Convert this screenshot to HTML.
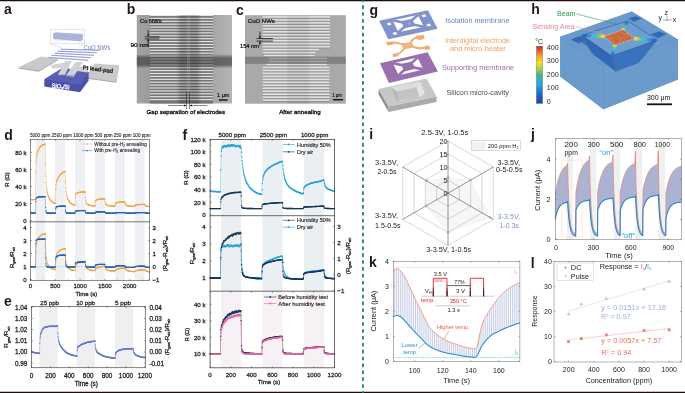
<!DOCTYPE html>
<html><head><meta charset="utf-8"><style>
html,body{margin:0;padding:0;background:#fff;width:685px;height:393px;overflow:hidden}
svg{display:block;will-change:transform;font-family:"Liberation Sans",sans-serif}
</style></head><body>
<svg width="685" height="393" viewBox="0 0 685 393">
<rect x="0" y="0" width="685" height="1.25" fill="#1f0d0c" />
<rect x="0" y="391.75" width="685" height="1.25" fill="#1f0d0c" />
<line x1="362.95" y1="-1.59" x2="362.95" y2="393" stroke="#1b7c4c" stroke-width="1.7" stroke-dasharray="3.6,3.29"/>
<rect x="35.37" y="139.6" width="9.93" height="140.9" fill="#eff0f4" />
<rect x="55.23" y="139.6" width="9.93" height="140.9" fill="#eff0f4" />
<rect x="75.1" y="139.6" width="9.93" height="140.9" fill="#eff0f4" />
<rect x="94.97" y="139.6" width="9.93" height="140.9" fill="#eff0f4" />
<rect x="114.83" y="139.6" width="9.93" height="140.9" fill="#eff0f4" />
<rect x="134.7" y="139.6" width="9.93" height="140.9" fill="#eff0f4" />
<line x1="30.4" y1="266.7" x2="149.6" y2="266.7" stroke="#8a8a8a" stroke-width="0.4" stroke-dasharray="1,0.8"/>
<defs><marker id="m0" markerUnits="userSpaceOnUse" markerWidth="1.44" markerHeight="1.44" refX="0.72" refY="0.72" overflow="visible"><circle cx="0.72" cy="0.72" r="0.62" fill="#f2a444"/></marker></defs>
<polyline points="30.4,199.58 30.7,199.58 31,199.58 31.29,199.58 31.59,199.58 31.89,199.58 32.19,199.58 32.49,199.58 32.78,199.58 33.08,199.58 33.38,199.58 33.68,199.58 33.98,199.58 34.27,199.58 34.57,199.58 34.87,199.58 35.17,199.58 35.47,199.58 35.76,171.42 36.06,161.81 36.36,157.9 36.66,155.81 36.96,154.37 37.25,153.2 37.55,152.19 37.85,151.3 38.15,150.51 38.45,149.79 38.74,149.16 39.04,148.58 39.34,148.07 39.64,147.61 39.94,147.2 40.23,146.83 40.53,146.5 40.83,146.2 41.13,145.93 41.43,145.69 41.72,145.48 42.02,145.29 42.32,145.11 42.62,144.96 42.92,144.82 43.21,144.7 43.51,144.58 43.81,144.48 44.11,144.4 44.41,144.31 44.7,144.24 45,144.18 45.3,144.12 45.6,164.55 45.9,175.88 46.19,182.45 46.49,186.52 46.79,189.23 47.09,191.18 47.39,192.69 47.68,193.93 47.98,194.98 48.28,195.9 48.58,196.72 48.88,197.44 49.17,198.1 49.47,198.68 49.77,199.21 50.07,199.69 50.37,200.13 50.66,200.52 50.96,200.88 51.26,201.2 51.56,201.49 51.86,201.75 52.15,201.99 52.45,202.2 52.75,202.4 53.05,202.57 53.35,202.73 53.64,202.88 53.94,203.01 54.24,203.13 54.54,203.23 54.84,203.33 55.13,203.42 55.43,203.5 55.73,189.45 56.03,184.6 56.33,182.56 56.62,181.4 56.92,180.55 57.22,179.81 57.52,179.15 57.82,178.53 58.11,177.96 58.41,177.42 58.71,176.92 59.01,176.45 59.31,176.01 59.6,175.6 59.9,175.21 60.2,174.86 60.5,174.52 60.8,174.2 61.09,173.91 61.39,173.63 61.69,173.38 61.99,173.14 62.29,172.91 62.58,172.7 62.88,172.5 63.18,172.32 63.48,172.14 63.78,171.98 64.07,171.83 64.37,171.69 64.67,171.56 64.97,171.43 65.27,171.32 65.56,181.91 65.86,187.93 66.16,191.55 66.46,193.89 66.76,195.52 67.05,196.75 67.35,197.73 67.65,198.56 67.95,199.27 68.25,199.9 68.54,200.46 68.84,200.97 69.14,201.42 69.44,201.83 69.74,202.2 70.03,202.53 70.33,202.83 70.63,203.1 70.93,203.35 71.23,203.57 71.52,203.78 71.82,203.96 72.12,204.12 72.42,204.27 72.72,204.41 73.01,204.53 73.31,204.64 73.61,204.74 73.91,204.83 74.21,204.91 74.5,204.99 74.8,205.06 75.1,205.12 75.4,197.2 75.7,194.69 75.99,193.81 76.29,193.44 76.59,193.23 76.89,193.08 77.19,192.95 77.48,192.84 77.78,192.74 78.08,192.66 78.38,192.58 78.68,192.5 78.97,192.44 79.27,192.38 79.57,192.32 79.87,192.28 80.17,192.23 80.46,192.19 80.76,192.16 81.06,192.12 81.36,192.09 81.66,192.07 81.95,192.04 82.25,192.02 82.55,192 82.85,191.98 83.15,191.97 83.44,191.95 83.74,191.94 84.04,191.93 84.34,191.92 84.64,191.91 84.93,191.9 85.23,191.89 85.53,197.54 85.83,200.55 86.13,202.2 86.42,203.14 86.72,203.71 87.02,204.08 87.32,204.34 87.62,204.53 87.91,204.69 88.21,204.82 88.51,204.93 88.81,205.03 89.11,205.12 89.4,205.2 89.7,205.27 90,205.34 90.3,205.39 90.6,205.45 90.89,205.49 91.19,205.54 91.49,205.58 91.79,205.61 92.09,205.64 92.38,205.67 92.68,205.7 92.98,205.72 93.28,205.75 93.58,205.76 93.87,205.78 94.17,205.8 94.47,205.81 94.77,205.83 95.07,205.84 95.36,201.91 95.66,200.63 95.96,200.17 96.26,199.95 96.56,199.82 96.85,199.71 97.15,199.62 97.45,199.54 97.75,199.47 98.05,199.4 98.34,199.34 98.64,199.28 98.94,199.23 99.24,199.18 99.54,199.14 99.83,199.1 100.13,199.06 100.43,199.03 100.73,199 101.03,198.97 101.32,198.94 101.62,198.92 101.92,198.9 102.22,198.88 102.52,198.86 102.81,198.84 103.11,198.83 103.41,198.81 103.71,198.8 104.01,198.79 104.3,198.78 104.6,198.77 104.9,198.76 105.2,201.58 105.5,203.1 105.79,203.95 106.09,204.44 106.39,204.75 106.69,204.95 106.99,205.1 107.28,205.22 107.58,205.32 107.88,205.4 108.18,205.47 108.48,205.53 108.77,205.59 109.07,205.64 109.37,205.69 109.67,205.73 109.97,205.76 110.26,205.8 110.56,205.83 110.86,205.86 111.16,205.88 111.46,205.9 111.75,205.93 112.05,205.94 112.35,205.96 112.65,205.98 112.95,205.99 113.24,206 113.54,206.01 113.84,206.02 114.14,206.03 114.44,206.04 114.73,206.05 115.03,206.06 115.33,203.87 115.63,203.15 115.93,202.88 116.22,202.74 116.52,202.65 116.82,202.58 117.12,202.51 117.42,202.45 117.71,202.4 118.01,202.35 118.31,202.31 118.61,202.27 118.91,202.23 119.2,202.2 119.5,202.17 119.8,202.14 120.1,202.11 120.4,202.09 120.69,202.07 120.99,202.05 121.29,202.03 121.59,202.01 121.89,201.99 122.18,201.98 122.48,201.97 122.78,201.95 123.08,201.94 123.38,201.93 123.67,201.92 123.97,201.92 124.27,201.91 124.57,201.9 124.87,201.89 125.16,203.48 125.46,204.36 125.76,204.86 126.06,205.16 126.36,205.36 126.65,205.49 126.95,205.6 127.25,205.68 127.55,205.76 127.85,205.82 128.14,205.87 128.44,205.92 128.74,205.96 129.04,206 129.34,206.04 129.63,206.07 129.93,206.1 130.23,206.13 130.53,206.15 130.83,206.17 131.12,206.19 131.42,206.21 131.72,206.22 132.02,206.24 132.32,206.25 132.61,206.26 132.91,206.27 133.21,206.28 133.51,206.29 133.81,206.3 134.1,206.31 134.4,206.31 134.7,206.32 135,205.32 135.3,204.99 135.59,204.86 135.89,204.8 136.19,204.76 136.49,204.73 136.79,204.7 137.08,204.68 137.38,204.65 137.68,204.63 137.98,204.61 138.28,204.59 138.57,204.58 138.87,204.56 139.17,204.55 139.47,204.54 139.77,204.53 140.06,204.52 140.36,204.51 140.66,204.5 140.96,204.49 141.26,204.48 141.55,204.47 141.85,204.47 142.15,204.46 142.45,204.46 142.75,204.45 143.04,204.45 143.34,204.44 143.64,204.44 143.94,204.44 144.24,204.43 144.53,204.43 144.83,204.43 145.13,205.19 145.43,205.62 145.73,205.87 146.02,206.03 146.32,206.14 146.62,206.22 146.92,206.29 147.22,206.34 147.51,206.39 147.81,206.43 148.11,206.46 148.41,206.5 148.71,206.53 149,206.55 149.3,206.58 149.6,206.6" fill="none" stroke="#f2a444" stroke-width="0.35" marker-start="url(#m0)" marker-mid="url(#m0)" marker-end="url(#m0)" />
<defs><marker id="m1" markerUnits="userSpaceOnUse" markerWidth="1.44" markerHeight="1.44" refX="0.72" refY="0.72" overflow="visible"><circle cx="0.72" cy="0.72" r="0.62" fill="#2464b2"/></marker></defs>
<polyline points="30.4,213.09 30.7,213.09 31,213.09 31.29,213.09 31.59,213.09 31.89,213.09 32.19,213.09 32.49,213.09 32.78,213.09 33.08,213.09 33.38,213.09 33.68,213.09 33.98,213.09 34.27,213.09 34.57,213.09 34.87,213.09 35.17,213.09 35.47,213.09 35.76,201.58 36.06,198.83 36.36,198.06 36.66,197.76 36.96,197.57 37.25,197.43 37.55,197.31 37.85,197.21 38.15,197.13 38.45,197.06 38.74,196.99 39.04,196.94 39.34,196.89 39.64,196.85 39.94,196.82 40.23,196.79 40.53,196.76 40.83,196.74 41.13,196.72 41.43,196.7 41.72,196.69 42.02,196.68 42.32,196.66 42.62,196.66 42.92,196.65 43.21,196.64 43.51,196.64 43.81,196.63 44.11,196.63 44.41,196.62 44.7,196.62 45,196.62 45.3,196.61 45.6,207.41 45.9,210.92 46.19,212.14 46.49,212.63 46.79,212.85 47.09,212.97 47.39,213.04 47.68,213.09 47.98,213.12 48.28,213.14 48.58,213.15 48.88,213.16 49.17,213.16 49.47,213.17 49.77,213.17 50.07,213.17 50.37,213.17 50.66,213.17 50.96,213.17 51.26,213.17 51.56,213.17 51.86,213.17 52.15,213.17 52.45,213.17 52.75,213.17 53.05,213.17 53.35,213.17 53.64,213.17 53.94,213.17 54.24,213.17 54.54,213.17 54.84,213.17 55.13,213.17 55.43,213.17 55.73,208.4 56.03,207.23 56.33,206.89 56.62,206.74 56.92,206.65 57.22,206.57 57.52,206.51 57.82,206.45 58.11,206.41 58.41,206.37 58.71,206.33 59.01,206.3 59.31,206.28 59.6,206.26 59.9,206.24 60.2,206.22 60.5,206.21 60.8,206.19 61.09,206.18 61.39,206.18 61.69,206.17 61.99,206.16 62.29,206.16 62.58,206.15 62.88,206.15 63.18,206.14 63.48,206.14 63.78,206.14 64.07,206.13 64.37,206.13 64.67,206.13 64.97,206.13 65.27,206.13 65.56,210.65 65.86,212.14 66.16,212.68 66.46,212.9 66.76,213.01 67.05,213.07 67.35,213.11 67.65,213.13 67.95,213.14 68.25,213.15 68.54,213.16 68.84,213.17 69.14,213.17 69.44,213.17 69.74,213.17 70.03,213.17 70.33,213.17 70.63,213.17 70.93,213.17 71.23,213.17 71.52,213.17 71.82,213.17 72.12,213.17 72.42,213.17 72.72,213.17 73.01,213.17 73.31,213.17 73.61,213.17 73.91,213.17 74.21,213.17 74.5,213.17 74.8,213.17 75.1,213.17 75.4,211.45 75.7,211.02 75.99,210.89 76.29,210.83 76.59,210.78 76.89,210.75 77.19,210.72 77.48,210.69 77.78,210.67 78.08,210.65 78.38,210.64 78.68,210.62 78.97,210.61 79.27,210.6 79.57,210.59 79.87,210.59 80.17,210.58 80.46,210.57 80.76,210.57 81.06,210.57 81.36,210.56 81.66,210.56 81.95,210.56 82.25,210.55 82.55,210.55 82.85,210.55 83.15,210.55 83.44,210.55 83.74,210.55 84.04,210.55 84.34,210.54 84.64,210.54 84.93,210.54 85.23,210.54 85.53,212.2 85.83,212.75 86.13,212.96 86.42,213.06 86.72,213.1 87.02,213.13 87.32,213.14 87.62,213.15 87.91,213.16 88.21,213.17 88.51,213.17 88.81,213.17 89.11,213.17 89.4,213.17 89.7,213.17 90,213.17 90.3,213.17 90.6,213.17 90.89,213.17 91.19,213.17 91.49,213.17 91.79,213.17 92.09,213.17 92.38,213.17 92.68,213.17 92.98,213.17 93.28,213.17 93.58,213.17 93.87,213.17 94.17,213.17 94.47,213.17 94.77,213.17 95.07,213.17 95.36,212.34 95.66,212.12 95.96,212.04 96.26,212 96.56,211.98 96.85,211.95 97.15,211.93 97.45,211.92 97.75,211.9 98.05,211.89 98.34,211.88 98.64,211.87 98.94,211.86 99.24,211.86 99.54,211.85 99.83,211.85 100.13,211.84 100.43,211.84 100.73,211.83 101.03,211.83 101.32,211.83 101.62,211.83 101.92,211.83 102.22,211.82 102.52,211.82 102.81,211.82 103.11,211.82 103.41,211.82 103.71,211.82 104.01,211.82 104.3,211.82 104.6,211.82 104.9,211.82 105.2,212.64 105.5,212.93 105.79,213.05 106.09,213.1 106.39,213.13 106.69,213.14 106.99,213.15 107.28,213.16 107.58,213.17 107.88,213.17 108.18,213.17 108.48,213.17 108.77,213.17 109.07,213.17 109.37,213.17 109.67,213.17 109.97,213.17 110.26,213.17 110.56,213.17 110.86,213.17 111.16,213.17 111.46,213.17 111.75,213.17 112.05,213.17 112.35,213.17 112.65,213.17 112.95,213.17 113.24,213.17 113.54,213.17 113.84,213.17 114.14,213.17 114.44,213.17 114.73,213.17 115.03,213.17 115.33,212.82 115.63,212.73 115.93,212.69 116.22,212.67 116.52,212.66 116.82,212.65 117.12,212.64 117.42,212.63 117.71,212.62 118.01,212.62 118.31,212.61 118.61,212.61 118.91,212.6 119.2,212.6 119.5,212.6 119.8,212.6 120.1,212.59 120.4,212.59 120.69,212.59 120.99,212.59 121.29,212.59 121.59,212.59 121.89,212.59 122.18,212.58 122.48,212.58 122.78,212.58 123.08,212.58 123.38,212.58 123.67,212.58 123.97,212.58 124.27,212.58 124.57,212.58 124.87,212.58 125.16,212.93 125.46,213.06 125.76,213.11 126.06,213.14 126.36,213.15 126.65,213.16 126.95,213.16 127.25,213.17 127.55,213.17 127.85,213.17 128.14,213.17 128.44,213.17 128.74,213.17 129.04,213.17 129.34,213.17 129.63,213.17 129.93,213.17 130.23,213.17 130.53,213.17 130.83,213.17 131.12,213.17 131.42,213.17 131.72,213.17 132.02,213.17 132.32,213.17 132.61,213.17 132.91,213.17 133.21,213.17 133.51,213.17 133.81,213.17 134.1,213.17 134.4,213.17 134.7,213.17 135,212.82 135.3,212.73 135.59,212.69 135.89,212.67 136.19,212.66 136.49,212.65 136.79,212.64 137.08,212.63 137.38,212.62 137.68,212.62 137.98,212.61 138.28,212.61 138.57,212.6 138.87,212.6 139.17,212.6 139.47,212.6 139.77,212.59 140.06,212.59 140.36,212.59 140.66,212.59 140.96,212.59 141.26,212.59 141.55,212.59 141.85,212.58 142.15,212.58 142.45,212.58 142.75,212.58 143.04,212.58 143.34,212.58 143.64,212.58 143.94,212.58 144.24,212.58 144.53,212.58 144.83,212.58 145.13,212.93 145.43,213.06 145.73,213.11 146.02,213.14 146.32,213.15 146.62,213.16 146.92,213.16 147.22,213.17 147.51,213.17 147.81,213.17 148.11,213.17 148.41,213.17 148.71,213.17 149,213.17 149.3,213.17 149.6,213.17" fill="none" stroke="#2464b2" stroke-width="0.35" marker-start="url(#m1)" marker-mid="url(#m1)" marker-end="url(#m1)" />
<polyline points="30.4,266.96 30.7,266.96 31,266.96 31.29,266.96 31.59,266.96 31.89,266.96 32.19,266.96 32.49,266.96 32.78,266.96 33.08,266.96 33.38,266.96 33.68,266.96 33.98,266.96 34.27,266.96 34.57,266.96 34.87,266.96 35.17,266.96 35.47,266.96 35.76,252.51 36.06,246.5 36.36,243.68 36.66,242.08 36.96,241 37.25,240.15 37.55,239.44 37.85,238.83 38.15,238.28 38.45,237.79 38.74,237.35 39.04,236.96 39.34,236.6 39.64,236.29 39.94,236.01 40.23,235.75 40.53,235.52 40.83,235.32 41.13,235.14 41.43,234.97 41.72,234.83 42.02,234.69 42.32,234.58 42.62,234.47 42.92,234.37 43.21,234.29 43.51,234.21 43.81,234.14 44.11,234.08 44.41,234.03 44.7,233.98 45,233.93 45.3,233.89 45.6,246.58 45.9,253.28 46.19,257.08 46.49,259.43 46.79,261.03 47.09,262.23 47.39,263.18 47.68,263.98 47.98,264.66 48.28,265.25 48.58,265.77 48.88,266.23 49.17,266.64 49.47,267 49.77,267.32 50.07,267.6 50.37,267.85 50.66,268.08 50.96,268.27 51.26,268.45 51.56,268.6 51.86,268.74 52.15,268.86 52.45,268.97 52.75,269.07 53.05,269.15 53.35,269.23 53.64,269.29 53.94,269.35 54.24,269.41 54.54,269.45 54.84,269.49 55.13,269.53 55.43,269.56 55.73,260.66 56.03,257.01 56.33,255.32 56.62,254.39 56.92,253.75 57.22,253.25 57.52,252.82 57.82,252.44 58.11,252.09 58.41,251.77 58.71,251.48 59.01,251.22 59.31,250.97 59.6,250.75 59.9,250.54 60.2,250.35 60.5,250.18 60.8,250.02 61.09,249.87 61.39,249.74 61.69,249.62 61.99,249.5 62.29,249.4 62.58,249.3 62.88,249.22 63.18,249.14 63.48,249.06 63.78,249 64.07,248.93 64.37,248.88 64.67,248.82 64.97,248.78 65.27,248.73 65.56,256.59 65.86,260.72 66.16,263.04 66.46,264.47 66.76,265.43 67.05,266.14 67.35,266.7 67.65,267.17 67.95,267.57 68.25,267.92 68.54,268.23 68.84,268.5 69.14,268.74 69.44,268.95 69.74,269.13 70.03,269.3 70.33,269.45 70.63,269.58 70.93,269.69 71.23,269.8 71.52,269.89 71.82,269.97 72.12,270.04 72.42,270.1 72.72,270.16 73.01,270.21 73.31,270.25 73.61,270.29 73.91,270.33 74.21,270.36 74.5,270.39 74.8,270.41 75.1,270.43 75.4,267.11 75.7,265.66 75.99,264.9 76.29,264.43 76.59,264.09 76.89,263.8 77.19,263.55 77.48,263.33 77.78,263.13 78.08,262.95 78.38,262.78 78.68,262.64 78.97,262.5 79.27,262.38 79.57,262.28 79.87,262.18 80.17,262.09 80.46,262.01 80.76,261.93 81.06,261.87 81.36,261.81 81.66,261.75 81.95,261.71 82.25,261.66 82.55,261.62 82.85,261.58 83.15,261.55 83.44,261.52 83.74,261.5 84.04,261.47 84.34,261.45 84.64,261.43 84.93,261.41 85.23,261.39 85.53,264.32 85.83,265.92 86.13,266.87 86.42,267.49 86.72,267.94 87.02,268.28 87.32,268.57 87.62,268.81 87.91,269.01 88.21,269.2 88.51,269.36 88.81,269.5 89.11,269.62 89.4,269.73 89.7,269.83 90,269.92 90.3,269.99 90.6,270.06 90.89,270.12 91.19,270.18 91.49,270.23 91.79,270.27 92.09,270.31 92.38,270.34 92.68,270.37 92.98,270.39 93.28,270.42 93.58,270.44 93.87,270.46 94.17,270.47 94.47,270.49 94.77,270.5 95.07,270.51 95.36,269.46 95.66,268.95 95.96,268.64 96.26,268.42 96.56,268.23 96.85,268.07 97.15,267.92 97.45,267.79 97.75,267.66 98.05,267.54 98.34,267.44 98.64,267.34 98.94,267.24 99.24,267.16 99.54,267.08 99.83,267 100.13,266.93 100.43,266.87 100.73,266.81 101.03,266.76 101.32,266.7 101.62,266.66 101.92,266.61 102.22,266.57 102.52,266.53 102.81,266.5 103.11,266.47 103.41,266.44 103.71,266.41 104.01,266.38 104.3,266.36 104.6,266.34 104.9,266.32 105.2,267.4 105.5,268.07 105.79,268.54 106.09,268.89 106.39,269.17 106.69,269.4 106.99,269.6 107.28,269.78 107.58,269.93 107.88,270.06 108.18,270.18 108.48,270.29 108.77,270.38 109.07,270.47 109.37,270.54 109.67,270.61 109.97,270.66 110.26,270.72 110.56,270.76 110.86,270.8 111.16,270.84 111.46,270.87 111.75,270.9 112.05,270.92 112.35,270.95 112.65,270.97 112.95,270.98 113.24,271 113.54,271.01 113.84,271.02 114.14,271.04 114.44,271.04 114.73,271.05 115.03,271.06 115.33,270.46 115.63,270.13 115.93,269.91 116.22,269.73 116.52,269.58 116.82,269.44 117.12,269.32 117.42,269.21 117.71,269.1 118.01,269 118.31,268.91 118.61,268.83 118.91,268.75 119.2,268.67 119.5,268.61 119.8,268.54 120.1,268.49 120.4,268.43 120.69,268.38 120.99,268.34 121.29,268.29 121.59,268.25 121.89,268.22 122.18,268.18 122.48,268.15 122.78,268.12 123.08,268.09 123.38,268.07 123.67,268.04 123.97,268.02 124.27,268 124.57,267.98 124.87,267.96 125.16,268.65 125.46,269.12 125.76,269.46 126.06,269.74 126.36,269.96 126.65,270.16 126.95,270.33 127.25,270.48 127.55,270.61 127.85,270.73 128.14,270.83 128.44,270.92 128.74,271 129.04,271.08 129.34,271.14 129.63,271.2 129.93,271.25 130.23,271.29 130.53,271.33 130.83,271.37 131.12,271.4 131.42,271.42 131.72,271.45 132.02,271.47 132.32,271.49 132.61,271.51 132.91,271.52 133.21,271.53 133.51,271.55 133.81,271.56 134.1,271.57 134.4,271.57 134.7,271.58 135,271.22 135.3,271.02 135.59,270.88 135.89,270.78 136.19,270.68 136.49,270.6 136.79,270.53 137.08,270.46 137.38,270.39 137.68,270.33 137.98,270.28 138.28,270.22 138.57,270.18 138.87,270.13 139.17,270.09 139.47,270.05 139.77,270.02 140.06,269.98 140.36,269.95 140.66,269.92 140.96,269.9 141.26,269.87 141.55,269.85 141.85,269.83 142.15,269.81 142.45,269.79 142.75,269.78 143.04,269.76 143.34,269.75 143.64,269.73 143.94,269.72 144.24,269.71 144.53,269.7 144.83,269.69 145.13,270.13 145.43,270.43 145.73,270.67 146.02,270.85 146.32,271.01 146.62,271.14 146.92,271.26 147.22,271.36 147.51,271.45 147.81,271.53 148.11,271.6 148.41,271.67 148.71,271.72 149,271.77 149.3,271.82 149.6,271.85" fill="none" stroke="#f2a444" stroke-width="0.35" marker-start="url(#m0)" marker-mid="url(#m0)" marker-end="url(#m0)" />
<polyline points="30.4,266.7 30.7,266.7 31,266.7 31.29,266.7 31.59,266.7 31.89,266.7 32.19,266.7 32.49,266.7 32.78,266.7 33.08,266.7 33.38,266.7 33.68,266.7 33.98,266.7 34.27,266.7 34.57,266.7 34.87,266.7 35.17,266.7 35.47,266.7 35.76,243.91 36.06,240.62 36.36,240 36.66,239.78 36.96,239.63 37.25,239.52 37.55,239.43 37.85,239.35 38.15,239.29 38.45,239.24 38.74,239.2 39.04,239.16 39.34,239.14 39.64,239.11 39.94,239.09 40.23,239.08 40.53,239.07 40.83,239.06 41.13,239.05 41.43,239.04 41.72,239.04 42.02,239.03 42.32,239.03 42.62,239.02 42.92,239.02 43.21,239.02 43.51,239.02 43.81,239.02 44.11,239.02 44.41,239.01 44.7,239.01 45,239.01 45.3,239.01 45.6,257.87 45.9,263.8 46.19,265.75 46.49,266.46 46.79,266.74 47.09,266.88 47.39,266.96 47.68,267 47.98,267.03 48.28,267.05 48.58,267.06 48.88,267.07 49.17,267.08 49.47,267.08 49.77,267.08 50.07,267.09 50.37,267.09 50.66,267.09 50.96,267.09 51.26,267.09 51.56,267.09 51.86,267.09 52.15,267.09 52.45,267.09 52.75,267.09 53.05,267.09 53.35,267.09 53.64,267.09 53.94,267.09 54.24,267.09 54.54,267.09 54.84,267.09 55.13,267.09 55.43,267.09 55.73,258.81 56.03,257.38 56.33,256.93 56.62,256.64 56.92,256.41 57.22,256.22 57.52,256.05 57.82,255.9 58.11,255.78 58.41,255.67 58.71,255.57 59.01,255.49 59.31,255.43 59.6,255.37 59.9,255.32 60.2,255.27 60.5,255.23 60.8,255.2 61.09,255.17 61.39,255.15 61.69,255.13 61.99,255.11 62.29,255.09 62.58,255.08 62.88,255.07 63.18,255.06 63.48,255.05 63.78,255.04 64.07,255.04 64.37,255.03 64.67,255.03 64.97,255.02 65.27,255.02 65.56,262.36 65.86,264.93 66.16,265.95 66.46,266.42 66.76,266.67 67.05,266.81 67.35,266.91 67.65,266.97 67.95,267.01 68.25,267.04 68.54,267.05 68.84,267.07 69.14,267.07 69.44,267.08 69.74,267.08 70.03,267.09 70.33,267.09 70.63,267.09 70.93,267.09 71.23,267.09 71.52,267.09 71.82,267.09 72.12,267.09 72.42,267.09 72.72,267.09 73.01,267.09 73.31,267.09 73.61,267.09 73.91,267.09 74.21,267.09 74.5,267.09 74.8,267.09 75.1,267.09 75.4,263.54 75.7,262.92 75.99,262.73 76.29,262.6 76.59,262.5 76.89,262.42 77.19,262.34 77.48,262.28 77.78,262.23 78.08,262.18 78.38,262.14 78.68,262.1 78.97,262.07 79.27,262.05 79.57,262.03 79.87,262.01 80.17,261.99 80.46,261.98 80.76,261.97 81.06,261.95 81.36,261.95 81.66,261.94 81.95,261.93 82.25,261.93 82.55,261.92 82.85,261.92 83.15,261.91 83.44,261.91 83.74,261.91 84.04,261.9 84.34,261.9 84.64,261.9 84.93,261.9 85.23,261.9 85.53,265.05 85.83,266.16 86.13,266.59 86.42,266.8 86.72,266.91 87.02,266.97 87.32,267.01 87.62,267.04 87.91,267.05 88.21,267.07 88.51,267.07 88.81,267.08 89.11,267.08 89.4,267.09 89.7,267.09 90,267.09 90.3,267.09 90.6,267.09 90.89,267.09 91.19,267.09 91.49,267.09 91.79,267.09 92.09,267.09 92.38,267.09 92.68,267.09 92.98,267.09 93.28,267.09 93.58,267.09 93.87,267.09 94.17,267.09 94.47,267.09 94.77,267.09 95.07,267.09 95.36,265.3 95.66,264.97 95.96,264.86 96.26,264.79 96.56,264.73 96.85,264.68 97.15,264.63 97.45,264.59 97.75,264.56 98.05,264.53 98.34,264.51 98.64,264.49 98.94,264.47 99.24,264.46 99.54,264.44 99.83,264.43 100.13,264.42 100.43,264.41 100.73,264.41 101.03,264.4 101.32,264.39 101.62,264.39 101.92,264.38 102.22,264.38 102.52,264.38 102.81,264.38 103.11,264.37 103.41,264.37 103.71,264.37 104.01,264.37 104.3,264.37 104.6,264.37 104.9,264.37 105.2,266.03 105.5,266.64 105.79,266.89 106.09,267.02 106.39,267.09 106.69,267.14 106.99,267.16 107.28,267.18 107.58,267.2 107.88,267.2 108.18,267.21 108.48,267.21 108.77,267.22 109.07,267.22 109.37,267.22 109.67,267.22 109.97,267.22 110.26,267.22 110.56,267.22 110.86,267.22 111.16,267.22 111.46,267.22 111.75,267.22 112.05,267.22 112.35,267.22 112.65,267.22 112.95,267.22 113.24,267.22 113.54,267.22 113.84,267.22 114.14,267.22 114.44,267.22 114.73,267.22 115.03,267.22 115.33,266.25 115.63,266.06 115.93,265.99 116.22,265.95 116.52,265.91 116.82,265.87 117.12,265.84 117.42,265.82 117.71,265.79 118.01,265.78 118.31,265.76 118.61,265.75 118.91,265.73 119.2,265.72 119.5,265.71 119.8,265.71 120.1,265.7 120.4,265.69 120.69,265.69 120.99,265.69 121.29,265.68 121.59,265.68 121.89,265.68 122.18,265.67 122.48,265.67 122.78,265.67 123.08,265.67 123.38,265.67 123.67,265.67 123.97,265.67 124.27,265.66 124.57,265.66 124.87,265.66 125.16,266.6 125.46,266.97 125.76,267.13 126.06,267.21 126.36,267.26 126.65,267.29 126.95,267.31 127.25,267.32 127.55,267.33 127.85,267.34 128.14,267.34 128.44,267.34 128.74,267.35 129.04,267.35 129.34,267.35 129.63,267.35 129.93,267.35 130.23,267.35 130.53,267.35 130.83,267.35 131.12,267.35 131.42,267.35 131.72,267.35 132.02,267.35 132.32,267.35 132.61,267.35 132.91,267.35 133.21,267.35 133.51,267.35 133.81,267.35 134.1,267.35 134.4,267.35 134.7,267.35 135,266.72 135.3,266.58 135.59,266.51 135.89,266.47 136.19,266.43 136.49,266.39 136.79,266.36 137.08,266.34 137.38,266.31 137.68,266.3 137.98,266.28 138.28,266.27 138.57,266.25 138.87,266.24 139.17,266.23 139.47,266.23 139.77,266.22 140.06,266.21 140.36,266.21 140.66,266.21 140.96,266.2 141.26,266.2 141.55,266.2 141.85,266.19 142.15,266.19 142.45,266.19 142.75,266.19 143.04,266.19 143.34,266.19 143.64,266.19 143.94,266.18 144.24,266.18 144.53,266.18 144.83,266.18 145.13,266.81 145.43,267.06 145.73,267.18 146.02,267.24 146.32,267.28 146.62,267.3 146.92,267.32 147.22,267.33 147.51,267.34 147.81,267.34 148.11,267.34 148.41,267.35 148.71,267.35 149,267.35 149.3,267.35 149.6,267.35" fill="none" stroke="#2464b2" stroke-width="0.35" marker-start="url(#m1)" marker-mid="url(#m1)" marker-end="url(#m1)" />
<rect x="30.4" y="139.6" width="119.2" height="140.9" fill="none" stroke="#6a6a6a" stroke-width="0.75"/>
<line x1="29.2" y1="221.8" x2="149.6" y2="221.8" stroke="#4a4a4a" stroke-width="0.75" />
<line x1="30.4" y1="220.4" x2="32" y2="220.4" stroke="#231f20" stroke-width="0.4" />
<line x1="30.4" y1="211.9" x2="31.4" y2="211.9" stroke="#231f20" stroke-width="0.4" />
<line x1="30.4" y1="203.4" x2="32" y2="203.4" stroke="#231f20" stroke-width="0.4" />
<line x1="30.4" y1="194.9" x2="31.4" y2="194.9" stroke="#231f20" stroke-width="0.4" />
<line x1="30.4" y1="186.4" x2="32" y2="186.4" stroke="#231f20" stroke-width="0.4" />
<line x1="30.4" y1="177.9" x2="31.4" y2="177.9" stroke="#231f20" stroke-width="0.4" />
<line x1="30.4" y1="169.4" x2="32" y2="169.4" stroke="#231f20" stroke-width="0.4" />
<line x1="30.4" y1="160.9" x2="31.4" y2="160.9" stroke="#231f20" stroke-width="0.4" />
<line x1="30.4" y1="152.4" x2="32" y2="152.4" stroke="#231f20" stroke-width="0.4" />
<line x1="30.4" y1="279.7" x2="32" y2="279.7" stroke="#231f20" stroke-width="0.4" />
<line x1="149.6" y1="279.7" x2="148" y2="279.7" stroke="#231f20" stroke-width="0.4" />
<line x1="30.4" y1="266.7" x2="32" y2="266.7" stroke="#231f20" stroke-width="0.4" />
<line x1="149.6" y1="266.7" x2="148" y2="266.7" stroke="#231f20" stroke-width="0.4" />
<line x1="30.4" y1="253.7" x2="32" y2="253.7" stroke="#231f20" stroke-width="0.4" />
<line x1="149.6" y1="253.7" x2="148" y2="253.7" stroke="#231f20" stroke-width="0.4" />
<line x1="30.4" y1="240.7" x2="32" y2="240.7" stroke="#231f20" stroke-width="0.4" />
<line x1="149.6" y1="240.7" x2="148" y2="240.7" stroke="#231f20" stroke-width="0.4" />
<line x1="30.4" y1="227.7" x2="32" y2="227.7" stroke="#231f20" stroke-width="0.4" />
<line x1="149.6" y1="227.7" x2="148" y2="227.7" stroke="#231f20" stroke-width="0.4" />
<line x1="30.4" y1="280.5" x2="30.4" y2="278.9" stroke="#231f20" stroke-width="0.4" />
<line x1="30.4" y1="139.6" x2="30.4" y2="141.2" stroke="#231f20" stroke-width="0.4" />
<line x1="42.82" y1="280.5" x2="42.82" y2="279.5" stroke="#231f20" stroke-width="0.4" />
<line x1="42.82" y1="139.6" x2="42.82" y2="140.6" stroke="#231f20" stroke-width="0.4" />
<line x1="55.23" y1="280.5" x2="55.23" y2="278.9" stroke="#231f20" stroke-width="0.4" />
<line x1="55.23" y1="139.6" x2="55.23" y2="141.2" stroke="#231f20" stroke-width="0.4" />
<line x1="67.65" y1="280.5" x2="67.65" y2="279.5" stroke="#231f20" stroke-width="0.4" />
<line x1="67.65" y1="139.6" x2="67.65" y2="140.6" stroke="#231f20" stroke-width="0.4" />
<line x1="80.07" y1="280.5" x2="80.07" y2="278.9" stroke="#231f20" stroke-width="0.4" />
<line x1="80.07" y1="139.6" x2="80.07" y2="141.2" stroke="#231f20" stroke-width="0.4" />
<line x1="92.48" y1="280.5" x2="92.48" y2="279.5" stroke="#231f20" stroke-width="0.4" />
<line x1="92.48" y1="139.6" x2="92.48" y2="140.6" stroke="#231f20" stroke-width="0.4" />
<line x1="104.9" y1="280.5" x2="104.9" y2="278.9" stroke="#231f20" stroke-width="0.4" />
<line x1="104.9" y1="139.6" x2="104.9" y2="141.2" stroke="#231f20" stroke-width="0.4" />
<line x1="117.32" y1="280.5" x2="117.32" y2="279.5" stroke="#231f20" stroke-width="0.4" />
<line x1="117.32" y1="139.6" x2="117.32" y2="140.6" stroke="#231f20" stroke-width="0.4" />
<line x1="129.73" y1="280.5" x2="129.73" y2="278.9" stroke="#231f20" stroke-width="0.4" />
<line x1="129.73" y1="139.6" x2="129.73" y2="141.2" stroke="#231f20" stroke-width="0.4" />
<line x1="142.15" y1="280.5" x2="142.15" y2="279.5" stroke="#231f20" stroke-width="0.4" />
<line x1="142.15" y1="139.6" x2="142.15" y2="140.6" stroke="#231f20" stroke-width="0.4" />
<text x="26.6" y="222.56" font-size="6" fill="#231f20" text-anchor="end" stroke="#231f20" stroke-width="0.27">0</text>
<text x="26.6" y="205.56" font-size="6" fill="#231f20" text-anchor="end" stroke="#231f20" stroke-width="0.27">20 k</text>
<text x="26.6" y="188.56" font-size="6" fill="#231f20" text-anchor="end" stroke="#231f20" stroke-width="0.27">40 k</text>
<text x="26.6" y="171.56" font-size="6" fill="#231f20" text-anchor="end" stroke="#231f20" stroke-width="0.27">60 k</text>
<text x="26.6" y="154.56" font-size="6" fill="#231f20" text-anchor="end" stroke="#231f20" stroke-width="0.27">80 k</text>
<text x="26.6" y="281.86" font-size="6" fill="#231f20" text-anchor="end" stroke="#231f20" stroke-width="0.27">0</text>
<text x="152.6" y="281.86" font-size="6" fill="#231f20" stroke="#231f20" stroke-width="0.27">−1</text>
<text x="26.6" y="268.86" font-size="6" fill="#231f20" text-anchor="end" stroke="#231f20" stroke-width="0.27">1</text>
<text x="152.6" y="268.86" font-size="6" fill="#231f20" stroke="#231f20" stroke-width="0.27">0</text>
<text x="26.6" y="255.86" font-size="6" fill="#231f20" text-anchor="end" stroke="#231f20" stroke-width="0.27">2</text>
<text x="152.6" y="255.86" font-size="6" fill="#231f20" stroke="#231f20" stroke-width="0.27">1</text>
<text x="26.6" y="242.86" font-size="6" fill="#231f20" text-anchor="end" stroke="#231f20" stroke-width="0.27">3</text>
<text x="152.6" y="242.86" font-size="6" fill="#231f20" stroke="#231f20" stroke-width="0.27">2</text>
<text x="26.6" y="229.86" font-size="6" fill="#231f20" text-anchor="end" stroke="#231f20" stroke-width="0.27">4</text>
<text x="152.6" y="229.86" font-size="6" fill="#231f20" stroke="#231f20" stroke-width="0.27">3</text>
<text x="30.4" y="288.06" font-size="6" fill="#231f20" text-anchor="middle" stroke="#231f20" stroke-width="0.27">0</text>
<text x="55.23" y="288.06" font-size="6" fill="#231f20" text-anchor="middle" stroke="#231f20" stroke-width="0.27">500</text>
<text x="80.07" y="288.06" font-size="6" fill="#231f20" text-anchor="middle" stroke="#231f20" stroke-width="0.27">1000</text>
<text x="104.9" y="288.06" font-size="6" fill="#231f20" text-anchor="middle" stroke="#231f20" stroke-width="0.27">1500</text>
<text x="129.73" y="288.06" font-size="6" fill="#231f20" text-anchor="middle" stroke="#231f20" stroke-width="0.27">2000</text>
<text x="86.3" y="295.56" font-size="6" fill="#231f20" text-anchor="middle" stroke="#231f20" stroke-width="0.27">Time (s)</text>
<text transform="translate(9.06,179.6) rotate(-90)" font-size="6" fill="#231f20" text-anchor="middle" stroke="#231f20" stroke-width="0.27">R (Ω)</text>
<text transform="translate(13.66,257.5) rotate(-90)" font-size="6" fill="#231f20" text-anchor="middle" stroke="#231f20" stroke-width="0.27">R<tspan dy="1.5" font-size="3.9">gas</tspan><tspan dy="-1.5">/R</tspan><tspan dy="1.5" font-size="3.9">air</tspan></text>
<text transform="translate(166.66,253.5) rotate(-90)" font-size="6" fill="#231f20" text-anchor="middle" stroke="#231f20" stroke-width="0.27">(R<tspan dy="1.5" font-size="3.9">gas</tspan><tspan dy="-1.5">-R</tspan><tspan dy="1.5" font-size="3.9">air</tspan><tspan dy="-1.5">)/R</tspan><tspan dy="1.5" font-size="3.9">air</tspan></text>
<text x="30" y="137.35" font-size="4.57" fill="#231f20" textLength="120.6" lengthAdjust="spacingAndGlyphs" stroke="#231f20" stroke-width="0.1">5000 ppm 2500 ppm 1000 ppm 500 ppm 250 ppm 100 ppm</text>
<line x1="82.2" y1="144" x2="92" y2="144" stroke="#f2a444" stroke-width="0.5" />
<circle cx="87.1" cy="144" r="0.8" fill="#f2a444"/>
<line x1="82.2" y1="150.6" x2="92" y2="150.6" stroke="#2464b2" stroke-width="0.5" />
<circle cx="87.1" cy="150.6" r="0.8" fill="#2464b2"/>
<text x="94.2" y="145.66" font-size="4.6" fill="#231f20" textLength="52.6" lengthAdjust="spacingAndGlyphs" stroke="#231f20" stroke-width="0.1">Without pre-H<tspan dy="1" font-size="3">2</tspan><tspan dy="-1"> annealing</tspan></text>
<text x="94.2" y="152.26" font-size="4.6" fill="#231f20" textLength="45.8" lengthAdjust="spacingAndGlyphs" stroke="#231f20" stroke-width="0.1">With pre-H<tspan dy="1" font-size="3">2</tspan><tspan dy="-1"> annealing</tspan></text>
<text x="4.25" y="139.5" font-size="14" fill="#231815" font-weight="bold">d</text>
<rect x="39.4" y="306.5" width="18.1" height="61.2" fill="#efeff1" />
<rect x="76.8" y="306.5" width="18.2" height="61.2" fill="#efeff1" />
<rect x="115" y="306.5" width="18.2" height="61.2" fill="#efeff1" />
<defs><marker id="m2" markerUnits="userSpaceOnUse" markerWidth="1.64" markerHeight="1.64" refX="0.82" refY="0.82" overflow="visible"><circle cx="0.82" cy="0.82" r="0.72" fill="#6a7ac6"/></marker></defs>
<polyline points="31.6,351.87 31.88,352.09 32.17,352.07 32.45,352.25 32.73,352.33 33.02,352.11 33.3,352.15 33.58,352.62 33.86,352.39 34.15,352.43 34.43,352.87 34.71,352.66 35,352.89 35.28,352.77 35.56,352.9 35.85,352.7 36.13,352.99 36.41,353.15 36.7,353.03 36.98,353.18 37.26,353.19 37.54,352.93 37.83,353.31 38.11,353.27 38.39,353.16 38.68,353.07 38.96,353.52 39.24,353.36 39.53,353.52 39.81,343.35 40.09,338.62 40.38,336.24 40.66,334.39 40.94,333.42 41.22,332.3 41.51,331.76 41.79,331.05 42.07,330.06 42.36,329.57 42.64,329.16 42.92,329.15 43.21,328.54 43.49,328.34 43.77,327.92 44.06,327.79 44.34,327.53 44.62,327.34 44.9,327.31 45.19,327.18 45.47,327.23 45.75,327.01 46.04,327.05 46.32,326.94 46.6,326.94 46.89,326.72 47.17,326.42 47.45,326.72 47.74,326.74 48.02,326.67 48.3,326.47 48.58,326.52 48.87,326.25 49.15,326.54 49.43,326.39 49.72,326.23 50,326.11 50.28,326.49 50.57,326.55 50.85,326.09 51.13,326.44 51.41,326.24 51.7,326.1 51.98,326.17 52.26,326.4 52.55,326.45 52.83,326.03 53.11,326.32 53.4,326.03 53.68,326.36 53.96,326.17 54.25,326.44 54.53,326.49 54.81,326.25 55.09,326.5 55.38,326.15 55.66,326.03 55.94,326.29 56.23,326.01 56.51,326.09 56.79,326.2 57.08,326.3 57.36,326.07 57.64,326.01 57.93,333.22 58.21,336.97 58.49,339.78 58.77,341.4 59.06,342.3 59.34,343.23 59.62,343.99 59.91,344.68 60.19,345.22 60.47,345.73 60.76,346.25 61.04,346.87 61.32,347.09 61.61,347.48 61.89,348.02 62.17,348.16 62.45,348.56 62.74,349.25 63.02,349.36 63.3,349.7 63.59,349.74 63.87,350.24 64.15,350.6 64.44,350.59 64.72,351.15 65,351.41 65.29,351.36 65.57,351.88 65.85,352.01 66.13,352.33 66.42,352.37 66.7,352.74 66.98,352.94 67.27,352.76 67.55,352.95 67.83,353.42 68.12,353.72 68.4,353.51 68.68,353.76 68.97,353.96 69.25,353.96 69.53,354.1 69.81,354.2 70.1,354.34 70.38,354.56 70.66,354.52 70.95,354.66 71.23,354.96 71.51,354.68 71.8,355.04 72.08,355.21 72.36,355.08 72.65,355.11 72.93,355.48 73.21,355.27 73.49,355.31 73.78,355.5 74.06,355.69 74.34,355.46 74.63,355.62 74.91,355.69 75.19,355.99 75.48,355.84 75.76,356.1 76.04,355.8 76.33,355.93 76.61,356.13 76.89,356.29 77.17,350.52 77.46,348.22 77.74,347.22 78.02,346.94 78.31,346.46 78.59,346.52 78.87,346.32 79.16,345.8 79.44,345.66 79.72,345.74 80.01,345.48 80.29,345.39 80.57,345 80.85,344.73 81.14,344.66 81.42,344.76 81.7,344.36 81.99,344.26 82.27,344.16 82.55,344.03 82.84,343.9 83.12,344.03 83.4,343.53 83.68,343.34 83.97,343.7 84.25,343.57 84.53,343.52 84.82,343.14 85.1,343.3 85.38,343.2 85.67,342.75 85.95,342.93 86.23,342.89 86.52,342.72 86.8,342.57 87.08,342.38 87.36,342.33 87.65,342.21 87.93,342.06 88.21,342.25 88.5,342.04 88.78,342.23 89.06,341.79 89.35,342.16 89.63,342 89.91,342.06 90.2,342 90.48,341.95 90.76,341.73 91.04,341.41 91.33,341.73 91.61,341.39 91.89,341.41 92.18,341.55 92.46,341.44 92.74,341.35 93.03,341.58 93.31,341.38 93.59,341.2 93.88,341.13 94.16,341.4 94.44,341.17 94.72,341.29 95.01,341.05 95.29,345.14 95.57,347.75 95.86,349.38 96.14,350.01 96.42,350.98 96.71,351.54 96.99,351.88 97.27,352.22 97.56,352.11 97.84,352.69 98.12,353.07 98.4,352.9 98.69,353.24 98.97,353.45 99.25,353.79 99.54,353.94 99.82,354.15 100.1,354.49 100.39,354.27 100.67,354.47 100.95,354.66 101.24,354.81 101.52,354.93 101.8,355.53 102.08,355.6 102.37,355.34 102.65,355.68 102.93,355.7 103.22,355.81 103.5,355.94 103.78,356.19 104.07,356.26 104.35,356.25 104.63,356.25 104.92,356.41 105.2,356.39 105.48,356.69 105.76,356.84 106.05,356.75 106.33,356.67 106.61,356.79 106.9,356.95 107.18,357.13 107.46,357.28 107.75,357.13 108.03,357.4 108.31,357.36 108.6,357.31 108.88,357.33 109.16,357.44 109.44,357.59 109.73,357.49 110.01,357.67 110.29,357.59 110.58,357.52 110.86,357.7 111.14,357.81 111.43,357.53 111.71,357.74 111.99,357.77 112.28,358.03 112.56,358.08 112.84,357.83 113.12,358.12 113.41,358.09 113.69,357.85 113.97,357.97 114.26,357.82 114.54,358.19 114.82,358.13 115.11,358.26 115.39,355.02 115.67,353.59 115.96,352.93 116.24,352.42 116.52,351.87 116.8,351.85 117.09,351.32 117.37,351.18 117.65,351.3 117.94,350.75 118.22,350.6 118.5,350.45 118.79,350.7 119.07,350.21 119.35,350.01 119.63,350.3 119.92,349.83 120.2,350.09 120.48,349.92 120.77,349.91 121.05,349.89 121.33,349.63 121.62,349.67 121.9,349.23 122.18,349.53 122.47,349.35 122.75,349.4 123.03,349.05 123.31,349.33 123.6,349.38 123.88,348.9 124.16,349 124.45,349.09 124.73,349.19 125.01,348.87 125.3,348.81 125.58,348.82 125.86,348.98 126.15,349.03 126.43,348.83 126.71,348.8 126.99,348.8 127.28,348.76 127.56,348.78 127.84,348.6 128.13,348.8 128.41,349.02 128.69,348.73 128.98,348.89 129.26,348.59 129.54,348.84 129.83,348.87 130.11,348.82 130.39,348.73 130.67,348.71 130.96,348.79 131.24,348.91 131.52,348.53 131.81,348.5 132.09,348.82 132.37,348.9 132.66,348.7 132.94,348.66 133.22,348.79 133.51,350.79 133.79,352.17 134.07,352.97 134.35,353.7 134.64,353.95 134.92,354.2 135.2,354.67 135.49,355 135.77,354.85 136.05,355.22 136.34,355.23 136.62,355.59 136.9,355.59 137.19,355.56 137.47,355.66 137.75,355.67 138.03,356.01 138.32,356.07 138.6,356.06 138.88,356.25 139.17,356.32 139.45,356.63 139.73,356.4 140.02,356.9 140.3,356.72 140.58,356.85 140.87,356.85 141.15,357.09 141.43,357.15 141.71,357.07 142,357.09 142.28,357.26 142.56,357.38 142.85,357.2 143.13,357.41 143.41,357.56 143.7,357.36 143.98,357.28 144.26,357.32 144.55,357.59 144.83,357.6 145.11,357.78" fill="none" stroke="#6a7ac6" stroke-width="0.35" marker-start="url(#m2)" marker-mid="url(#m2)" marker-end="url(#m2)" />
<rect x="31.6" y="306.5" width="113.7" height="61.2" fill="none" stroke="#555" stroke-width="0.75"/>
<text x="27.4" y="309.5" font-size="6.4" fill="#231f20" text-anchor="end" stroke="#231f20" stroke-width="0.27">1.04</text>
<text x="149.4" y="309.5" font-size="6.4" fill="#231f20" stroke="#231f20" stroke-width="0.27">0.04</text>
<line x1="31.6" y1="307.2" x2="33.2" y2="307.2" stroke="#231f20" stroke-width="0.4" />
<line x1="145.3" y1="307.2" x2="143.7" y2="307.2" stroke="#231f20" stroke-width="0.4" />
<text x="27.4" y="320.7" font-size="6.4" fill="#231f20" text-anchor="end" stroke="#231f20" stroke-width="0.27">1.03</text>
<text x="149.4" y="320.7" font-size="6.4" fill="#231f20" stroke="#231f20" stroke-width="0.27">0.03</text>
<line x1="31.6" y1="318.4" x2="33.2" y2="318.4" stroke="#231f20" stroke-width="0.4" />
<line x1="145.3" y1="318.4" x2="143.7" y2="318.4" stroke="#231f20" stroke-width="0.4" />
<text x="27.4" y="331.9" font-size="6.4" fill="#231f20" text-anchor="end" stroke="#231f20" stroke-width="0.27">1.02</text>
<text x="149.4" y="331.9" font-size="6.4" fill="#231f20" stroke="#231f20" stroke-width="0.27">0.02</text>
<line x1="31.6" y1="329.6" x2="33.2" y2="329.6" stroke="#231f20" stroke-width="0.4" />
<line x1="145.3" y1="329.6" x2="143.7" y2="329.6" stroke="#231f20" stroke-width="0.4" />
<text x="27.4" y="343.1" font-size="6.4" fill="#231f20" text-anchor="end" stroke="#231f20" stroke-width="0.27">1.01</text>
<text x="149.4" y="343.1" font-size="6.4" fill="#231f20" stroke="#231f20" stroke-width="0.27">0.01</text>
<line x1="31.6" y1="340.8" x2="33.2" y2="340.8" stroke="#231f20" stroke-width="0.4" />
<line x1="145.3" y1="340.8" x2="143.7" y2="340.8" stroke="#231f20" stroke-width="0.4" />
<text x="27.4" y="354.3" font-size="6.4" fill="#231f20" text-anchor="end" stroke="#231f20" stroke-width="0.27">1.00</text>
<text x="149.4" y="354.3" font-size="6.4" fill="#231f20" stroke="#231f20" stroke-width="0.27">0.00</text>
<line x1="31.6" y1="352" x2="33.2" y2="352" stroke="#231f20" stroke-width="0.4" />
<line x1="145.3" y1="352" x2="143.7" y2="352" stroke="#231f20" stroke-width="0.4" />
<text x="27.4" y="365.5" font-size="6.4" fill="#231f20" text-anchor="end" stroke="#231f20" stroke-width="0.27">0.99</text>
<text x="149.4" y="365.5" font-size="6.4" fill="#231f20" stroke="#231f20" stroke-width="0.27">-0.01</text>
<line x1="31.6" y1="363.2" x2="33.2" y2="363.2" stroke="#231f20" stroke-width="0.4" />
<line x1="145.3" y1="363.2" x2="143.7" y2="363.2" stroke="#231f20" stroke-width="0.4" />
<text x="31.6" y="377.6" font-size="6.4" fill="#231f20" text-anchor="middle" stroke="#231f20" stroke-width="0.27">0</text>
<line x1="31.6" y1="367.7" x2="31.6" y2="366.1" stroke="#231f20" stroke-width="0.4" />
<line x1="31.6" y1="306.5" x2="31.6" y2="308.1" stroke="#231f20" stroke-width="0.4" />
<text x="50.47" y="377.6" font-size="6.4" fill="#231f20" text-anchor="middle" stroke="#231f20" stroke-width="0.27">200</text>
<line x1="50.47" y1="367.7" x2="50.47" y2="366.1" stroke="#231f20" stroke-width="0.4" />
<line x1="50.47" y1="306.5" x2="50.47" y2="308.1" stroke="#231f20" stroke-width="0.4" />
<text x="69.34" y="377.6" font-size="6.4" fill="#231f20" text-anchor="middle" stroke="#231f20" stroke-width="0.27">400</text>
<line x1="69.34" y1="367.7" x2="69.34" y2="366.1" stroke="#231f20" stroke-width="0.4" />
<line x1="69.34" y1="306.5" x2="69.34" y2="308.1" stroke="#231f20" stroke-width="0.4" />
<text x="88.21" y="377.6" font-size="6.4" fill="#231f20" text-anchor="middle" stroke="#231f20" stroke-width="0.27">600</text>
<line x1="88.21" y1="367.7" x2="88.21" y2="366.1" stroke="#231f20" stroke-width="0.4" />
<line x1="88.21" y1="306.5" x2="88.21" y2="308.1" stroke="#231f20" stroke-width="0.4" />
<text x="107.09" y="377.6" font-size="6.4" fill="#231f20" text-anchor="middle" stroke="#231f20" stroke-width="0.27">800</text>
<line x1="107.09" y1="367.7" x2="107.09" y2="366.1" stroke="#231f20" stroke-width="0.4" />
<line x1="107.09" y1="306.5" x2="107.09" y2="308.1" stroke="#231f20" stroke-width="0.4" />
<text x="125.96" y="377.6" font-size="6.4" fill="#231f20" text-anchor="middle" stroke="#231f20" stroke-width="0.27">1000</text>
<line x1="125.96" y1="367.7" x2="125.96" y2="366.1" stroke="#231f20" stroke-width="0.4" />
<line x1="125.96" y1="306.5" x2="125.96" y2="308.1" stroke="#231f20" stroke-width="0.4" />
<text x="144.83" y="377.6" font-size="6.4" fill="#231f20" text-anchor="middle" stroke="#231f20" stroke-width="0.27">1200</text>
<line x1="144.83" y1="367.7" x2="144.83" y2="366.1" stroke="#231f20" stroke-width="0.4" />
<line x1="144.83" y1="306.5" x2="144.83" y2="308.1" stroke="#231f20" stroke-width="0.4" />
<text x="86.3" y="386.4" font-size="6.4" fill="#231f20" text-anchor="middle" stroke="#231f20" stroke-width="0.27">Time (s)</text>
<text x="40.3" y="304.6" font-size="6.1" fill="#231f20" textLength="18.7" lengthAdjust="spacingAndGlyphs" stroke="#231f20" stroke-width="0.27">25 ppb</text>
<text x="76.2" y="304.6" font-size="6.1" fill="#231f20" textLength="18.8" lengthAdjust="spacingAndGlyphs" stroke="#231f20" stroke-width="0.27">10 ppb</text>
<text x="115" y="304.6" font-size="6.1" fill="#231f20" textLength="16" lengthAdjust="spacingAndGlyphs" stroke="#231f20" stroke-width="0.27">5 ppb</text>
<text transform="translate(8.03,337) rotate(-90)" font-size="6.2" fill="#231f20" text-anchor="middle" stroke="#231f20" stroke-width="0.27">R<tspan dy="1.55" font-size="4.03">gas</tspan><tspan dy="-1.55">/R</tspan><tspan dy="1.55" font-size="4.03">air</tspan></text>
<text transform="translate(168.73,337) rotate(-90)" font-size="6.2" fill="#231f20" text-anchor="middle" stroke="#231f20" stroke-width="0.27">(R<tspan dy="1.55" font-size="4.03">gas</tspan><tspan dy="-1.55">-R</tspan><tspan dy="1.55" font-size="4.03">air</tspan><tspan dy="-1.55">)/R</tspan><tspan dy="1.55" font-size="4.03">air</tspan></text>
<text x="4.07" y="306" font-size="14" fill="#231815" font-weight="bold">e</text>
<rect x="221.07" y="139.4" width="20.13" height="151.8" fill="#eaf0f1" />
<rect x="221.07" y="291.2" width="20.13" height="76.6" fill="#f5f1f4" />
<rect x="262.53" y="139.4" width="20.13" height="151.8" fill="#eaf0f1" />
<rect x="262.53" y="291.2" width="20.13" height="76.6" fill="#f5f1f4" />
<rect x="304" y="139.4" width="20.13" height="151.8" fill="#eaf0f1" />
<rect x="304" y="291.2" width="20.13" height="76.6" fill="#f5f1f4" />
<defs><marker id="m3" markerUnits="userSpaceOnUse" markerWidth="1.64" markerHeight="1.64" refX="0.82" refY="0.82" overflow="visible"><circle cx="0.82" cy="0.82" r="0.72" fill="#27a2dc"/></marker></defs>
<polyline points="210.1,191.28 210.41,191.3 210.72,191.32 211.03,191.35 211.34,191.37 211.66,191.39 211.97,191.41 212.28,191.43 212.59,191.45 212.9,191.47 213.21,191.49 213.52,191.51 213.83,191.53 214.14,191.54 214.45,191.56 214.76,191.57 215.08,191.58 215.39,191.59 215.7,191.6 216.01,191.62 216.32,191.63 216.63,191.64 216.94,191.65 217.25,191.66 217.56,191.67 217.88,191.68 218.19,191.69 218.5,191.69 218.81,191.7 219.12,191.71 219.43,191.71 219.74,191.71 220.05,191.72 220.36,191.72 220.67,169.71 220.98,155.97 221.3,151.42 221.61,149.37 221.92,148.13 222.23,147.25 222.54,146.42 222.85,146.49 223.16,145.97 223.47,147.66 223.78,146.68 224.09,145.62 224.41,146.12 224.72,145.52 225.03,147.03 225.34,146.24 225.65,146.62 225.96,145.95 226.27,145.83 226.58,146.91 226.89,146.45 227.2,146.28 227.52,144.95 227.83,145.22 228.14,146.41 228.45,145.1 228.76,146.4 229.07,145.41 229.38,146.39 229.69,146.62 230,144.86 230.31,146.19 230.63,146.17 230.94,144.63 231.25,144.85 231.56,146.03 231.87,144.67 232.18,145.53 232.49,145.25 232.8,146.21 233.11,144.73 233.42,145.25 233.74,144.7 234.05,144.86 234.36,146.08 234.67,145.97 234.98,146.38 235.29,146.44 235.6,146.63 235.91,146.18 236.22,145.61 236.53,146.85 236.85,145.53 237.16,146.26 237.47,146.37 237.78,145.39 238.09,146.13 238.4,146.52 238.71,146.25 239.02,145.87 239.33,147.26 239.64,145.49 239.96,147.49 240.27,146.12 240.58,146.02 240.89,147.8 241.2,148.27 241.51,152.17 241.82,156.94 242.13,160.77 242.44,164.22 242.75,167.02 243.07,169.27 243.38,171.28 243.69,173.04 244,174.56 244.31,175.84 244.62,176.96 244.93,178.01 245.24,178.98 245.55,179.88 245.87,180.71 246.18,181.48 246.49,182.19 246.8,182.85 247.11,183.46 247.42,184.03 247.73,184.57 248.04,185.08 248.35,185.56 248.66,186.03 248.97,186.47 249.29,186.89 249.6,187.29 249.91,187.67 250.22,188.03 250.53,188.37 250.84,188.69 251.15,189 251.46,189.29 251.77,189.57 252.08,189.84 252.4,190.1 252.71,190.35 253.02,190.59 253.33,190.83 253.64,191.06 253.95,191.28 254.26,191.49 254.57,191.69 254.88,191.89 255.19,192.07 255.51,192.25 255.82,192.41 256.13,192.57 256.44,192.71 256.75,192.85 257.06,192.98 257.37,193.12 257.68,193.25 257.99,193.39 258.31,193.52 258.62,193.65 258.93,193.77 259.24,193.89 259.55,194 259.86,194.1 260.17,194.19 260.48,194.26 260.79,194.33 261.1,194.38 261.41,194.41 261.73,194.42 262.04,189.7 262.35,183.5 262.66,180.29 262.97,178.13 263.28,176.59 263.59,175.52 263.9,174.63 264.21,173.86 264.52,173.18 264.84,172.59 265.15,172.07 265.46,171.61 265.77,171.19 266.08,170.8 266.39,170.43 266.7,170.08 267.01,169.75 267.32,169.43 267.63,169.13 267.95,168.84 268.26,168.56 268.57,168.3 268.88,168.05 269.19,167.81 269.5,167.57 269.81,167.35 270.12,167.13 270.43,166.93 270.75,166.72 271.06,166.52 271.37,166.33 271.68,166.14 271.99,165.95 272.3,165.76 272.61,165.58 272.92,165.4 273.23,165.22 273.54,165.06 273.86,164.9 274.17,164.74 274.48,164.58 274.79,164.43 275.1,164.29 275.41,164.14 275.72,164 276.03,163.87 276.34,163.73 276.65,163.6 276.96,163.46 277.28,163.33 277.59,163.2 277.9,163.05 278.21,162.91 278.52,162.75 278.83,162.59 279.14,162.44 279.45,162.28 279.76,162.13 280.07,161.98 280.39,161.85 280.7,161.72 281.01,161.61 281.32,161.52 281.63,161.44 281.94,161.39 282.25,161.36 282.56,161.93 282.87,165.61 283.19,169.18 283.5,172.06 283.81,174.05 284.12,175.79 284.43,177.3 284.74,178.58 285.05,179.65 285.36,180.52 285.67,181.3 285.98,182.02 286.29,182.68 286.61,183.3 286.92,183.86 287.23,184.38 287.54,184.86 287.85,185.3 288.16,185.71 288.47,186.09 288.78,186.44 289.09,186.77 289.4,187.07 289.72,187.36 290.03,187.64 290.34,187.89 290.65,188.14 290.96,188.37 291.27,188.59 291.58,188.8 291.89,189 292.2,189.2 292.51,189.39 292.83,189.58 293.14,189.76 293.45,189.94 293.76,190.12 294.07,190.3 294.38,190.47 294.69,190.63 295,190.79 295.31,190.95 295.62,191.1 295.94,191.25 296.25,191.4 296.56,191.54 296.87,191.67 297.18,191.81 297.49,191.93 297.8,192.06 298.11,192.18 298.42,192.3 298.74,192.42 299.05,192.55 299.36,192.68 299.67,192.81 299.98,192.94 300.29,193.07 300.6,193.19 300.91,193.3 301.22,193.41 301.53,193.51 301.85,193.59 302.16,193.67 302.47,193.73 302.78,193.77 303.09,193.79 303.4,192.61 303.71,189.29 304.02,187.81 304.33,187.23 304.64,186.77 304.95,186.4 305.27,186.11 305.58,185.87 305.89,185.66 306.2,185.48 306.51,185.29 306.82,185.1 307.13,184.92 307.44,184.75 307.75,184.58 308.06,184.43 308.38,184.28 308.69,184.14 309,184.01 309.31,183.89 309.62,183.77 309.93,183.65 310.24,183.54 310.55,183.44 310.86,183.34 311.18,183.24 311.49,183.15 311.8,183.05 312.11,182.97 312.42,182.88 312.73,182.8 313.04,182.73 313.35,182.66 313.66,182.59 313.97,182.52 314.28,182.45 314.6,182.39 314.91,182.33 315.22,182.27 315.53,182.21 315.84,182.15 316.15,182.09 316.46,182.03 316.77,181.97 317.08,181.91 317.39,181.84 317.71,181.78 318.02,181.72 318.33,181.65 318.64,181.58 318.95,181.51 319.26,181.43 319.57,181.34 319.88,181.25 320.19,181.15 320.5,181.05 320.82,180.94 321.13,180.84 321.44,180.73 321.75,180.64 322.06,180.55 322.37,180.46 322.68,180.39 322.99,180.33 323.3,180.29 323.62,180.26 323.93,180.25 324.24,182.14 324.55,183.69 324.86,185.04 325.17,185.92 325.48,186.45 325.79,186.92 326.1,187.33 326.41,187.69 326.73,188.01 327.04,188.28 327.35,188.52 327.66,188.73 327.97,188.91 328.28,189.07 328.59,189.22 328.9,189.37 329.21,189.52 329.52,189.66 329.83,189.8 330.15,189.93 330.46,190.06 330.77,190.18 331.08,190.29 331.39,190.4 331.7,190.5 332.01,190.59 332.32,190.67 332.63,190.75 332.94,190.81 333.26,190.86 333.57,190.9 333.88,190.93 334.19,190.95 334.5,190.96" fill="none" stroke="#27a2dc" stroke-width="0.35" marker-start="url(#m3)" marker-mid="url(#m3)" marker-end="url(#m3)" />
<defs><marker id="m4" markerUnits="userSpaceOnUse" markerWidth="1.56" markerHeight="1.56" refX="0.78" refY="0.78" overflow="visible"><circle cx="0.78" cy="0.78" r="0.68" fill="#1b365e"/></marker></defs>
<polyline points="210.1,208.6 210.41,208.6 210.72,208.6 211.03,208.6 211.34,208.6 211.66,208.6 211.97,208.6 212.28,208.6 212.59,208.6 212.9,208.6 213.21,208.6 213.52,208.6 213.83,208.6 214.14,208.6 214.45,208.6 214.76,208.6 215.08,208.6 215.39,208.6 215.7,208.6 216.01,208.6 216.32,208.6 216.63,208.6 216.94,208.6 217.25,208.6 217.56,208.6 217.88,208.6 218.19,208.6 218.5,208.6 218.81,208.6 219.12,208.6 219.43,208.6 219.74,208.6 220.05,208.6 220.36,208.6 220.67,201.92 220.98,199.36 221.3,198.41 221.61,197.61 221.92,197.18 222.23,197.04 222.54,196.86 222.85,196.73 223.16,196.05 223.47,195.94 223.78,195.54 224.09,195.59 224.41,195.16 224.72,195.31 225.03,194.83 225.34,194.73 225.65,194.79 225.96,194.58 226.27,194.36 226.58,194.55 226.89,194.2 227.2,193.93 227.52,194.16 227.83,193.71 228.14,193.69 228.45,193.49 228.76,193.72 229.07,193.79 229.38,193.26 229.69,193.19 230,193.35 230.31,193.51 230.63,193.39 230.94,193.06 231.25,193.23 231.56,192.77 231.87,192.96 232.18,193.15 232.49,192.82 232.8,192.97 233.11,192.56 233.42,192.54 233.74,192.74 234.05,192.62 234.36,192.55 234.67,192.45 234.98,192.3 235.29,192.86 235.6,192.62 235.91,192.44 236.22,192.59 236.53,192.38 236.85,192.67 237.16,192.15 237.47,192.35 237.78,192.58 238.09,192.22 238.4,192.42 238.71,192.47 239.02,192.28 239.33,192.48 239.64,192.42 239.96,192 240.27,192.1 240.58,192.53 240.89,192.04 241.2,196 241.51,205.45 241.82,206.91 242.13,207.57 242.44,207.76 242.75,207.91 243.07,208.03 243.38,208.13 243.69,208.21 244,208.28 244.31,208.33 244.62,208.37 244.93,208.39 245.24,208.41 245.55,208.42 245.87,208.42 246.18,208.43 246.49,208.44 246.8,208.45 247.11,208.46 247.42,208.46 247.73,208.47 248.04,208.48 248.35,208.48 248.66,208.49 248.97,208.5 249.29,208.5 249.6,208.51 249.91,208.51 250.22,208.52 250.53,208.52 250.84,208.53 251.15,208.53 251.46,208.54 251.77,208.54 252.08,208.54 252.4,208.55 252.71,208.55 253.02,208.56 253.33,208.56 253.64,208.56 253.95,208.57 254.26,208.57 254.57,208.57 254.88,208.57 255.19,208.58 255.51,208.58 255.82,208.58 256.13,208.58 256.44,208.59 256.75,208.59 257.06,208.59 257.37,208.59 257.68,208.59 257.99,208.59 258.31,208.59 258.62,208.6 258.93,208.6 259.24,208.6 259.55,208.6 259.86,208.6 260.17,208.6 260.48,208.6 260.79,208.6 261.1,208.6 261.41,208.6 261.73,208.6 262.04,206.71 262.35,204.82 262.66,204.59 262.97,204.42 263.28,204.29 263.59,204.19 263.9,204.12 264.21,204.06 264.52,204.02 264.84,203.97 265.15,203.92 265.46,203.87 265.77,203.82 266.08,203.78 266.39,203.73 266.7,203.69 267.01,203.65 267.32,203.62 267.63,203.58 267.95,203.55 268.26,203.52 268.57,203.49 268.88,203.46 269.19,203.43 269.5,203.4 269.81,203.38 270.12,203.35 270.43,203.33 270.75,203.3 271.06,203.28 271.37,203.25 271.68,203.23 271.99,203.21 272.3,203.18 272.61,203.16 272.92,203.13 273.23,203.11 273.54,203.08 273.86,203.05 274.17,203.03 274.48,203 274.79,202.98 275.1,202.95 275.41,202.92 275.72,202.9 276.03,202.87 276.34,202.85 276.65,202.82 276.96,202.8 277.28,202.77 277.59,202.75 277.9,202.73 278.21,202.71 278.52,202.69 278.83,202.67 279.14,202.65 279.45,202.64 279.76,202.62 280.07,202.61 280.39,202.59 280.7,202.58 281.01,202.57 281.32,202.57 281.63,202.56 281.94,202.55 282.25,202.55 282.56,203.43 282.87,207.1 283.19,207.85 283.5,208.08 283.81,208.24 284.12,208.34 284.43,208.39 284.74,208.41 285.05,208.42 285.36,208.43 285.67,208.44 285.98,208.44 286.29,208.45 286.61,208.46 286.92,208.46 287.23,208.47 287.54,208.48 287.85,208.48 288.16,208.49 288.47,208.5 288.78,208.5 289.09,208.51 289.4,208.51 289.72,208.52 290.03,208.52 290.34,208.53 290.65,208.53 290.96,208.53 291.27,208.54 291.58,208.54 291.89,208.55 292.2,208.55 292.51,208.55 292.83,208.56 293.14,208.56 293.45,208.56 293.76,208.57 294.07,208.57 294.38,208.57 294.69,208.57 295,208.58 295.31,208.58 295.62,208.58 295.94,208.58 296.25,208.58 296.56,208.59 296.87,208.59 297.18,208.59 297.49,208.59 297.8,208.59 298.11,208.59 298.42,208.59 298.74,208.59 299.05,208.6 299.36,208.6 299.67,208.6 299.98,208.6 300.29,208.6 300.6,208.6 300.91,208.6 301.22,208.6 301.53,208.6 301.85,208.6 302.16,208.6 302.47,208.6 302.78,208.6 303.09,208.6 303.4,208.18 303.71,207.3 304.02,207.14 304.33,207.09 304.64,207.05 304.95,207.01 305.27,206.98 305.58,206.94 305.89,206.91 306.2,206.89 306.51,206.86 306.82,206.84 307.13,206.82 307.44,206.8 307.75,206.78 308.06,206.77 308.38,206.75 308.69,206.74 309,206.73 309.31,206.72 309.62,206.71 309.93,206.7 310.24,206.69 310.55,206.68 310.86,206.68 311.18,206.67 311.49,206.66 311.8,206.65 312.11,206.64 312.42,206.63 312.73,206.62 313.04,206.61 313.35,206.6 313.66,206.59 313.97,206.57 314.28,206.56 314.6,206.55 314.91,206.53 315.22,206.51 315.53,206.5 315.84,206.48 316.15,206.47 316.46,206.45 316.77,206.44 317.08,206.42 317.39,206.41 317.71,206.39 318.02,206.38 318.33,206.36 318.64,206.35 318.95,206.33 319.26,206.32 319.57,206.31 319.88,206.29 320.19,206.28 320.5,206.27 320.82,206.26 321.13,206.25 321.44,206.24 321.75,206.23 322.06,206.23 322.37,206.22 322.68,206.22 322.99,206.21 323.3,206.21 323.62,206.21 323.93,206.21 324.24,207.68 324.55,208.28 324.86,208.31 325.17,208.34 325.48,208.36 325.79,208.38 326.1,208.4 326.41,208.42 326.73,208.44 327.04,208.46 327.35,208.47 327.66,208.49 327.97,208.5 328.28,208.51 328.59,208.53 328.9,208.54 329.21,208.54 329.52,208.55 329.83,208.56 330.15,208.57 330.46,208.57 330.77,208.58 331.08,208.58 331.39,208.59 331.7,208.59 332.01,208.59 332.32,208.59 332.63,208.6 332.94,208.6 333.26,208.6 333.57,208.6 333.88,208.6 334.19,208.6 334.5,208.6" fill="none" stroke="#1b365e" stroke-width="0.35" marker-start="url(#m4)" marker-mid="url(#m4)" marker-end="url(#m4)" />
<defs><marker id="m5" markerUnits="userSpaceOnUse" markerWidth="1.56" markerHeight="1.56" refX="0.78" refY="0.78" overflow="visible"><circle cx="0.78" cy="0.78" r="0.68" fill="#27a2dc"/></marker></defs>
<polyline points="210.1,278 210.41,278 210.72,278 211.03,278 211.34,278 211.66,278 211.97,278 212.28,278 212.59,278 212.9,278 213.21,278 213.52,278 213.83,278 214.14,278 214.45,278 214.76,278 215.08,278 215.39,278 215.7,278 216.01,278 216.32,278 216.63,278 216.94,278 217.25,278 217.56,278 217.88,278 218.19,278 218.5,278 218.81,278 219.12,278 219.43,278 219.74,278 220.05,278 220.36,278 220.67,259.38 220.98,251.1 221.3,248.21 221.61,247.22 221.92,246.76 222.23,246.8 222.54,246.93 222.85,245.53 223.16,246.78 223.47,245.62 223.78,246.02 224.09,246.75 224.41,245.68 224.72,246.8 225.03,245.86 225.34,246.72 225.65,246.67 225.96,245.88 226.27,244.92 226.58,246.6 226.89,246.36 227.2,245.4 227.52,244.63 227.83,245.52 228.14,245.95 228.45,244.57 228.76,246.78 229.07,244.85 229.38,246.2 229.69,246.55 230,246.61 230.31,246.16 230.63,244.95 230.94,246.46 231.25,245.51 231.56,245.37 231.87,246 232.18,245.59 232.49,246.74 232.8,246.75 233.11,246.4 233.42,245.27 233.74,245.87 234.05,246.14 234.36,245.5 234.67,245.81 234.98,246.18 235.29,245 235.6,245.23 235.91,246.31 236.22,245.52 236.53,245.64 236.85,244.81 237.16,245.15 237.47,246.2 237.78,244.56 238.09,246.61 238.4,245.89 238.71,245.09 239.02,246.53 239.33,245.73 239.64,246.8 239.96,245.3 240.27,245.07 240.58,245.53 240.89,244.81 241.2,250.8 241.51,260.54 241.82,265.35 242.13,268.48 242.44,270.68 242.75,272.05 243.07,272.98 243.38,273.81 243.69,274.53 244,275.14 244.31,275.65 244.62,276.06 244.93,276.37 245.24,276.59 245.55,276.73 245.87,276.85 246.18,276.96 246.49,277.07 246.8,277.16 247.11,277.24 247.42,277.32 247.73,277.39 248.04,277.46 248.35,277.52 248.66,277.57 248.97,277.63 249.29,277.67 249.6,277.72 249.91,277.76 250.22,277.81 250.53,277.85 250.84,277.89 251.15,277.94 251.46,277.98 251.77,278.03 252.08,278.08 252.4,278.13 252.71,278.18 253.02,278.23 253.33,278.28 253.64,278.33 253.95,278.38 254.26,278.43 254.57,278.48 254.88,278.53 255.19,278.58 255.51,278.62 255.82,278.67 256.13,278.72 256.44,278.76 256.75,278.8 257.06,278.84 257.37,278.88 257.68,278.92 257.99,278.96 258.31,278.99 258.62,279.02 258.93,279.05 259.24,279.08 259.55,279.1 259.86,279.12 260.17,279.14 260.48,279.16 260.79,279.17 261.1,279.18 261.41,279.19 261.73,279.19 262.04,272.9 262.35,266.94 262.66,265.45 262.97,264.73 263.28,264.24 263.59,263.91 263.9,263.64 264.21,263.37 264.52,263.11 264.84,262.86 265.15,262.63 265.46,262.41 265.77,262.2 266.08,262 266.39,261.81 266.7,261.63 267.01,261.46 267.32,261.3 267.63,261.15 267.95,261 268.26,260.86 268.57,260.72 268.88,260.59 269.19,260.46 269.5,260.34 269.81,260.22 270.12,260.1 270.43,259.99 270.75,259.88 271.06,259.76 271.37,259.65 271.68,259.53 271.99,259.42 272.3,259.3 272.61,259.18 272.92,259.06 273.23,258.93 273.54,258.81 273.86,258.68 274.17,258.55 274.48,258.42 274.79,258.3 275.1,258.17 275.41,258.04 275.72,257.92 276.03,257.79 276.34,257.67 276.65,257.55 276.96,257.43 277.28,257.32 277.59,257.21 277.9,257.1 278.21,257 278.52,256.91 278.83,256.81 279.14,256.73 279.45,256.65 279.76,256.57 280.07,256.5 280.39,256.44 280.7,256.39 281.01,256.34 281.32,256.3 281.63,256.27 281.94,256.25 282.25,256.24 282.56,257.4 282.87,262.51 283.19,266.89 283.5,269.12 283.81,270.77 284.12,272.07 284.43,273.05 284.74,273.75 285.05,274.29 285.36,274.8 285.67,275.27 285.98,275.7 286.29,276.09 286.61,276.44 286.92,276.76 287.23,277.05 287.54,277.3 287.85,277.52 288.16,277.7 288.47,277.85 288.78,277.97 289.09,278.06 289.4,278.15 289.72,278.23 290.03,278.31 290.34,278.38 290.65,278.45 290.96,278.52 291.27,278.58 291.58,278.64 291.89,278.69 292.2,278.74 292.51,278.79 292.83,278.83 293.14,278.87 293.45,278.9 293.76,278.93 294.07,278.96 294.38,278.98 294.69,279 295,279.02 295.31,279.03 295.62,279.04 295.94,279.05 296.25,279.06 296.56,279.07 296.87,279.08 297.18,279.09 297.49,279.1 297.8,279.11 298.11,279.12 298.42,279.13 298.74,279.13 299.05,279.14 299.36,279.15 299.67,279.15 299.98,279.16 300.29,279.16 300.6,279.17 300.91,279.17 301.22,279.18 301.53,279.18 301.85,279.18 302.16,279.19 302.47,279.19 302.78,279.19 303.09,279.19 303.4,277.96 303.71,274.69 304.02,273.41 304.33,273.17 304.64,272.96 304.95,272.79 305.27,272.64 305.58,272.51 305.89,272.4 306.2,272.31 306.51,272.24 306.82,272.18 307.13,272.12 307.44,272.07 307.75,272.02 308.06,271.97 308.38,271.92 308.69,271.86 309,271.8 309.31,271.74 309.62,271.69 309.93,271.64 310.24,271.59 310.55,271.54 310.86,271.49 311.18,271.45 311.49,271.41 311.8,271.37 312.11,271.33 312.42,271.29 312.73,271.25 313.04,271.22 313.35,271.18 313.66,271.15 313.97,271.11 314.28,271.08 314.6,271.05 314.91,271.01 315.22,270.98 315.53,270.95 315.84,270.91 316.15,270.88 316.46,270.84 316.77,270.81 317.08,270.77 317.39,270.73 317.71,270.69 318.02,270.65 318.33,270.61 318.64,270.57 318.95,270.52 319.26,270.47 319.57,270.41 319.88,270.35 320.19,270.28 320.5,270.21 320.82,270.14 321.13,270.07 321.44,270 321.75,269.93 322.06,269.87 322.37,269.82 322.68,269.77 322.99,269.73 323.3,269.7 323.62,269.68 323.93,269.67 324.24,271.86 324.55,273.81 324.86,275.21 325.17,275.76 325.48,276.18 325.79,276.55 326.1,276.86 326.41,277.13 326.73,277.36 327.04,277.55 327.35,277.7 327.66,277.83 327.97,277.93 328.28,278 328.59,278.06 328.9,278.12 329.21,278.18 329.52,278.24 329.83,278.29 330.15,278.34 330.46,278.38 330.77,278.42 331.08,278.46 331.39,278.5 331.7,278.53 332.01,278.56 332.32,278.59 332.63,278.61 332.94,278.63 333.26,278.65 333.57,278.66 333.88,278.67 334.19,278.68 334.5,278.68" fill="none" stroke="#27a2dc" stroke-width="0.35" marker-start="url(#m5)" marker-mid="url(#m5)" marker-end="url(#m5)" />
<polyline points="210.1,278 210.41,278 210.72,278 211.03,278 211.34,278 211.66,278 211.97,278 212.28,278 212.59,278 212.9,278 213.21,278 213.52,278 213.83,278 214.14,278 214.45,278 214.76,278 215.08,278 215.39,278 215.7,278 216.01,278 216.32,278 216.63,278 216.94,278 217.25,278 217.56,278 217.88,278 218.19,278 218.5,278 218.81,278 219.12,278 219.43,278 219.74,278 220.05,278 220.36,278 220.67,257.53 220.98,249.63 221.3,247.39 221.61,246.76 221.92,244.31 222.23,245.18 222.54,243.28 222.85,243.91 223.16,243.03 223.47,241.02 223.78,242.19 224.09,240.92 224.41,240.92 224.72,240.58 225.03,240.15 225.34,240.43 225.65,238.81 225.96,240.01 226.27,239.42 226.58,239.58 226.89,238.8 227.2,238.26 227.52,237 227.83,237.83 228.14,238.15 228.45,237.64 228.76,235.94 229.07,237.64 229.38,236.32 229.69,236.64 230,235.9 230.31,236.41 230.63,235.54 230.94,235.8 231.25,235.36 231.56,234.71 231.87,235.23 232.18,235.99 232.49,236.02 232.8,234.1 233.11,234.9 233.42,235.38 233.74,233.72 234.05,234.35 234.36,233.92 234.67,233.5 234.98,234.6 235.29,234.35 235.6,233.18 235.91,234.59 236.22,233.21 236.53,234.48 236.85,233.18 237.16,233.07 237.47,232.49 237.78,232.63 238.09,233.26 238.4,233.82 238.71,233.86 239.02,233.04 239.33,233.04 239.64,233.9 239.96,232.17 240.27,232.96 240.58,232.55 240.89,233.52 241.2,244 241.51,264.4 241.82,269.72 242.13,272.46 242.44,273.54 242.75,274.34 243.07,274.98 243.38,275.48 243.69,275.86 244,276.12 244.31,276.3 244.62,276.43 244.93,276.56 245.24,276.67 245.55,276.77 245.87,276.86 246.18,276.95 246.49,277.02 246.8,277.09 247.11,277.15 247.42,277.21 247.73,277.26 248.04,277.31 248.35,277.35 248.66,277.39 248.97,277.43 249.29,277.47 249.6,277.5 249.91,277.54 250.22,277.57 250.53,277.61 250.84,277.64 251.15,277.67 251.46,277.71 251.77,277.74 252.08,277.77 252.4,277.8 252.71,277.83 253.02,277.86 253.33,277.89 253.64,277.92 253.95,277.95 254.26,277.98 254.57,278 254.88,278.03 255.19,278.06 255.51,278.08 255.82,278.1 256.13,278.13 256.44,278.15 256.75,278.17 257.06,278.19 257.37,278.2 257.68,278.22 257.99,278.24 258.31,278.25 258.62,278.27 258.93,278.28 259.24,278.29 259.55,278.3 259.86,278.31 260.17,278.32 260.48,278.33 260.79,278.33 261.1,278.34 261.41,278.34 261.73,278.34 262.04,271.2 262.35,266.99 262.66,265.92 262.97,265.35 263.28,264.95 263.59,264.68 263.9,264.47 264.21,264.27 264.52,264.07 264.84,263.89 265.15,263.71 265.46,263.55 265.77,263.39 266.08,263.24 266.39,263.1 266.7,262.97 267.01,262.84 267.32,262.72 267.63,262.61 267.95,262.5 268.26,262.39 268.57,262.29 268.88,262.2 269.19,262.11 269.5,262.02 269.81,261.94 270.12,261.86 270.43,261.78 270.75,261.71 271.06,261.63 271.37,261.56 271.68,261.48 271.99,261.41 272.3,261.34 272.61,261.27 272.92,261.19 273.23,261.12 273.54,261.05 273.86,260.97 274.17,260.9 274.48,260.83 274.79,260.75 275.1,260.68 275.41,260.61 275.72,260.54 276.03,260.47 276.34,260.4 276.65,260.34 276.96,260.28 277.28,260.21 277.59,260.15 277.9,260.1 278.21,260.04 278.52,259.99 278.83,259.94 279.14,259.9 279.45,259.85 279.76,259.81 280.07,259.78 280.39,259.74 280.7,259.72 281.01,259.69 281.32,259.67 281.63,259.66 281.94,259.65 282.25,259.64 282.56,262.21 282.87,271.42 283.19,275.05 283.5,276.08 283.81,276.72 284.12,277.08 284.43,277.27 284.74,277.44 285.05,277.59 285.36,277.73 285.67,277.85 285.98,277.96 286.29,278.06 286.61,278.15 286.92,278.22 287.23,278.28 287.54,278.34 287.85,278.39 288.16,278.43 288.47,278.47 288.78,278.5 289.09,278.53 289.4,278.56 289.72,278.58 290.03,278.61 290.34,278.64 290.65,278.66 290.96,278.69 291.27,278.71 291.58,278.74 291.89,278.76 292.2,278.78 292.51,278.81 292.83,278.83 293.14,278.85 293.45,278.87 293.76,278.89 294.07,278.91 294.38,278.93 294.69,278.94 295,278.96 295.31,278.98 295.62,278.99 295.94,279.01 296.25,279.02 296.56,279.04 296.87,279.05 297.18,279.06 297.49,279.08 297.8,279.09 298.11,279.1 298.42,279.11 298.74,279.12 299.05,279.13 299.36,279.14 299.67,279.15 299.98,279.15 300.29,279.16 300.6,279.17 300.91,279.17 301.22,279.18 301.53,279.18 301.85,279.18 302.16,279.19 302.47,279.19 302.78,279.19 303.09,279.19 303.4,277.76 303.71,274.67 304.02,273.75 304.33,273.54 304.64,273.36 304.95,273.2 305.27,273.07 305.58,272.96 305.89,272.86 306.2,272.78 306.51,272.71 306.82,272.66 307.13,272.61 307.44,272.56 307.75,272.52 308.06,272.47 308.38,272.42 308.69,272.37 309,272.32 309.31,272.27 309.62,272.22 309.93,272.18 310.24,272.13 310.55,272.09 310.86,272.05 311.18,272.02 311.49,271.98 311.8,271.95 312.11,271.91 312.42,271.88 312.73,271.85 313.04,271.82 313.35,271.79 313.66,271.76 313.97,271.73 314.28,271.7 314.6,271.67 314.91,271.64 315.22,271.62 315.53,271.59 315.84,271.56 316.15,271.53 316.46,271.49 316.77,271.46 317.08,271.43 317.39,271.4 317.71,271.36 318.02,271.32 318.33,271.28 318.64,271.24 318.95,271.2 319.26,271.15 319.57,271.1 319.88,271.03 320.19,270.97 320.5,270.9 320.82,270.83 321.13,270.76 321.44,270.69 321.75,270.62 322.06,270.56 322.37,270.5 322.68,270.45 322.99,270.41 323.3,270.38 323.62,270.36 323.93,270.35 324.24,273.87 324.55,276.4 324.86,277.23 325.17,277.46 325.48,277.65 325.79,277.81 326.1,277.94 326.41,278.05 326.73,278.14 327.04,278.2 327.35,278.25 327.66,278.29 327.97,278.32 328.28,278.34 328.59,278.36 328.9,278.37 329.21,278.39 329.52,278.4 329.83,278.41 330.15,278.43 330.46,278.44 330.77,278.45 331.08,278.46 331.39,278.47 331.7,278.48 332.01,278.48 332.32,278.49 332.63,278.49 332.94,278.5 333.26,278.5 333.57,278.51 333.88,278.51 334.19,278.51 334.5,278.51" fill="none" stroke="#1b365e" stroke-width="0.35" marker-start="url(#m4)" marker-mid="url(#m4)" marker-end="url(#m4)" />
<defs><marker id="m6" markerUnits="userSpaceOnUse" markerWidth="1.76" markerHeight="1.76" refX="0.88" refY="0.88" overflow="visible"><circle cx="0.88" cy="0.88" r="0.78" fill="#1b365e"/></marker></defs>
<polyline points="210.1,353.8 210.41,353.8 210.72,353.8 211.03,353.8 211.34,353.8 211.66,353.8 211.97,353.8 212.28,353.8 212.59,353.8 212.9,353.8 213.21,353.8 213.52,353.8 213.83,353.8 214.14,353.8 214.45,353.8 214.76,353.8 215.08,353.8 215.39,353.8 215.7,353.8 216.01,353.8 216.32,353.8 216.63,353.8 216.94,353.8 217.25,353.8 217.56,353.8 217.88,353.8 218.19,353.8 218.5,353.8 218.81,353.8 219.12,353.8 219.43,353.8 219.74,353.8 220.05,353.8 220.36,353.8 220.67,336.29 220.98,329.61 221.3,327.11 221.61,325.59 221.92,324.67 222.23,324.21 222.54,321.92 222.85,322.86 223.16,321.19 223.47,319.79 223.78,320.85 224.09,319.41 224.41,318.82 224.72,319.53 225.03,318.47 225.34,317.45 225.65,317.59 225.96,316.71 226.27,317.49 226.58,317.01 226.89,316.95 227.2,315.86 227.52,314.75 227.83,315.13 228.14,314.5 228.45,315.02 228.76,314.07 229.07,315.13 229.38,314.54 229.69,313.59 230,313.32 230.31,313.76 230.63,314.28 230.94,313.8 231.25,313.79 231.56,313.52 231.87,312.36 232.18,313.45 232.49,311.97 232.8,311.87 233.11,313.4 233.42,312.64 233.74,312.31 234.05,313.14 234.36,312.24 234.67,311.19 234.98,312.67 235.29,311.62 235.6,312.47 235.91,311.48 236.22,310.77 236.53,312.06 236.85,312.38 237.16,312.16 237.47,311.19 237.78,312.17 238.09,311.98 238.4,311.11 238.71,310.23 239.02,311.18 239.33,311.19 239.64,310.68 239.96,311.74 240.27,310.76 240.58,311.55 240.89,310.68 241.2,320.8 241.51,345.55 241.82,349.38 242.13,351.12 242.44,351.56 242.75,351.88 243.07,352.14 243.38,352.35 243.69,352.53 244,352.67 244.31,352.78 244.62,352.86 244.93,352.92 245.24,352.96 245.55,353 245.87,353.03 246.18,353.07 246.49,353.1 246.8,353.13 247.11,353.16 247.42,353.19 247.73,353.22 248.04,353.25 248.35,353.27 248.66,353.3 248.97,353.33 249.29,353.35 249.6,353.38 249.91,353.4 250.22,353.42 250.53,353.44 250.84,353.46 251.15,353.48 251.46,353.5 251.77,353.52 252.08,353.54 252.4,353.56 252.71,353.58 253.02,353.59 253.33,353.61 253.64,353.62 253.95,353.64 254.26,353.65 254.57,353.66 254.88,353.67 255.19,353.69 255.51,353.7 255.82,353.71 256.13,353.72 256.44,353.73 256.75,353.74 257.06,353.74 257.37,353.75 257.68,353.76 257.99,353.76 258.31,353.77 258.62,353.77 258.93,353.78 259.24,353.78 259.55,353.79 259.86,353.79 260.17,353.79 260.48,353.8 260.79,353.8 261.1,353.8 261.41,353.8 261.73,353.8 262.04,347.2 262.35,342.25 262.66,341.62 262.97,341.13 263.28,340.76 263.59,340.49 263.9,340.28 264.21,340.13 264.52,340 264.84,339.87 265.15,339.73 265.46,339.58 265.77,339.44 266.08,339.31 266.39,339.18 266.7,339.06 267.01,338.94 267.32,338.83 267.63,338.73 267.95,338.63 268.26,338.54 268.57,338.44 268.88,338.36 269.19,338.28 269.5,338.2 269.81,338.12 270.12,338.05 270.43,337.98 270.75,337.92 271.06,337.86 271.37,337.8 271.68,337.74 271.99,337.68 272.3,337.63 272.61,337.58 272.92,337.53 273.23,337.47 273.54,337.42 273.86,337.37 274.17,337.32 274.48,337.27 274.79,337.22 275.1,337.17 275.41,337.12 275.72,337.07 276.03,337.03 276.34,336.98 276.65,336.94 276.96,336.89 277.28,336.85 277.59,336.81 277.9,336.77 278.21,336.74 278.52,336.7 278.83,336.67 279.14,336.64 279.45,336.61 279.76,336.59 280.07,336.56 280.39,336.54 280.7,336.52 281.01,336.51 281.32,336.5 281.63,336.49 281.94,336.48 282.25,336.48 282.56,339.43 282.87,349.94 283.19,351.84 283.5,352.43 283.81,352.85 284.12,353.11 284.43,353.25 284.74,353.31 285.05,353.33 285.36,353.35 285.67,353.37 285.98,353.39 286.29,353.41 286.61,353.43 286.92,353.44 287.23,353.46 287.54,353.48 287.85,353.49 288.16,353.51 288.47,353.53 288.78,353.54 289.09,353.55 289.4,353.57 289.72,353.58 290.03,353.59 290.34,353.61 290.65,353.62 290.96,353.63 291.27,353.64 291.58,353.65 291.89,353.66 292.2,353.67 292.51,353.68 292.83,353.69 293.14,353.7 293.45,353.7 293.76,353.71 294.07,353.72 294.38,353.72 294.69,353.73 295,353.74 295.31,353.74 295.62,353.75 295.94,353.75 296.25,353.76 296.56,353.76 296.87,353.77 297.18,353.77 297.49,353.77 297.8,353.78 298.11,353.78 298.42,353.78 298.74,353.78 299.05,353.79 299.36,353.79 299.67,353.79 299.98,353.79 300.29,353.79 300.6,353.8 300.91,353.8 301.22,353.8 301.53,353.8 301.85,353.8 302.16,353.8 302.47,353.8 302.78,353.8 303.09,353.8 303.4,352.33 303.71,349.34 304.02,348.81 304.33,348.71 304.64,348.61 304.95,348.52 305.27,348.43 305.58,348.36 305.89,348.29 306.2,348.22 306.51,348.16 306.82,348.11 307.13,348.06 307.44,348.02 307.75,347.98 308.06,347.94 308.38,347.91 308.69,347.88 309,347.85 309.31,347.83 309.62,347.81 309.93,347.79 310.24,347.77 310.55,347.75 310.86,347.73 311.18,347.72 311.49,347.7 311.8,347.68 312.11,347.66 312.42,347.64 312.73,347.62 313.04,347.6 313.35,347.57 313.66,347.54 313.97,347.51 314.28,347.48 314.6,347.44 314.91,347.41 315.22,347.38 315.53,347.34 315.84,347.31 316.15,347.27 316.46,347.24 316.77,347.21 317.08,347.17 317.39,347.14 317.71,347.1 318.02,347.07 318.33,347.04 318.64,347.01 318.95,346.98 319.26,346.95 319.57,346.92 319.88,346.89 320.19,346.87 320.5,346.85 320.82,346.82 321.13,346.8 321.44,346.78 321.75,346.77 322.06,346.75 322.37,346.74 322.68,346.73 322.99,346.72 323.3,346.71 323.62,346.71 323.93,346.71 324.24,350.8 324.55,352.98 324.86,353.05 325.17,353.11 325.48,353.18 325.79,353.23 326.1,353.29 326.41,353.34 326.73,353.39 327.04,353.43 327.35,353.47 327.66,353.51 327.97,353.55 328.28,353.58 328.59,353.61 328.9,353.63 329.21,353.66 329.52,353.68 329.83,353.7 330.15,353.72 330.46,353.73 330.77,353.74 331.08,353.76 331.39,353.77 331.7,353.77 332.01,353.78 332.32,353.79 332.63,353.79 332.94,353.79 333.26,353.8 333.57,353.8 333.88,353.8 334.19,353.8 334.5,353.8" fill="none" stroke="#1b365e" stroke-width="0.35" marker-start="url(#m6)" marker-mid="url(#m6)" marker-end="url(#m6)" />
<defs><marker id="m7" markerUnits="userSpaceOnUse" markerWidth="1.7" markerHeight="1.7" refX="0.85" refY="0.85" overflow="visible"><circle cx="0.85" cy="0.85" r="0.75" fill="#e2659e"/></marker></defs>
<polyline points="210.1,354.13 210.41,354.13 210.72,354.13 211.03,354.13 211.34,354.13 211.66,354.13 211.97,354.13 212.28,354.13 212.59,354.13 212.9,354.13 213.21,354.13 213.52,354.13 213.83,354.13 214.14,354.13 214.45,354.13 214.76,354.13 215.08,354.13 215.39,354.13 215.7,354.13 216.01,354.13 216.32,354.13 216.63,354.13 216.94,354.13 217.25,354.13 217.56,354.13 217.88,354.13 218.19,354.13 218.5,354.13 218.81,354.13 219.12,354.13 219.43,354.13 219.74,354.13 220.05,354.13 220.36,354.13 220.67,339.78 220.98,332.91 221.3,330.41 221.61,328.69 221.92,327.84 222.23,326.66 222.54,326.43 222.85,324.66 223.16,323.95 223.47,323.61 223.78,323.85 224.09,322.75 224.41,322.6 224.72,322.31 225.03,320.76 225.34,320.32 225.65,321.55 225.96,319.88 226.27,319.98 226.58,320.04 226.89,319.91 227.2,318.98 227.52,319.07 227.83,318.44 228.14,318.23 228.45,318.87 228.76,317.61 229.07,317.06 229.38,316.89 229.69,317.31 230,318.09 230.31,318.02 230.63,317.68 230.94,316.24 231.25,317.2 231.56,316.99 231.87,316.02 232.18,316.88 232.49,316.4 232.8,316.5 233.11,317.02 233.42,316.07 233.74,315.56 234.05,316.61 234.36,316.42 234.67,316.03 234.98,316.57 235.29,315.74 235.6,315.14 235.91,315.34 236.22,315.48 236.53,314.89 236.85,315.99 237.16,315.25 237.47,315.52 237.78,315.1 238.09,315.86 238.4,314.73 238.71,315.81 239.02,315.67 239.33,314.58 239.64,314.33 239.96,315.16 240.27,315.18 240.58,315.45 240.89,315.4 241.2,324.1 241.51,346.38 241.82,350.18 242.13,351.94 242.44,352.39 242.75,352.71 243.07,352.97 243.38,353.2 243.69,353.38 244,353.52 244.31,353.63 244.62,353.71 244.93,353.76 245.24,353.79 245.55,353.81 245.87,353.82 246.18,353.84 246.49,353.85 246.8,353.87 247.11,353.88 247.42,353.89 247.73,353.9 248.04,353.92 248.35,353.93 248.66,353.94 248.97,353.95 249.29,353.96 249.6,353.97 249.91,353.98 250.22,353.99 250.53,354 250.84,354 251.15,354.01 251.46,354.02 251.77,354.03 252.08,354.04 252.4,354.04 252.71,354.05 253.02,354.06 253.33,354.06 253.64,354.07 253.95,354.07 254.26,354.08 254.57,354.08 254.88,354.09 255.19,354.09 255.51,354.09 255.82,354.1 256.13,354.1 256.44,354.11 256.75,354.11 257.06,354.11 257.37,354.11 257.68,354.12 257.99,354.12 258.31,354.12 258.62,354.12 258.93,354.12 259.24,354.12 259.55,354.13 259.86,354.13 260.17,354.13 260.48,354.13 260.79,354.13 261.1,354.13 261.41,354.13 261.73,354.13 262.04,348.03 262.35,343.07 262.66,342.45 262.97,341.96 263.28,341.59 263.59,341.31 263.9,341.11 264.21,340.95 264.52,340.82 264.84,340.69 265.15,340.55 265.46,340.4 265.77,340.27 266.08,340.13 266.39,340.01 266.7,339.89 267.01,339.77 267.32,339.66 267.63,339.56 267.95,339.46 268.26,339.36 268.57,339.27 268.88,339.18 269.19,339.1 269.5,339.02 269.81,338.95 270.12,338.88 270.43,338.81 270.75,338.74 271.06,338.68 271.37,338.62 271.68,338.56 271.99,338.51 272.3,338.46 272.61,338.4 272.92,338.35 273.23,338.3 273.54,338.25 273.86,338.19 274.17,338.14 274.48,338.09 274.79,338.04 275.1,337.99 275.41,337.94 275.72,337.9 276.03,337.85 276.34,337.81 276.65,337.76 276.96,337.72 277.28,337.68 277.59,337.64 277.9,337.6 278.21,337.56 278.52,337.53 278.83,337.5 279.14,337.47 279.45,337.44 279.76,337.41 280.07,337.39 280.39,337.37 280.7,337.35 281.01,337.33 281.32,337.32 281.63,337.31 281.94,337.3 282.25,337.3 282.56,340.26 282.87,350.79 283.19,352.58 283.5,353.08 283.81,353.43 284.12,353.64 284.43,353.76 284.74,353.8 285.05,353.81 285.36,353.83 285.67,353.84 285.98,353.86 286.29,353.87 286.61,353.88 286.92,353.89 287.23,353.9 287.54,353.92 287.85,353.93 288.16,353.94 288.47,353.95 288.78,353.96 289.09,353.97 289.4,353.98 289.72,353.99 290.03,353.99 290.34,354 290.65,354.01 290.96,354.02 291.27,354.02 291.58,354.03 291.89,354.04 292.2,354.04 292.51,354.05 292.83,354.06 293.14,354.06 293.45,354.07 293.76,354.07 294.07,354.08 294.38,354.08 294.69,354.08 295,354.09 295.31,354.09 295.62,354.1 295.94,354.1 296.25,354.1 296.56,354.11 296.87,354.11 297.18,354.11 297.49,354.11 297.8,354.11 298.11,354.12 298.42,354.12 298.74,354.12 299.05,354.12 299.36,354.12 299.67,354.12 299.98,354.13 300.29,354.13 300.6,354.13 300.91,354.13 301.22,354.13 301.53,354.13 301.85,354.13 302.16,354.13 302.47,354.13 302.78,354.13 303.09,354.13 303.4,352.66 303.71,349.67 304.02,349.14 304.33,349.04 304.64,348.94 304.95,348.85 305.27,348.76 305.58,348.69 305.89,348.62 306.2,348.55 306.51,348.49 306.82,348.44 307.13,348.39 307.44,348.35 307.75,348.31 308.06,348.27 308.38,348.24 308.69,348.21 309,348.18 309.31,348.16 309.62,348.14 309.93,348.12 310.24,348.1 310.55,348.08 310.86,348.06 311.18,348.05 311.49,348.03 311.8,348.01 312.11,347.99 312.42,347.97 312.73,347.95 313.04,347.93 313.35,347.9 313.66,347.87 313.97,347.84 314.28,347.81 314.6,347.77 314.91,347.74 315.22,347.71 315.53,347.67 315.84,347.64 316.15,347.6 316.46,347.57 316.77,347.54 317.08,347.5 317.39,347.47 317.71,347.43 318.02,347.4 318.33,347.37 318.64,347.34 318.95,347.31 319.26,347.28 319.57,347.25 319.88,347.22 320.19,347.2 320.5,347.18 320.82,347.15 321.13,347.13 321.44,347.11 321.75,347.1 322.06,347.08 322.37,347.07 322.68,347.06 322.99,347.05 323.3,347.04 323.62,347.04 323.93,347.04 324.24,351.13 324.55,353.31 324.86,353.38 325.17,353.44 325.48,353.51 325.79,353.56 326.1,353.62 326.41,353.67 326.73,353.72 327.04,353.76 327.35,353.8 327.66,353.84 327.97,353.88 328.28,353.91 328.59,353.94 328.9,353.96 329.21,353.99 329.52,354.01 329.83,354.03 330.15,354.05 330.46,354.06 330.77,354.07 331.08,354.09 331.39,354.1 331.7,354.1 332.01,354.11 332.32,354.12 332.63,354.12 332.94,354.12 333.26,354.13 333.57,354.13 333.88,354.13 334.19,354.13 334.5,354.13" fill="none" stroke="#e2659e" stroke-width="0.35" marker-start="url(#m7)" marker-mid="url(#m7)" marker-end="url(#m7)" />
<rect x="210.1" y="139.4" width="124.4" height="228.4" fill="none" stroke="#444" stroke-width="0.8"/>
<line x1="210.1" y1="215.7" x2="334.5" y2="215.7" stroke="#444" stroke-width="0.8" />
<line x1="210.1" y1="291.2" x2="334.5" y2="291.2" stroke="#444" stroke-width="0.8" />
<line x1="210.1" y1="214.9" x2="211.7" y2="214.9" stroke="#231f20" stroke-width="0.4" />
<line x1="210.1" y1="208.6" x2="211.1" y2="208.6" stroke="#231f20" stroke-width="0.4" />
<line x1="210.1" y1="202.3" x2="211.7" y2="202.3" stroke="#231f20" stroke-width="0.4" />
<line x1="210.1" y1="196" x2="211.1" y2="196" stroke="#231f20" stroke-width="0.4" />
<line x1="210.1" y1="189.7" x2="211.7" y2="189.7" stroke="#231f20" stroke-width="0.4" />
<line x1="210.1" y1="183.4" x2="211.1" y2="183.4" stroke="#231f20" stroke-width="0.4" />
<line x1="210.1" y1="177.1" x2="211.7" y2="177.1" stroke="#231f20" stroke-width="0.4" />
<line x1="210.1" y1="170.8" x2="211.1" y2="170.8" stroke="#231f20" stroke-width="0.4" />
<line x1="210.1" y1="164.5" x2="211.7" y2="164.5" stroke="#231f20" stroke-width="0.4" />
<line x1="210.1" y1="158.2" x2="211.1" y2="158.2" stroke="#231f20" stroke-width="0.4" />
<line x1="210.1" y1="151.9" x2="211.7" y2="151.9" stroke="#231f20" stroke-width="0.4" />
<line x1="210.1" y1="145.6" x2="211.1" y2="145.6" stroke="#231f20" stroke-width="0.4" />
<line x1="210.1" y1="139.3" x2="211.7" y2="139.3" stroke="#231f20" stroke-width="0.4" />
<text x="205.6" y="217.13" font-size="6.2" fill="#231f20" text-anchor="end" stroke="#231f20" stroke-width="0.27">0</text>
<text x="205.6" y="204.53" font-size="6.2" fill="#231f20" text-anchor="end" stroke="#231f20" stroke-width="0.27">20 k</text>
<text x="205.6" y="191.93" font-size="6.2" fill="#231f20" text-anchor="end" stroke="#231f20" stroke-width="0.27">40 k</text>
<text x="205.6" y="179.33" font-size="6.2" fill="#231f20" text-anchor="end" stroke="#231f20" stroke-width="0.27">60 k</text>
<text x="205.6" y="166.73" font-size="6.2" fill="#231f20" text-anchor="end" stroke="#231f20" stroke-width="0.27">80 k</text>
<text x="205.6" y="154.13" font-size="6.2" fill="#231f20" text-anchor="end" stroke="#231f20" stroke-width="0.27">100 k</text>
<text x="205.6" y="141.53" font-size="6.2" fill="#231f20" text-anchor="end" stroke="#231f20" stroke-width="0.27">120 k</text>
<text x="205.6" y="280.23" font-size="6.2" fill="#231f20" text-anchor="end" stroke="#231f20" stroke-width="0.27">1</text>
<line x1="210.1" y1="278" x2="211.7" y2="278" stroke="#231f20" stroke-width="0.4" />
<text x="205.6" y="263.23" font-size="6.2" fill="#231f20" text-anchor="end" stroke="#231f20" stroke-width="0.27">2</text>
<line x1="210.1" y1="261" x2="211.7" y2="261" stroke="#231f20" stroke-width="0.4" />
<text x="205.6" y="246.23" font-size="6.2" fill="#231f20" text-anchor="end" stroke="#231f20" stroke-width="0.27">3</text>
<line x1="210.1" y1="244" x2="211.7" y2="244" stroke="#231f20" stroke-width="0.4" />
<text x="205.6" y="229.23" font-size="6.2" fill="#231f20" text-anchor="end" stroke="#231f20" stroke-width="0.27">4</text>
<line x1="210.1" y1="227" x2="211.7" y2="227" stroke="#231f20" stroke-width="0.4" />
<line x1="210.1" y1="269.5" x2="211.1" y2="269.5" stroke="#231f20" stroke-width="0.4" />
<line x1="210.1" y1="252.5" x2="211.1" y2="252.5" stroke="#231f20" stroke-width="0.4" />
<line x1="210.1" y1="235.5" x2="211.1" y2="235.5" stroke="#231f20" stroke-width="0.4" />
<text x="337.3" y="228.73" font-size="6.2" fill="#231f20" stroke="#231f20" stroke-width="0.27">3</text>
<line x1="334.5" y1="226.5" x2="332.9" y2="226.5" stroke="#231f20" stroke-width="0.4" />
<text x="337.3" y="244.8" font-size="6.2" fill="#231f20" stroke="#231f20" stroke-width="0.27">2</text>
<line x1="334.5" y1="242.57" x2="332.9" y2="242.57" stroke="#231f20" stroke-width="0.4" />
<text x="337.3" y="260.87" font-size="6.2" fill="#231f20" stroke="#231f20" stroke-width="0.27">1</text>
<line x1="334.5" y1="258.64" x2="332.9" y2="258.64" stroke="#231f20" stroke-width="0.4" />
<text x="337.3" y="276.94" font-size="6.2" fill="#231f20" stroke="#231f20" stroke-width="0.27">0</text>
<line x1="334.5" y1="274.71" x2="332.9" y2="274.71" stroke="#231f20" stroke-width="0.4" />
<text x="337.3" y="293.01" font-size="6.2" fill="#231f20" stroke="#231f20" stroke-width="0.27">−1</text>
<line x1="334.5" y1="290.78" x2="332.9" y2="290.78" stroke="#231f20" stroke-width="0.4" />
<text x="205.6" y="356.03" font-size="6.2" fill="#231f20" text-anchor="end" stroke="#231f20" stroke-width="0.27">10 k</text>
<line x1="210.1" y1="353.8" x2="211.7" y2="353.8" stroke="#231f20" stroke-width="0.4" />
<text x="205.6" y="339.53" font-size="6.2" fill="#231f20" text-anchor="end" stroke="#231f20" stroke-width="0.27">20 k</text>
<line x1="210.1" y1="337.3" x2="211.7" y2="337.3" stroke="#231f20" stroke-width="0.4" />
<text x="205.6" y="323.03" font-size="6.2" fill="#231f20" text-anchor="end" stroke="#231f20" stroke-width="0.27">30 k</text>
<line x1="210.1" y1="320.8" x2="211.7" y2="320.8" stroke="#231f20" stroke-width="0.4" />
<text x="205.6" y="306.53" font-size="6.2" fill="#231f20" text-anchor="end" stroke="#231f20" stroke-width="0.27">40 k</text>
<line x1="210.1" y1="304.3" x2="211.7" y2="304.3" stroke="#231f20" stroke-width="0.4" />
<line x1="210.1" y1="362.05" x2="211.1" y2="362.05" stroke="#231f20" stroke-width="0.4" />
<line x1="210.1" y1="345.55" x2="211.1" y2="345.55" stroke="#231f20" stroke-width="0.4" />
<line x1="210.1" y1="329.05" x2="211.1" y2="329.05" stroke="#231f20" stroke-width="0.4" />
<line x1="210.1" y1="312.55" x2="211.1" y2="312.55" stroke="#231f20" stroke-width="0.4" />
<line x1="210.1" y1="296.05" x2="211.1" y2="296.05" stroke="#231f20" stroke-width="0.4" />
<text x="210.1" y="376.53" font-size="6.2" fill="#231f20" text-anchor="middle" stroke="#231f20" stroke-width="0.27">0</text>
<line x1="210.1" y1="367.8" x2="210.1" y2="366.2" stroke="#231f20" stroke-width="0.4" />
<line x1="210.1" y1="291.2" x2="210.1" y2="292.8" stroke="#231f20" stroke-width="0.4" />
<line x1="210.1" y1="139.4" x2="210.1" y2="141" stroke="#231f20" stroke-width="0.4" />
<text x="230.83" y="376.53" font-size="6.2" fill="#231f20" text-anchor="middle" stroke="#231f20" stroke-width="0.27">200</text>
<line x1="230.83" y1="367.8" x2="230.83" y2="366.2" stroke="#231f20" stroke-width="0.4" />
<line x1="230.83" y1="291.2" x2="230.83" y2="292.8" stroke="#231f20" stroke-width="0.4" />
<line x1="230.83" y1="139.4" x2="230.83" y2="141" stroke="#231f20" stroke-width="0.4" />
<text x="251.57" y="376.53" font-size="6.2" fill="#231f20" text-anchor="middle" stroke="#231f20" stroke-width="0.27">400</text>
<line x1="251.57" y1="367.8" x2="251.57" y2="366.2" stroke="#231f20" stroke-width="0.4" />
<line x1="251.57" y1="291.2" x2="251.57" y2="292.8" stroke="#231f20" stroke-width="0.4" />
<line x1="251.57" y1="139.4" x2="251.57" y2="141" stroke="#231f20" stroke-width="0.4" />
<text x="272.3" y="376.53" font-size="6.2" fill="#231f20" text-anchor="middle" stroke="#231f20" stroke-width="0.27">600</text>
<line x1="272.3" y1="367.8" x2="272.3" y2="366.2" stroke="#231f20" stroke-width="0.4" />
<line x1="272.3" y1="291.2" x2="272.3" y2="292.8" stroke="#231f20" stroke-width="0.4" />
<line x1="272.3" y1="139.4" x2="272.3" y2="141" stroke="#231f20" stroke-width="0.4" />
<text x="293.03" y="376.53" font-size="6.2" fill="#231f20" text-anchor="middle" stroke="#231f20" stroke-width="0.27">800</text>
<line x1="293.03" y1="367.8" x2="293.03" y2="366.2" stroke="#231f20" stroke-width="0.4" />
<line x1="293.03" y1="291.2" x2="293.03" y2="292.8" stroke="#231f20" stroke-width="0.4" />
<line x1="293.03" y1="139.4" x2="293.03" y2="141" stroke="#231f20" stroke-width="0.4" />
<text x="313.77" y="376.53" font-size="6.2" fill="#231f20" text-anchor="middle" stroke="#231f20" stroke-width="0.27">1000</text>
<line x1="313.77" y1="367.8" x2="313.77" y2="366.2" stroke="#231f20" stroke-width="0.4" />
<line x1="313.77" y1="291.2" x2="313.77" y2="292.8" stroke="#231f20" stroke-width="0.4" />
<line x1="313.77" y1="139.4" x2="313.77" y2="141" stroke="#231f20" stroke-width="0.4" />
<text x="334.5" y="376.53" font-size="6.2" fill="#231f20" text-anchor="middle" stroke="#231f20" stroke-width="0.27">1200</text>
<line x1="334.5" y1="367.8" x2="334.5" y2="366.2" stroke="#231f20" stroke-width="0.4" />
<line x1="334.5" y1="291.2" x2="334.5" y2="292.8" stroke="#231f20" stroke-width="0.4" />
<line x1="334.5" y1="139.4" x2="334.5" y2="141" stroke="#231f20" stroke-width="0.4" />
<text x="269" y="383.93" font-size="6.2" fill="#231f20" text-anchor="middle" stroke="#231f20" stroke-width="0.27">Time (s)</text>
<text transform="translate(188.36,177.6) rotate(-90)" font-size="6" fill="#231f20" text-anchor="middle" stroke="#231f20" stroke-width="0.27">R (Ω)</text>
<text transform="translate(193.83,253.5) rotate(-90)" font-size="6.2" fill="#231f20" text-anchor="middle" stroke="#231f20" stroke-width="0.27">R<tspan dy="1.55" font-size="4.03">gas</tspan><tspan dy="-1.55">/R</tspan><tspan dy="1.55" font-size="4.03">air</tspan></text>
<text transform="translate(188.62,334.6) rotate(-90)" font-size="5.6" fill="#231f20" text-anchor="middle" stroke="#231f20" stroke-width="0.27">R (Ω)</text>
<text transform="translate(349.73,255.8) rotate(-90)" font-size="6.2" fill="#231f20" text-anchor="middle" stroke="#231f20" stroke-width="0.27">(R<tspan dy="1.55" font-size="4.03">gas</tspan><tspan dy="-1.55">-R</tspan><tspan dy="1.55" font-size="4.03">air</tspan><tspan dy="-1.55">)/R</tspan><tspan dy="1.55" font-size="4.03">air</tspan></text>
<text x="218.5" y="137.03" font-size="6.2" fill="#231f20" textLength="27.5" lengthAdjust="spacingAndGlyphs" stroke="#231f20" stroke-width="0.27">5000 ppm</text>
<text x="259.7" y="137.03" font-size="6.2" fill="#231f20" textLength="27.5" lengthAdjust="spacingAndGlyphs" stroke="#231f20" stroke-width="0.27">2500 ppm</text>
<text x="300.9" y="137.03" font-size="6.2" fill="#231f20" textLength="27.5" lengthAdjust="spacingAndGlyphs" stroke="#231f20" stroke-width="0.27">1000 ppm</text>
<line x1="282.6" y1="144.5" x2="294.7" y2="144.5" stroke="#27a2dc" stroke-width="0.6" />
<circle cx="288.6" cy="144.5" r="0.9" fill="#27a2dc"/>
<text x="297" y="146.52" font-size="5.6" fill="#231f20" textLength="33.6" lengthAdjust="spacingAndGlyphs" stroke="#231f20" stroke-width="0.15">Humidity 50%</text>
<line x1="282.6" y1="151.8" x2="294.7" y2="151.8" stroke="#1b365e" stroke-width="0.6" />
<circle cx="288.6" cy="151.8" r="0.9" fill="#1b365e"/>
<text x="297" y="153.82" font-size="5.6" fill="#231f20" textLength="16.2" lengthAdjust="spacingAndGlyphs" stroke="#231f20" stroke-width="0.15">Dry air</text>
<line x1="282.6" y1="220.3" x2="294.7" y2="220.3" stroke="#1b365e" stroke-width="0.6" />
<circle cx="288.6" cy="220.3" r="0.9" fill="#1b365e"/>
<text x="297" y="222.32" font-size="5.6" fill="#231f20" textLength="33.6" lengthAdjust="spacingAndGlyphs" stroke="#231f20" stroke-width="0.15">Humidity 50%</text>
<line x1="282.6" y1="227.2" x2="294.7" y2="227.2" stroke="#27a2dc" stroke-width="0.6" />
<circle cx="288.6" cy="227.2" r="0.9" fill="#27a2dc"/>
<text x="297" y="229.22" font-size="5.6" fill="#231f20" textLength="16.2" lengthAdjust="spacingAndGlyphs" stroke="#231f20" stroke-width="0.15">Dry air</text>
<line x1="264" y1="297" x2="276.5" y2="297" stroke="#1b365e" stroke-width="0.6" />
<circle cx="270.2" cy="297" r="0.9" fill="#1b365e"/>
<text x="278.3" y="299.02" font-size="5.6" fill="#231f20" textLength="49.7" lengthAdjust="spacingAndGlyphs" stroke="#231f20" stroke-width="0.15">Before humidity test</text>
<line x1="264" y1="303.5" x2="276.5" y2="303.5" stroke="#e2659e" stroke-width="0.6" />
<circle cx="270.2" cy="303.5" r="0.9" fill="#e2659e"/>
<text x="278.3" y="305.52" font-size="5.6" fill="#231f20" textLength="46.7" lengthAdjust="spacingAndGlyphs" stroke="#231f20" stroke-width="0.15">After humidity test</text>
<text x="182.5" y="139.5" font-size="14" fill="#231815" font-weight="bold">f</text>
<defs>
<pattern id="stb" x="0" y="0.4" width="4" height="2.87" patternUnits="userSpaceOnUse">
<rect width="4" height="2.87" fill="#707070"/><rect y="0.25" width="4" height="1.1" fill="#e4e4e4"/></pattern>
<pattern id="stc" x="0" y="0.3" width="4" height="2.92" patternUnits="userSpaceOnUse">
<rect width="4" height="2.92" fill="#9a9a9a"/><rect y="0.2" width="4" height="1.75" fill="#e6e6e6"/></pattern>
<linearGradient id="bgb" x1="0" y1="0" x2="1" y2="0">
<stop offset="0" stop-color="#a2a2a2"/><stop offset="0.14" stop-color="#9c9c9c"/><stop offset="0.8" stop-color="#a6a6a6"/><stop offset="1" stop-color="#b4b4b4"/></linearGradient>
<linearGradient id="vb" x1="0" y1="0" x2="1" y2="0">
<stop offset="0" stop-color="#000" stop-opacity="0"/><stop offset="0.2" stop-color="#000" stop-opacity="0.2"/><stop offset="0.8" stop-color="#000" stop-opacity="0.2"/><stop offset="1" stop-color="#000" stop-opacity="0"/></linearGradient>
<linearGradient id="hb" x1="0" y1="0" x2="0" y2="1">
<stop offset="0" stop-color="#000" stop-opacity="0.05"/><stop offset="0.25" stop-color="#000" stop-opacity="0.42"/><stop offset="0.75" stop-color="#000" stop-opacity="0.42"/><stop offset="1" stop-color="#000" stop-opacity="0.05"/></linearGradient>
</defs>
<text x="3.9" y="14.25" font-size="14" fill="#231815" font-weight="bold">a</text>
<polygon points="18,68.6 40.9,57.6 58.7,59.7 38.6,71.7" fill="#a7a8a8" stroke="none" stroke-width="0.5" />
<polygon points="18,67.6 40.9,56.6 58.7,58.7 38.6,70.7" fill="#c9caca" stroke="none" stroke-width="0.5" />
<polygon points="85.2,78.4 94.7,64.4 119,66.3 116.3,82.8" fill="#a7a8a8" stroke="none" stroke-width="0.5" />
<polygon points="85.2,77.4 94.7,63.4 119,65.3 116.3,81.8" fill="#c9caca" stroke="none" stroke-width="0.5" />
<polygon points="44.3,79.4 62.8,68 88.6,72 88.6,80.8 80,92.3 44.3,86.4" fill="#4c52aa" stroke="none" stroke-width="0.5" />
<polygon points="44.3,79.2 62.8,67.8 88.6,71.9 80,84.6" fill="#585eb3" stroke="none" stroke-width="0.5" />
<polygon points="58.2,74.1 65.4,74.1 65.2,75.3 58.2,75.3" fill="#b3b4b4" stroke="none" stroke-width="0.5" />
<polygon points="50.1,65.3 64.6,62.5 64.8,60.9 71.8,60.9 65.4,74.1 58.2,74.1 62.2,67.8 52.6,68.6" fill="#d2d3d3" stroke="none" stroke-width="0.5" />
<polygon points="66.2,74.9 74.2,75.7 74,76.9 66.2,76.1" fill="#b3b4b4" stroke="none" stroke-width="0.5" />
<polygon points="75.8,62 83.1,62 79.5,66.2 88.7,67.4 87.4,72.6 77.2,71 74.2,75.7 66.2,74.9" fill="#d0d1d1" stroke="none" stroke-width="0.5" />
<line x1="60.8" y1="49.2" x2="99.8" y2="50.3" stroke="#8791cb" stroke-width="1.05" />
<line x1="60.8" y1="49" x2="99.8" y2="50.1" stroke="#b4bbe0" stroke-width="0.35" />
<line x1="57.7" y1="51.25" x2="96.9" y2="52.8" stroke="#8791cb" stroke-width="1.05" />
<line x1="57.7" y1="51.05" x2="96.9" y2="52.6" stroke="#b4bbe0" stroke-width="0.35" />
<line x1="54.6" y1="53.3" x2="94" y2="55.3" stroke="#8791cb" stroke-width="1.05" />
<line x1="54.6" y1="53.1" x2="94" y2="55.1" stroke="#b4bbe0" stroke-width="0.35" />
<line x1="51.5" y1="55.35" x2="91.1" y2="57.8" stroke="#8791cb" stroke-width="1.05" />
<line x1="51.5" y1="55.15" x2="91.1" y2="57.6" stroke="#b4bbe0" stroke-width="0.35" />
<line x1="48.4" y1="57.4" x2="88.2" y2="60.3" stroke="#8791cb" stroke-width="1.05" />
<line x1="48.4" y1="57.2" x2="88.2" y2="60.1" stroke="#b4bbe0" stroke-width="0.35" />
<rect x="50.3" y="29.4" width="34.2" height="14.2" fill="none" stroke="#8d96c9" stroke-width="0.45" stroke-dasharray="1,0.7"/>
<line x1="50.5" y1="43.6" x2="62" y2="48.2" stroke="#8d96c9" stroke-width="0.4" stroke-dasharray="1,0.7"/>
<line x1="84.5" y1="43.6" x2="78.5" y2="47.2" stroke="#8d96c9" stroke-width="0.4" stroke-dasharray="1,0.7"/>
<polygon points="53.2,33.6 56,32.2 83,34.2 82.8,39.5 80,41.3 53.2,38.8" fill="#b4bcdf" stroke="none" stroke-width="0.5" />
<line x1="53.5" y1="33.4" x2="82.5" y2="34.7" stroke="#97a1d2" stroke-width="0.3" />
<line x1="53.5" y1="34.45" x2="82.5" y2="35.75" stroke="#97a1d2" stroke-width="0.3" />
<line x1="53.5" y1="35.5" x2="82.5" y2="36.8" stroke="#97a1d2" stroke-width="0.3" />
<line x1="53.5" y1="36.55" x2="82.5" y2="37.85" stroke="#97a1d2" stroke-width="0.3" />
<line x1="53.5" y1="37.6" x2="82.5" y2="38.9" stroke="#97a1d2" stroke-width="0.3" />
<line x1="53.5" y1="38.65" x2="82.5" y2="39.95" stroke="#97a1d2" stroke-width="0.3" />
<line x1="53.5" y1="39.7" x2="82.5" y2="41" stroke="#97a1d2" stroke-width="0.3" />
<line x1="54.5" y1="32.6" x2="54.5" y2="39.2" stroke="#9ea8d6" stroke-width="0.25" />
<line x1="56.3" y1="32.65" x2="56.3" y2="39.33" stroke="#9ea8d6" stroke-width="0.25" />
<line x1="58.1" y1="32.7" x2="58.1" y2="39.46" stroke="#9ea8d6" stroke-width="0.25" />
<line x1="59.9" y1="32.75" x2="59.9" y2="39.59" stroke="#9ea8d6" stroke-width="0.25" />
<line x1="61.7" y1="32.8" x2="61.7" y2="39.72" stroke="#9ea8d6" stroke-width="0.25" />
<line x1="63.5" y1="32.85" x2="63.5" y2="39.85" stroke="#9ea8d6" stroke-width="0.25" />
<line x1="65.3" y1="32.9" x2="65.3" y2="39.98" stroke="#9ea8d6" stroke-width="0.25" />
<line x1="67.1" y1="32.95" x2="67.1" y2="40.11" stroke="#9ea8d6" stroke-width="0.25" />
<line x1="68.9" y1="33" x2="68.9" y2="40.24" stroke="#9ea8d6" stroke-width="0.25" />
<line x1="70.7" y1="33.05" x2="70.7" y2="40.37" stroke="#9ea8d6" stroke-width="0.25" />
<line x1="72.5" y1="33.1" x2="72.5" y2="40.5" stroke="#9ea8d6" stroke-width="0.25" />
<line x1="74.3" y1="33.15" x2="74.3" y2="40.63" stroke="#9ea8d6" stroke-width="0.25" />
<line x1="76.1" y1="33.2" x2="76.1" y2="40.76" stroke="#9ea8d6" stroke-width="0.25" />
<line x1="77.9" y1="33.25" x2="77.9" y2="40.89" stroke="#9ea8d6" stroke-width="0.25" />
<line x1="79.7" y1="33.3" x2="79.7" y2="41.02" stroke="#9ea8d6" stroke-width="0.25" />
<line x1="81.5" y1="33.35" x2="81.5" y2="41.15" stroke="#9ea8d6" stroke-width="0.25" />
<text x="83.5" y="49.78" font-size="6.6" fill="#7585c8" textLength="26.6" lengthAdjust="spacingAndGlyphs" stroke="#7585c8" stroke-width="0.05">CuO NWs</text>
<text x="82.8" y="69.25" font-size="5.7" fill="#111" textLength="30.5" lengthAdjust="spacingAndGlyphs" transform="rotate(7 82.8 67.2)" stroke="#111" stroke-width="0.25">Pt lead-pad</text>
<text x="51.8" y="87.56" font-size="6" fill="#ffffff" textLength="17.8" lengthAdjust="spacingAndGlyphs" transform="rotate(6 51.8 85.4)" stroke="#ffffff" stroke-width="0.3">SiO<tspan dy="1" font-size="3.6">2</tspan><tspan dy="-1">/Si</tspan></text>
<text x="126.8" y="14.35" font-size="14" fill="#231815" font-weight="bold">b</text>
<rect x="136.8" y="15" width="95.2" height="88.5" fill="url(#bgb)" />
<rect x="149.7" y="15" width="63.3" height="88.5" fill="#767676" />
<rect x="149.7" y="14.92" width="63.3" height="1.16" fill="#e6e6e6" />
<rect x="149.7" y="17.82" width="63.3" height="1.16" fill="#e6e6e6" />
<rect x="149.7" y="20.72" width="63.3" height="1.16" fill="#e6e6e6" />
<rect x="149.7" y="23.62" width="63.3" height="1.16" fill="#e6e6e6" />
<rect x="149.7" y="26.52" width="63.3" height="1.16" fill="#e6e6e6" />
<rect x="149.7" y="29.42" width="63.3" height="1.16" fill="#e6e6e6" />
<rect x="149.7" y="32.32" width="63.3" height="1.16" fill="#e6e6e6" />
<rect x="149.7" y="35.22" width="63.3" height="1.16" fill="#e6e6e6" />
<rect x="149.7" y="38.12" width="63.3" height="1.16" fill="#e6e6e6" />
<rect x="149.7" y="41.02" width="63.3" height="1.16" fill="#e6e6e6" />
<rect x="149.7" y="43.92" width="63.3" height="1.16" fill="#e6e6e6" />
<rect x="149.7" y="46.82" width="63.3" height="1.16" fill="#e6e6e6" />
<rect x="149.7" y="49.72" width="63.3" height="1.16" fill="#e6e6e6" />
<rect x="149.7" y="52.62" width="63.3" height="1.16" fill="#e6e6e6" />
<rect x="149.7" y="55.52" width="63.3" height="1.16" fill="#e6e6e6" />
<rect x="149.7" y="58.42" width="63.3" height="1.16" fill="#e6e6e6" />
<rect x="149.7" y="61.32" width="63.3" height="1.16" fill="#e6e6e6" />
<rect x="149.7" y="64.22" width="63.3" height="1.16" fill="#e6e6e6" />
<rect x="149.7" y="67.12" width="63.3" height="1.16" fill="#e6e6e6" />
<rect x="149.7" y="70.02" width="63.3" height="1.16" fill="#e6e6e6" />
<rect x="149.7" y="72.92" width="63.3" height="1.16" fill="#e6e6e6" />
<rect x="149.7" y="75.82" width="63.3" height="1.16" fill="#e6e6e6" />
<rect x="149.7" y="78.72" width="63.3" height="1.16" fill="#e6e6e6" />
<rect x="149.7" y="81.62" width="63.3" height="1.16" fill="#e6e6e6" />
<rect x="149.7" y="84.52" width="63.3" height="1.16" fill="#e6e6e6" />
<rect x="149.7" y="87.42" width="63.3" height="1.16" fill="#e6e6e6" />
<rect x="149.7" y="90.32" width="63.3" height="1.16" fill="#e6e6e6" />
<rect x="149.7" y="93.22" width="63.3" height="1.16" fill="#e6e6e6" />
<rect x="149.7" y="96.12" width="63.3" height="1.16" fill="#e6e6e6" />
<rect x="149.7" y="99.02" width="63.3" height="1.16" fill="#e6e6e6" />
<rect x="176" y="15" width="26" height="88.5" fill="url(#vb)" />
<rect x="136.8" y="54.5" width="95.2" height="13.5" fill="url(#hb)" />
<rect x="149.7" y="54.5" width="63.3" height="13.5" fill="#ffffff" opacity="0.08"/>
<line x1="187.8" y1="15" x2="187.8" y2="103.5" stroke="#d0d0d0" stroke-width="0.3" />
<line x1="189.3" y1="15" x2="189.3" y2="103.5" stroke="#d0d0d0" stroke-width="0.3" />
<text x="140" y="22.92" font-size="5.6" fill="#111" textLength="21.6" lengthAdjust="spacingAndGlyphs" stroke="#111" stroke-width="0.22">Cu NWs</text>
<text x="130.4" y="47.42" font-size="5.6" fill="#111" textLength="18.3" lengthAdjust="spacingAndGlyphs" stroke="#111" stroke-width="0.22">90 nm</text>
<line x1="148.2" y1="30" x2="148.2" y2="36.6" stroke="#0a0a0a" stroke-width="0.7" />
<line x1="148.2" y1="39" x2="148.2" y2="47" stroke="#0a0a0a" stroke-width="0.7" />
<polygon points="147.1,34.4 149.3,34.4 148.2,36.6" fill="#111" stroke="none" stroke-width="0.5" />
<polygon points="147.1,41.2 149.3,41.2 148.2,39" fill="#111" stroke="none" stroke-width="0.5" />
<line x1="144.7" y1="36.8" x2="159.4" y2="36.8" stroke="#0a0a0a" stroke-width="0.7" />
<line x1="144.7" y1="38.9" x2="159.4" y2="38.9" stroke="#0a0a0a" stroke-width="0.7" />
<text x="217" y="97.32" font-size="5.6" fill="#111" textLength="12.5" lengthAdjust="spacingAndGlyphs" stroke="#111" stroke-width="0.2">1 μm</text>
<rect x="218.8" y="99.3" width="8.8" height="1.4" fill="#111" />
<line x1="186.6" y1="91.5" x2="186.6" y2="109" stroke="#111" stroke-width="0.55" />
<line x1="189.4" y1="91.5" x2="189.4" y2="109" stroke="#111" stroke-width="0.55" />
<line x1="168" y1="105.5" x2="186.2" y2="105.5" stroke="#111" stroke-width="0.5" />
<line x1="190" y1="105.5" x2="207.5" y2="105.5" stroke="#111" stroke-width="0.5" />
<polygon points="186.4,105.5 184,104.5 184,106.5" fill="#111" stroke="none" stroke-width="0.5" />
<polygon points="189.6,105.5 192,104.5 192,106.5" fill="#111" stroke="none" stroke-width="0.5" />
<text x="146.6" y="114.1" font-size="6.1" fill="#111" textLength="78.4" lengthAdjust="spacingAndGlyphs" stroke="#111" stroke-width="0.32">Gap separation of electrodes</text>
<text x="235.94" y="14.5" font-size="14" fill="#231815" font-weight="bold">c</text>
<rect x="245" y="15.2" width="100.8" height="88.5" fill="#a9a9a9" />
<rect x="262.6" y="16.15" width="67.4" height="2.97" fill="#989898" />
<rect x="262.6" y="19.12" width="67.4" height="2.97" fill="#989898" />
<rect x="262.6" y="22.09" width="67.4" height="2.97" fill="#989898" />
<rect x="262.6" y="25.06" width="67.4" height="2.97" fill="#989898" />
<rect x="262.6" y="28.03" width="67.4" height="2.97" fill="#989898" />
<rect x="262.6" y="31" width="67.4" height="2.97" fill="#989898" />
<rect x="262.6" y="33.97" width="67.4" height="2.97" fill="#989898" />
<rect x="262.6" y="36.94" width="67.4" height="2.97" fill="#989898" />
<rect x="262.6" y="39.91" width="67.4" height="2.97" fill="#989898" />
<rect x="262.6" y="42.88" width="67.4" height="2.97" fill="#989898" />
<rect x="262.6" y="45.85" width="67.4" height="2.97" fill="#989898" />
<rect x="262.6" y="48.82" width="56.4" height="2.97" fill="#989898" />
<rect x="262.6" y="51.79" width="53.4" height="2.97" fill="#989898" />
<rect x="264" y="54.76" width="50.6" height="2.97" fill="#989898" />
<rect x="268.9" y="57.73" width="58.2" height="2.97" fill="#989898" />
<rect x="268.9" y="60.7" width="58.2" height="2.97" fill="#989898" />
<rect x="266" y="63.67" width="61" height="2.97" fill="#989898" />
<rect x="262.6" y="66.64" width="66.9" height="2.97" fill="#989898" />
<rect x="262.6" y="69.61" width="66.9" height="2.97" fill="#989898" />
<rect x="262.6" y="72.58" width="66.9" height="2.97" fill="#989898" />
<rect x="262.6" y="75.55" width="66.9" height="2.97" fill="#989898" />
<rect x="262.6" y="78.52" width="66.9" height="2.97" fill="#989898" />
<rect x="262.6" y="81.49" width="66.9" height="2.97" fill="#989898" />
<rect x="262.6" y="84.46" width="66.9" height="2.97" fill="#989898" />
<rect x="262.6" y="87.43" width="66.9" height="2.97" fill="#989898" />
<rect x="262.6" y="90.4" width="66.9" height="2.97" fill="#989898" />
<rect x="262.6" y="93.37" width="66.9" height="2.97" fill="#989898" />
<rect x="262.6" y="96.34" width="66.9" height="2.97" fill="#989898" />
<rect x="262.6" y="99.31" width="66.9" height="2.97" fill="#989898" />
<rect x="262.6" y="16.15" width="67.4" height="1.62" fill="#e2e2e2" />
<rect x="262.6" y="19.12" width="67.4" height="1.62" fill="#e2e2e2" />
<rect x="262.6" y="22.09" width="67.4" height="1.62" fill="#e2e2e2" />
<rect x="262.6" y="25.06" width="67.4" height="1.62" fill="#e2e2e2" />
<rect x="262.6" y="28.03" width="67.4" height="1.62" fill="#e2e2e2" />
<rect x="262.6" y="31" width="67.4" height="1.62" fill="#e2e2e2" />
<rect x="262.6" y="33.97" width="67.4" height="1.62" fill="#e2e2e2" />
<rect x="262.6" y="36.94" width="67.4" height="1.62" fill="#e2e2e2" />
<rect x="262.6" y="39.91" width="67.4" height="1.62" fill="#e2e2e2" />
<rect x="262.6" y="42.88" width="67.4" height="1.62" fill="#e2e2e2" />
<rect x="262.6" y="45.85" width="67.4" height="1.62" fill="#e2e2e2" />
<rect x="262.6" y="48.82" width="56.4" height="1.62" fill="#e2e2e2" />
<rect x="262.6" y="51.79" width="53.4" height="1.62" fill="#e2e2e2" />
<rect x="264" y="54.76" width="50.6" height="1.62" fill="#e2e2e2" />
<rect x="268.9" y="57.73" width="58.2" height="1.62" fill="#e2e2e2" />
<rect x="268.9" y="60.7" width="58.2" height="1.62" fill="#e2e2e2" />
<rect x="266" y="63.67" width="61" height="1.62" fill="#e2e2e2" />
<rect x="262.6" y="66.64" width="66.9" height="1.62" fill="#e2e2e2" />
<rect x="262.6" y="69.61" width="66.9" height="1.62" fill="#e2e2e2" />
<rect x="262.6" y="72.58" width="66.9" height="1.62" fill="#e2e2e2" />
<rect x="262.6" y="75.55" width="66.9" height="1.62" fill="#e2e2e2" />
<rect x="262.6" y="78.52" width="66.9" height="1.62" fill="#e2e2e2" />
<rect x="262.6" y="81.49" width="66.9" height="1.62" fill="#e2e2e2" />
<rect x="262.6" y="84.46" width="66.9" height="1.62" fill="#e2e2e2" />
<rect x="262.6" y="87.43" width="66.9" height="1.62" fill="#e2e2e2" />
<rect x="262.6" y="90.4" width="66.9" height="1.62" fill="#e2e2e2" />
<rect x="262.6" y="93.37" width="66.9" height="1.62" fill="#e2e2e2" />
<rect x="262.6" y="96.34" width="66.9" height="1.62" fill="#e2e2e2" />
<rect x="262.6" y="99.31" width="66.9" height="1.62" fill="#e2e2e2" />
<rect x="245" y="56.6" width="100.8" height="7.3" fill="#444" opacity="0.38"/>
<rect x="287" y="15.2" width="22" height="88.5" fill="#000" opacity="0.05"/>
<text x="247.8" y="22.52" font-size="5.6" fill="#111" textLength="27" lengthAdjust="spacingAndGlyphs" stroke="#111" stroke-width="0.22">CuO NWs</text>
<text x="240" y="47.72" font-size="5.6" fill="#111" textLength="19" lengthAdjust="spacingAndGlyphs" stroke="#111" stroke-width="0.22">154 nm</text>
<line x1="259.9" y1="31.6" x2="259.9" y2="38.3" stroke="#0a0a0a" stroke-width="0.7" />
<line x1="259.9" y1="41.3" x2="259.9" y2="45.6" stroke="#0a0a0a" stroke-width="0.7" />
<polygon points="258.8,36.2 261,36.2 259.9,38.4" fill="#111" stroke="none" stroke-width="0.5" />
<polygon points="258.8,43.4 261,43.4 259.9,41.2" fill="#111" stroke="none" stroke-width="0.5" />
<line x1="256.5" y1="38.5" x2="273.1" y2="38.5" stroke="#0a0a0a" stroke-width="0.7" />
<line x1="256.5" y1="41.1" x2="273.1" y2="41.1" stroke="#0a0a0a" stroke-width="0.7" />
<text x="332.2" y="96.82" font-size="5.6" fill="#111" textLength="9.7" lengthAdjust="spacingAndGlyphs" stroke="#111" stroke-width="0.2">1 μm</text>
<rect x="333" y="99" width="10.1" height="1.4" fill="#111" />
<text x="279.2" y="114.4" font-size="6.1" fill="#111" textLength="41.5" lengthAdjust="spacingAndGlyphs" stroke="#111" stroke-width="0.32">After annealing</text>
<text x="369.4" y="14.54" font-size="14" fill="#231815" font-weight="bold">g</text>
<polygon points="378.6,89 388.6,106.5 388.6,112.1 378.6,94.6" fill="#8e9091" stroke="none" stroke-width="0.5" />
<polygon points="388.6,106.5 436.6,96.4 436.6,102 388.6,112.1" fill="#a9abac" stroke="none" stroke-width="0.5" />
<polygon points="378.6,89 426.6,78.5 436.6,96.4 388.6,106.5" fill="#c6c7c8" stroke="none" stroke-width="0.5" />
<polygon points="391,87.3 420,81.5 425,93.9 397.7,102.2" fill="#d4d5d6" stroke="none" stroke-width="0.5" />
<polygon points="391,87.3 420,81.5 416.7,87.3 396.8,91.4" fill="#dcdddd" stroke="none" stroke-width="0.5" />
<polygon points="420,81.5 425,93.9 419.2,97.2 416.7,87.3" fill="#e2e3e3" stroke="none" stroke-width="0.5" />
<polygon points="391,87.3 396.8,91.4 399.3,100.5 397.7,102.2" fill="#b5b6b7" stroke="none" stroke-width="0.5" />
<polygon points="396.8,91.4 416.7,87.3 419.2,97.2 399.3,100.5" fill="#c2c3c4" stroke="none" stroke-width="0.5" />
<polygon points="380,63.2 427.6,52.2 437.9,71.4 388.9,83" fill="#9a6fad" stroke="none" stroke-width="0.5" />
<polygon points="392.96,63.26 417.43,57.58 423.5,69.38 398.59,75.24" fill="#ffffff" stroke="none" stroke-width="0.5" />
<g stroke="#9a6fad" stroke-width="2.6" stroke-linecap="butt">
<line x1="392.96" y1="63.26" x2="408.12" y2="66.37"/>
<line x1="417.43" y1="57.58" x2="408.12" y2="66.37"/>
<line x1="423.5" y1="69.38" x2="408.12" y2="66.37"/>
<line x1="398.59" y1="75.24" x2="408.12" y2="66.37"/>
</g>
<polygon points="400.78,63.94 411.81,61.38 415.52,68.76 404.37,71.38" fill="#9a6fad" stroke="none" stroke-width="0.5" />
<g stroke="#f2ab6e" stroke-width="1.9" fill="none" stroke-linecap="round" stroke-linejoin="round">
<path d="M402.5,44.2 C399,43.2 396,42.3 392.2,42.6"/>
<path d="M410.8,42.3 C412,40 413.5,38 417.5,37.2"/>
<path d="M404,49 C402.5,51 400,53.2 396.5,54.8"/>
<path d="M413.5,47 C417,48.3 421,48.6 425.5,47.8"/>
</g>
<polygon points="385.9,42.2 392.5,41.3 393.3,44.4 387.4,45.6" fill="#f2ab6e" stroke="none" stroke-width="0.5" />
<polygon points="415.8,35.8 423.9,34.9 424.6,38.6 420.4,39.9 416.5,39.2" fill="#f2ab6e" stroke="none" stroke-width="0.5" />
<polygon points="392.5,53.9 397.6,53 398.3,56.1 393.2,57.3" fill="#f2ab6e" stroke="none" stroke-width="0.5" />
<polygon points="424.6,45.5 429.7,45.9 430.4,49.2 425.3,50" fill="#f2ab6e" stroke="none" stroke-width="0.5" />
<polygon points="401.6,43.7 411.5,41.9 414,47.3 403.4,49.5" fill="#eea86e" stroke="none" stroke-width="0.5" />
<g stroke="#f6c89a" stroke-width="0.3" opacity="0.9">
<line x1="402" y1="44.4" x2="412" y2="42.6"/>
<line x1="402.3" y1="45.35" x2="412.35" y2="43.52"/>
<line x1="402.6" y1="46.3" x2="412.7" y2="44.44"/>
<line x1="402.9" y1="47.25" x2="413.05" y2="45.36"/>
<line x1="403.2" y1="48.2" x2="413.4" y2="46.28"/>
<line x1="403.5" y1="49.15" x2="413.75" y2="47.2"/>
<line x1="403" y1="43.6" x2="404.6" y2="49.2"/>
<line x1="404.45" y1="43.34" x2="406.05" y2="48.9"/>
<line x1="405.9" y1="43.08" x2="407.5" y2="48.6"/>
<line x1="407.35" y1="42.82" x2="408.95" y2="48.3"/>
<line x1="408.8" y1="42.56" x2="410.4" y2="48"/>
<line x1="410.25" y1="42.3" x2="411.85" y2="47.7"/>
<line x1="411.7" y1="42.04" x2="413.3" y2="47.4"/>
</g>
<polygon points="379.2,20.7 427.9,10.3 437.6,28.8 388.3,39.3" fill="#8292cb" stroke="none" stroke-width="0.5" />
<polygon points="392.49,20.33 417.85,14.91 423.97,26.77 398.4,32.22" fill="#ffffff" stroke="none" stroke-width="0.5" />
<g stroke="#8292cb" stroke-width="2.6" stroke-linecap="butt">
<line x1="392.49" y1="20.33" x2="408.18" y2="23.56"/>
<line x1="417.85" y1="14.91" x2="408.18" y2="23.56"/>
<line x1="423.97" y1="26.77" x2="408.18" y2="23.56"/>
<line x1="398.4" y1="32.22" x2="408.18" y2="23.56"/>
</g>
<polygon points="400.77,21.23 412.01,18.83 415.61,25.88 404.32,28.29" fill="#8292cb" stroke="none" stroke-width="0.5" />
<polygon points="386.88,23.17 390.3,22.44 391.49,24.86 388.07,25.59" fill="#ffffff" stroke="none" stroke-width="0.5" />
<polygon points="421.64,14.93 425.06,14.2 426.31,16.6 422.89,17.33" fill="#ffffff" stroke="none" stroke-width="0.5" />
<polygon points="392.63,32.63 396.07,31.89 397.27,34.31 393.82,35.04" fill="#ffffff" stroke="none" stroke-width="0.5" />
<polygon points="426.45,24.18 429.88,23.45 431.14,25.86 427.7,26.59" fill="#ffffff" stroke="none" stroke-width="0.5" />
<polygon points="407.5,23.29 409.95,22.77 410.7,24.25 408.25,24.77" fill="#a5b2dd" stroke="none" stroke-width="0.5" />
<text x="445.2" y="23.26" font-size="7.1" fill="#6b7fc4" textLength="64.3" lengthAdjust="spacingAndGlyphs">Isolation membrane</text>
<text x="445" y="43.26" font-size="7.1" fill="#f0a25e" textLength="65" lengthAdjust="spacingAndGlyphs">Interdigital electrode</text>
<text x="450" y="51.46" font-size="7.1" fill="#f0a25e" textLength="55.7" lengthAdjust="spacingAndGlyphs">and micro-heater</text>
<text x="442" y="70.16" font-size="7.1" fill="#9a6dae" textLength="72" lengthAdjust="spacingAndGlyphs">Supporting membrane</text>
<text x="446.5" y="94.86" font-size="7.1" fill="#4a4a4a" textLength="62.4" lengthAdjust="spacingAndGlyphs">Silicon micro-cavity</text>
<text x="531.27" y="13.62" font-size="14" fill="#231815" font-weight="bold">h</text>
<defs><linearGradient id="jet" x1="0" y1="1" x2="0" y2="0">
<stop offset="0" stop-color="#1f3f9f"/><stop offset="0.18" stop-color="#1e6fd0"/><stop offset="0.35" stop-color="#29a9e0"/><stop offset="0.5" stop-color="#46b487"/><stop offset="0.62" stop-color="#b9d23a"/><stop offset="0.72" stop-color="#f6e21a"/><stop offset="0.85" stop-color="#f2922b"/><stop offset="1" stop-color="#d5242a"/></linearGradient>
<linearGradient id="beamg" x1="0" y1="0" x2="1" y2="0"><stop offset="0" stop-color="#2f6fd0"/><stop offset="0.35" stop-color="#34b0e0"/><stop offset="0.7" stop-color="#7fd06a"/><stop offset="1" stop-color="#e8e040"/></linearGradient>
<pattern id="sens" width="2" height="2" patternUnits="userSpaceOnUse"><rect width="2" height="2" fill="#d9673a"/><rect width="1" height="1" fill="#e88a4c"/></pattern>
</defs>
<rect x="536.4" y="46.2" width="6.2" height="57.2" fill="url(#jet)" stroke="#555" stroke-width="0.3"/>
<line x1="536.4" y1="46.5" x2="537.4" y2="46.5" stroke="#333" stroke-width="0.3" />
<line x1="542.8" y1="46.5" x2="541.8" y2="46.5" stroke="#333" stroke-width="0.3" />
<line x1="536.4" y1="53.65" x2="537.4" y2="53.65" stroke="#333" stroke-width="0.3" />
<line x1="542.8" y1="53.65" x2="541.8" y2="53.65" stroke="#333" stroke-width="0.3" />
<line x1="536.4" y1="60.8" x2="537.4" y2="60.8" stroke="#333" stroke-width="0.3" />
<line x1="542.8" y1="60.8" x2="541.8" y2="60.8" stroke="#333" stroke-width="0.3" />
<line x1="536.4" y1="67.95" x2="537.4" y2="67.95" stroke="#333" stroke-width="0.3" />
<line x1="542.8" y1="67.95" x2="541.8" y2="67.95" stroke="#333" stroke-width="0.3" />
<line x1="536.4" y1="75.1" x2="537.4" y2="75.1" stroke="#333" stroke-width="0.3" />
<line x1="542.8" y1="75.1" x2="541.8" y2="75.1" stroke="#333" stroke-width="0.3" />
<line x1="536.4" y1="82.25" x2="537.4" y2="82.25" stroke="#333" stroke-width="0.3" />
<line x1="542.8" y1="82.25" x2="541.8" y2="82.25" stroke="#333" stroke-width="0.3" />
<line x1="536.4" y1="89.4" x2="537.4" y2="89.4" stroke="#333" stroke-width="0.3" />
<line x1="542.8" y1="89.4" x2="541.8" y2="89.4" stroke="#333" stroke-width="0.3" />
<line x1="536.4" y1="96.55" x2="537.4" y2="96.55" stroke="#333" stroke-width="0.3" />
<line x1="542.8" y1="96.55" x2="541.8" y2="96.55" stroke="#333" stroke-width="0.3" />
<line x1="536.4" y1="103.7" x2="537.4" y2="103.7" stroke="#333" stroke-width="0.3" />
<line x1="542.8" y1="103.7" x2="541.8" y2="103.7" stroke="#333" stroke-width="0.3" />
<text x="535.2" y="43.72" font-size="7" fill="#231f20">°C</text>
<text x="546.8" y="49.99" font-size="7.2" fill="#231f20">400</text>
<text x="546.8" y="63.49" font-size="7.2" fill="#231f20">300</text>
<text x="546.8" y="76.99" font-size="7.2" fill="#231f20">200</text>
<text x="546.8" y="90.49" font-size="7.2" fill="#231f20">100</text>
<text x="546.8" y="103.99" font-size="7.2" fill="#231f20">0</text>
<polygon points="560.2,36.8 631.8,11.6 678,39.4 678,79.6 603.4,109.2 560.2,76.4" fill="#6b9bcb" stroke="none" stroke-width="0.5" />
<polygon points="560.2,36.8 603.4,65.8 603.4,109.2 560.2,76.4" fill="#6b9bcb" stroke="none" stroke-width="0.5" />
<polygon points="603.4,65.8 678,39.4 678,79.6 603.4,109.2" fill="#6b9bcb" stroke="none" stroke-width="0.5" />
<polygon points="560.2,36.8 631.8,11.6 678,39.4 603.4,65.8" fill="#6a9acb" stroke="none" stroke-width="0.5" />
<line x1="560.2" y1="76.4" x2="631.8" y2="52" stroke="#5a88bd" stroke-width="0.35" />
<line x1="631.8" y1="52" x2="678" y2="79.6" stroke="#5a88bd" stroke-width="0.35" />
<line x1="631.8" y1="11.6" x2="631.8" y2="52" stroke="#5a88bd" stroke-width="0.35" />
<line x1="603.4" y1="65.8" x2="603.4" y2="109.2" stroke="#5d8cc2" stroke-width="0.4" />
<line x1="560.2" y1="36.8" x2="603.4" y2="65.8" stroke="#5d8cc2" stroke-width="0.4" />
<line x1="603.4" y1="65.8" x2="678" y2="39.4" stroke="#5d8cc2" stroke-width="0.4" />
<polygon points="582,35.2 627.5,21 657.5,40 611.5,56" fill="#6e9ecf" stroke="none" stroke-width="0.5" />
<polygon points="582,35.2 611.5,56 615.8,71.6 594.5,55.6 588,47" fill="#3068b5" stroke="none" stroke-width="0.5" />
<polygon points="611.5,56 657.5,40 645.1,55.3 638.5,63 615.8,71.6" fill="#3a72bd" stroke="none" stroke-width="0.5" />
<line x1="611.5" y1="56" x2="615.8" y2="71.6" stroke="#2a5ea8" stroke-width="0.4" />
<polygon points="573.7,37.8 583.2,35.8 588,47 594.4,58.8 589.6,47.7" fill="#3e74bd" stroke="none" stroke-width="0.5" />
<polyline points="582,35.2 627.5,21 657.5,40 611.5,56 582,35.2" fill="none" stroke="#23508f" stroke-width="0.55" stroke-linejoin="round" stroke-linecap="round" />
<polygon points="570.5,39.8 579.5,36.6 587.5,38.2 579,43.2" fill="#3068b3" stroke="none" stroke-width="0.5" />
<polygon points="628,18.4 635.5,16.2 641.8,18.4 634.2,21.6" fill="#3367b3" stroke="none" stroke-width="0.5" />
<polygon points="650.5,34.2 659,31.4 666.5,34 658.2,38.2" fill="#3367b3" stroke="none" stroke-width="0.5" />
<g stroke-linecap="butt">
<line x1="604.5" y1="36.3" x2="601.92" y2="36.19" stroke="#f2e030" stroke-width="3.8"/>
<line x1="601.92" y1="36.19" x2="599.12" y2="36.07" stroke="#b8dc48" stroke-width="3.6"/>
<line x1="599.12" y1="36.07" x2="595.9" y2="35.94" stroke="#62c890" stroke-width="3.4"/>
<line x1="595.9" y1="35.94" x2="591.17" y2="35.74" stroke="#3cbde0" stroke-width="3.2"/>
<line x1="591.17" y1="35.74" x2="587.3" y2="35.58" stroke="#2f90dc" stroke-width="3.0"/>
<line x1="587.3" y1="35.58" x2="583" y2="35.4" stroke="#2a66c8" stroke-width="2.8"/>
<line x1="622.8" y1="30" x2="623.3" y2="29.02" stroke="#f2e030" stroke-width="3.8"/>
<line x1="623.3" y1="29.02" x2="623.85" y2="27.95" stroke="#b8dc48" stroke-width="3.6"/>
<line x1="623.85" y1="27.95" x2="624.48" y2="26.72" stroke="#62c890" stroke-width="3.4"/>
<line x1="624.48" y1="26.72" x2="625.4" y2="24.92" stroke="#3cbde0" stroke-width="3.2"/>
<line x1="625.4" y1="24.92" x2="626.16" y2="23.44" stroke="#2f90dc" stroke-width="3.0"/>
<line x1="626.16" y1="23.44" x2="627" y2="21.8" stroke="#2a66c8" stroke-width="2.8"/>
<line x1="634.2" y1="38.6" x2="636.76" y2="38.82" stroke="#f2e030" stroke-width="3.8"/>
<line x1="636.76" y1="38.82" x2="639.53" y2="39.05" stroke="#b8dc48" stroke-width="3.6"/>
<line x1="639.53" y1="39.05" x2="642.72" y2="39.32" stroke="#62c890" stroke-width="3.4"/>
<line x1="642.72" y1="39.32" x2="647.41" y2="39.72" stroke="#3cbde0" stroke-width="3.2"/>
<line x1="647.41" y1="39.72" x2="651.24" y2="40.04" stroke="#2f90dc" stroke-width="3.0"/>
<line x1="651.24" y1="40.04" x2="655.5" y2="40.4" stroke="#2a66c8" stroke-width="2.8"/>
<line x1="615" y1="44.8" x2="614.66" y2="46.02" stroke="#f2e030" stroke-width="3.8"/>
<line x1="614.66" y1="46.02" x2="614.3" y2="47.35" stroke="#b8dc48" stroke-width="3.6"/>
<line x1="614.3" y1="47.35" x2="613.88" y2="48.88" stroke="#62c890" stroke-width="3.4"/>
<line x1="613.88" y1="48.88" x2="613.26" y2="51.12" stroke="#3cbde0" stroke-width="3.2"/>
<line x1="613.26" y1="51.12" x2="612.76" y2="52.96" stroke="#2f90dc" stroke-width="3.0"/>
<line x1="612.76" y1="52.96" x2="612.2" y2="55" stroke="#2a66c8" stroke-width="2.8"/>
</g>
<polygon points="604,36.3 623.3,29.7 634.7,38.6 614.8,45.2" fill="#c9683c" stroke="none" stroke-width="0.5" />
<g fill="#e08a55" opacity="0.8">
<circle cx="618.78" cy="38.3" r="0.55"/>
<circle cx="626.87" cy="34.34" r="0.55"/>
<circle cx="620.15" cy="38.18" r="0.55"/>
<circle cx="613.09" cy="39.64" r="0.55"/>
<circle cx="624.72" cy="39.2" r="0.55"/>
<circle cx="609.09" cy="38.38" r="0.55"/>
<circle cx="614.49" cy="42.91" r="0.55"/>
<circle cx="617.84" cy="32.1" r="0.55"/>
<circle cx="633.38" cy="38.4" r="0.55"/>
<circle cx="623.27" cy="37.46" r="0.55"/>
<circle cx="607.2" cy="35.39" r="0.55"/>
<circle cx="614.84" cy="33.34" r="0.55"/>
<circle cx="610.28" cy="37.2" r="0.55"/>
<circle cx="609.59" cy="40.23" r="0.55"/>
<circle cx="621.6" cy="40.89" r="0.55"/>
<circle cx="620.93" cy="38.57" r="0.55"/>
<circle cx="620.8" cy="38.9" r="0.55"/>
<circle cx="615.83" cy="35.76" r="0.55"/>
<circle cx="634.01" cy="38.58" r="0.55"/>
<circle cx="627.86" cy="37.05" r="0.55"/>
<circle cx="612.57" cy="36.26" r="0.55"/>
<circle cx="610.34" cy="35.02" r="0.55"/>
<circle cx="623.11" cy="34.81" r="0.55"/>
<circle cx="624.51" cy="34.15" r="0.55"/>
<circle cx="631.64" cy="37.52" r="0.55"/>
<circle cx="606.28" cy="38.16" r="0.55"/>
<circle cx="626.64" cy="34.48" r="0.55"/>
<circle cx="627.21" cy="33.37" r="0.55"/>
<circle cx="612.21" cy="41.42" r="0.55"/>
<circle cx="621.94" cy="33.56" r="0.55"/>
<circle cx="609.27" cy="38.68" r="0.55"/>
<circle cx="630.79" cy="36.68" r="0.55"/>
<circle cx="608.94" cy="37.71" r="0.55"/>
<circle cx="606.6" cy="36.17" r="0.55"/>
<circle cx="621.3" cy="32.62" r="0.55"/>
<circle cx="619.63" cy="36.59" r="0.55"/>
<circle cx="615.58" cy="41.56" r="0.55"/>
<circle cx="613.48" cy="41.16" r="0.55"/>
<circle cx="610.79" cy="39.28" r="0.55"/>
<circle cx="611.02" cy="37.3" r="0.55"/>
<circle cx="631.42" cy="37.04" r="0.55"/>
<circle cx="619.43" cy="42.17" r="0.55"/>
<circle cx="612.32" cy="38.42" r="0.55"/>
<circle cx="627.42" cy="36.37" r="0.55"/>
<circle cx="616.62" cy="44.44" r="0.55"/>
</g>
<polygon points="604,36.3 623.3,29.7 634.7,38.6 614.8,45.2" fill="none" stroke="#ffffff" stroke-width="0.5" stroke-dasharray="0.8,0.6"/>
<text x="557" y="16.12" font-size="7" fill="#1a9a52" textLength="18.5" lengthAdjust="spacingAndGlyphs">Beam</text>
<line x1="576.2" y1="13.9" x2="617.5" y2="24.5" stroke="#1a9a52" stroke-width="0.55" />
<text x="532.6" y="28.62" font-size="7" fill="#e8848e" textLength="42" lengthAdjust="spacingAndGlyphs">Sensing Area</text>
<line x1="575.5" y1="26.6" x2="606.5" y2="34.8" stroke="#e8848e" stroke-width="0.55" />
<text x="658.4" y="20.12" font-size="7" fill="#222">y</text>
<text x="664.6" y="15.12" font-size="7" fill="#222">z</text>
<text x="672.8" y="22.12" font-size="7" fill="#222">x</text>
<line x1="667" y1="20.4" x2="667" y2="15.6" stroke="#2aa8c8" stroke-width="0.7" />
<line x1="667" y1="20.4" x2="663" y2="19.6" stroke="#30b070" stroke-width="0.7" />
<line x1="667" y1="20.4" x2="671.6" y2="19.4" stroke="#e0508a" stroke-width="0.7" />
<text x="646.9" y="99.92" font-size="7" fill="#111" textLength="23.5" lengthAdjust="spacingAndGlyphs">300 μm</text>
<rect x="647" y="103.4" width="25" height="1.8" fill="#111" />
<text x="369.3" y="138.5" font-size="14" fill="#231815" font-weight="bold">i</text>
<polygon points="448,177.51 470.65,180.12 490.12,217.52 448,232.42 426.03,205.88 426.26,180.65" fill="#f6f6f8" stroke="#eaebef" stroke-width="0.3" />
<polygon points="448,180.12 459.32,186.66 459.32,199.74 448,206.27 436.68,199.74 436.68,186.66" fill="none" stroke="#a8a8a8" stroke-width="0.45" />
<polygon points="448,167.05 470.65,180.12 470.65,206.27 448,219.35 425.35,206.27 425.35,180.12" fill="none" stroke="#a8a8a8" stroke-width="0.45" />
<polygon points="448,153.97 481.97,173.59 481.97,212.81 448,232.42 414.03,212.81 414.03,173.59" fill="none" stroke="#a8a8a8" stroke-width="0.45" />
<polygon points="448,140.9 493.29,167.05 493.29,219.35 448,245.5 402.71,219.35 402.71,167.05" fill="none" stroke="#a8a8a8" stroke-width="0.45" />
<line x1="448" y1="193.2" x2="448" y2="140.9" stroke="#404040" stroke-width="0.55" />
<line x1="448" y1="193.2" x2="493.29" y2="167.05" stroke="#404040" stroke-width="0.55" />
<line x1="448" y1="193.2" x2="493.29" y2="219.35" stroke="#404040" stroke-width="0.55" />
<line x1="448" y1="193.2" x2="448" y2="245.5" stroke="#404040" stroke-width="0.55" />
<line x1="448" y1="193.2" x2="402.71" y2="219.35" stroke="#404040" stroke-width="0.55" />
<line x1="448" y1="193.2" x2="402.71" y2="167.05" stroke="#404040" stroke-width="0.55" />
<circle cx="448" cy="177.51" r="1.3" fill="#9aa5da"/>
<circle cx="470.65" cy="180.12" r="1.3" fill="#9aa5da"/>
<circle cx="490.12" cy="217.52" r="1.3" fill="#9aa5da"/>
<circle cx="448" cy="232.42" r="1.3" fill="#9aa5da"/>
<circle cx="426.03" cy="205.88" r="1.3" fill="#9aa5da"/>
<circle cx="426.26" cy="180.65" r="1.3" fill="#9aa5da"/>
<text x="447.6" y="143.89" font-size="7.2" fill="#222" text-anchor="end">20</text>
<text x="447.6" y="156.97" font-size="7.2" fill="#222" text-anchor="end">15</text>
<text x="447.6" y="170.04" font-size="7.2" fill="#222" text-anchor="end">10</text>
<text x="447.6" y="183.12" font-size="7.2" fill="#222" text-anchor="end">5</text>
<text x="447.6" y="196.19" font-size="7.2" fill="#222" text-anchor="end">0</text>
<rect x="471.5" y="140.6" width="49" height="10" fill="#ffffff" stroke="#b0b0b0" stroke-width="0.45"/>
<rect x="472.4" y="141.4" width="13.4" height="8.4" fill="#f0f1f3" />
<text x="487.8" y="147.5" font-size="5" fill="#222" textLength="30.8" lengthAdjust="spacingAndGlyphs">200 ppm H<tspan dy="1" font-size="3.2">2</tspan></text>
<text x="421.3" y="135.16" font-size="7.1" fill="#222" textLength="47" lengthAdjust="spacingAndGlyphs">2.5-3V, 1-0.5s</text>
<text x="497.6" y="164.56" font-size="7.1" fill="#222" textLength="22.4" lengthAdjust="spacingAndGlyphs">3-3.5V,</text>
<text x="496" y="172.46" font-size="7.1" fill="#222" textLength="26.5" lengthAdjust="spacingAndGlyphs">0-5-0.5s</text>
<text x="497.6" y="219.46" font-size="7.1" fill="#7d8fd0" textLength="22.4" lengthAdjust="spacingAndGlyphs">3-3.5V,</text>
<text x="499.5" y="228.06" font-size="7.1" fill="#7d8fd0" textLength="19.3" lengthAdjust="spacingAndGlyphs">1-0.3s</text>
<text x="426.3" y="252.16" font-size="7.1" fill="#222" textLength="44.9" lengthAdjust="spacingAndGlyphs">3-3.5V, 1-0.5s</text>
<text x="375" y="164.56" font-size="7.1" fill="#222" textLength="23.1" lengthAdjust="spacingAndGlyphs">3-3.5V,</text>
<text x="377.5" y="174.26" font-size="7.1" fill="#222" textLength="18.9" lengthAdjust="spacingAndGlyphs">2-0.5s</text>
<text x="375" y="218.06" font-size="7.1" fill="#222" textLength="23.1" lengthAdjust="spacingAndGlyphs">3-3.5V,</text>
<text x="375" y="227.66" font-size="7.1" fill="#222" textLength="25.6" lengthAdjust="spacingAndGlyphs">1.5-0.5s</text>
<text x="531.06" y="138.67" font-size="14" fill="#231815" font-weight="bold">j</text>
<rect x="567" y="138.6" width="5.8" height="101" fill="#eff1f1" />
<rect x="590.1" y="138.6" width="6.2" height="101" fill="#eff1f1" />
<rect x="613.8" y="138.6" width="6.5" height="101" fill="#eff1f1" />
<rect x="635.5" y="138.6" width="6.7" height="101" fill="#eff1f1" />
<rect x="658.3" y="138.6" width="6.7" height="101" fill="#eff1f1" />
<polygon points="555.3,194.38 555.5,193.11 555.7,191.89 555.9,190.72 556.1,189.6 556.3,188.52 556.5,187.48 556.7,186.49 556.9,185.53 557.1,184.61 557.3,183.72 557.5,182.87 557.7,182.06 557.9,181.28 558.1,180.52 558.3,179.8 558.5,179.1 558.7,178.44 558.9,177.79 559.1,177.18 559.3,176.58 559.5,176.02 559.7,175.47 559.9,174.94 560.1,174.44 560.3,173.95 560.5,173.49 560.7,173.04 560.9,172.61 561.1,172.2 561.3,171.8 561.5,171.42 561.7,171.05 561.9,170.7 562.1,170.36 562.3,170.03 562.5,169.72 562.7,169.42 562.9,169.13 563.1,168.86 563.3,168.59 563.5,168.33 563.7,168.09 563.9,167.85 564.1,167.63 564.3,167.41 564.5,167.2 564.7,167 564.9,166.8 565.1,166.62 565.3,166.44 565.5,166.27 565.7,166.1 565.9,165.95 566.1,165.79 566.3,165.65 566.5,165.51 566.7,165.37 566.9,165.24 567.1,164.66 567.3,164.08 567.5,163.51 567.7,167.73 567.9,176.01 568.1,183.39 568.3,189.33 568.5,194.57 568.7,199.2 568.9,203.29 569.1,206.89 569.3,210.08 569.5,212.88 569.7,215.36 569.9,217.55 570.1,219.48 570.3,221.18 570.5,222.68 570.7,224.01 570.9,225.18 571.1,226.21 571.3,227.13 571.5,227.93 571.7,228.64 571.9,229.27 572.1,229.82 572.3,230.31 572.5,230.74 572.7,231.12 572.9,231.45 573.1,231.75 573.3,232.01 573.5,232.24 573.7,232.44 573.9,232.62 574.1,232.78 574.3,232.92 574.5,233.05 574.7,233.15 574.9,233.25 575.1,233.34 575.3,233.41 575.5,233.48 575.7,233.53 575.9,192.66 576.1,191.29 576.3,189.98 576.5,188.71 576.7,187.49 576.9,186.33 577.1,185.2 577.3,184.13 577.5,183.09 577.7,182.09 577.9,181.14 578.1,180.22 578.3,179.34 578.5,178.49 578.7,177.67 578.9,176.89 579.1,176.14 579.3,175.41 579.5,174.72 579.7,174.05 579.9,173.41 580.1,172.79 580.3,172.2 580.5,171.63 580.7,171.09 580.9,170.56 581.1,170.06 581.3,169.57 581.5,169.11 581.7,168.66 581.9,168.23 582.1,167.82 582.3,167.42 582.5,167.04 582.7,166.67 582.9,166.32 583.1,165.98 583.3,165.66 583.5,165.35 583.7,165.05 583.9,164.76 584.1,164.48 584.3,164.22 584.5,163.96 584.7,163.72 584.9,163.48 585.1,163.25 585.3,163.04 585.5,162.83 585.7,162.63 585.9,162.43 586.1,162.25 586.3,162.07 586.5,161.9 586.7,161.73 586.9,161.57 587.1,161.42 587.3,161.28 587.5,161.14 587.7,161 587.9,160.87 588.1,160.75 588.3,160.63 588.5,160.51 588.7,160.4 588.9,159.72 589.1,158.47 589.3,157.23 589.5,155.98 589.7,166.28 589.9,175.56 590.1,183.13 590.3,189.11 590.5,194.38 590.7,199.03 590.9,203.14 591.1,206.76 591.3,209.96 591.5,212.78 591.7,215.27 591.9,217.47 592.1,219.41 592.3,221.12 592.5,222.63 592.7,223.96 592.9,225.14 593.1,226.18 593.3,227.09 593.5,227.9 593.7,228.61 593.9,229.24 594.1,229.8 594.3,230.29 594.5,230.72 594.7,231.1 594.9,231.44 595.1,231.74 595.3,232 595.5,232.23 595.7,232.44 595.9,232.62 596.1,232.78 596.3,232.92 596.5,233.04 596.7,233.15 596.9,233.25 597.1,233.33 597.3,233.41 597.5,233.47 597.7,191.74 597.9,190.51 598.1,189.34 598.3,188.21 598.5,187.12 598.7,186.08 598.9,185.08 599.1,184.12 599.3,183.2 599.5,182.31 599.7,181.45 599.9,180.63 600.1,179.85 600.3,179.09 600.5,178.36 600.7,177.67 600.9,176.99 601.1,176.35 601.3,175.73 601.5,175.14 601.7,174.56 601.9,174.01 602.1,173.49 602.3,172.98 602.5,172.49 602.7,172.02 602.9,171.57 603.1,171.14 603.3,170.73 603.5,170.33 603.7,169.94 603.9,169.58 604.1,169.22 604.3,168.88 604.5,168.56 604.7,168.24 604.9,167.94 605.1,167.65 605.3,167.37 605.5,167.1 605.7,166.85 605.9,166.6 606.1,166.36 606.3,166.14 606.5,165.92 606.7,165.71 606.9,165.5 607.1,165.31 607.3,165.12 607.5,164.94 607.7,164.77 607.9,164.61 608.1,164.45 608.3,164.29 608.5,164.15 608.7,164.01 608.9,163.87 609.1,163.74 609.3,163.62 609.5,163.5 609.7,163.38 609.9,163.27 610.1,163.16 610.3,163.06 610.5,162.96 610.7,162.87 610.9,162.78 611.1,162.69 611.3,162.61 611.5,162.53 611.7,162.45 611.9,162.37 612.1,162.3 612.3,162.23 612.5,159.76 612.7,157.28 612.9,154.81 613.1,159.62 613.3,170.94 613.5,181.33 613.7,187.51 613.9,192.97 614.1,197.79 614.3,202.04 614.5,205.79 614.7,209.1 614.9,212.03 615.1,214.6 615.3,216.88 615.5,218.89 615.7,220.66 615.9,222.23 616.1,223.61 616.3,224.82 616.5,225.9 616.7,226.85 616.9,227.68 617.1,228.42 617.3,229.08 617.5,229.65 617.7,230.16 617.9,230.61 618.1,231 618.3,231.35 618.5,231.66 618.7,231.93 618.9,232.17 619.1,232.38 619.3,232.57 619.5,232.73 619.7,232.88 619.9,233.01 620.1,233.12 620.3,192.36 620.5,191.17 620.7,190.03 620.9,188.93 621.1,187.87 621.3,186.85 621.5,185.88 621.7,184.94 621.9,184.04 622.1,183.17 622.3,182.34 622.5,181.54 622.7,180.78 622.9,180.04 623.1,179.33 623.3,178.65 623.5,178 623.7,177.37 623.9,176.76 624.1,176.18 624.3,175.63 624.5,175.09 624.7,174.58 624.9,174.08 625.1,173.61 625.3,173.15 625.5,172.71 625.7,172.29 625.9,171.89 626.1,171.5 626.3,171.12 626.5,170.76 626.7,170.42 626.9,170.09 627.1,169.77 627.3,169.46 627.5,169.17 627.7,168.89 627.9,168.62 628.1,168.35 628.3,168.1 628.5,167.86 628.7,167.63 628.9,167.41 629.1,167.2 629.3,166.99 629.5,166.79 629.7,166.61 629.9,166.42 630.1,166.25 630.3,166.08 630.5,165.92 630.7,165.76 630.9,165.62 631.1,165.47 631.3,165.34 631.5,165.2 631.7,165.08 631.9,164.95 632.1,164.84 632.3,164.72 632.5,164.62 632.7,164.51 632.9,164.41 633.1,164.32 633.3,164.22 633.5,164.14 633.7,164.05 633.9,163.97 634.1,163.89 634.3,163.82 634.5,163.74 634.7,163.67 634.9,161.88 635.1,158.37 635.3,154.87 635.5,151.36 635.7,164.47 635.9,176.61 636.1,185.48 636.3,191.18 636.5,196.21 636.7,200.65 636.9,204.56 637.1,208.02 637.3,211.07 637.5,213.76 637.7,216.13 637.9,218.23 638.1,220.08 638.3,221.71 638.5,223.15 638.7,224.42 638.9,225.55 639.1,226.54 639.3,227.41 639.5,228.18 639.7,228.86 639.9,229.46 640.1,229.99 640.3,230.46 640.5,230.87 640.7,231.24 640.9,231.56 641.1,231.84 641.3,232.09 641.5,232.31 641.7,232.51 641.9,232.68 642.1,232.83 642.3,232.97 642.5,233.08 642.7,233.19 642.9,191.22 643.1,190.12 643.3,189.06 643.5,188.04 643.7,187.07 643.9,186.13 644.1,185.23 644.3,184.36 644.5,183.53 644.7,182.73 644.9,181.96 645.1,181.22 645.3,180.51 645.5,179.83 645.7,179.18 645.9,178.55 646.1,177.94 646.3,177.36 646.5,176.81 646.7,176.27 646.9,175.75 647.1,175.26 647.3,174.78 647.5,174.33 647.7,173.89 647.9,173.47 648.1,173.06 648.3,172.67 648.5,172.3 648.7,171.94 648.9,171.59 649.1,171.26 649.3,170.94 649.5,170.64 649.7,170.34 649.9,170.06 650.1,169.79 650.3,169.53 650.5,169.28 650.7,169.04 650.9,168.81 651.1,168.58 651.3,168.37 651.5,168.16 651.7,167.97 651.9,167.78 652.1,167.6 652.3,167.42 652.5,167.25 652.7,167.09 652.9,166.94 653.1,166.79 653.3,166.64 653.5,166.51 653.7,166.37 653.9,166.25 654.1,166.13 654.3,166.01 654.5,165.9 654.7,165.79 654.9,165.68 655.1,165.58 655.3,165.49 655.5,165.39 655.7,165.31 655.9,165.22 656.1,165.14 656.3,165.06 656.5,164.99 656.7,164.91 656.9,164.84 657.1,164.78 657.3,164.71 657.5,164.65 657.7,162.64 657.9,158.68 658.1,154.72 658.3,150.76 658.5,164.4 658.7,177.08 658.9,186.17 659.1,191.79 659.3,196.75 659.5,201.12 659.7,204.98 659.9,208.39 660.1,211.39 660.3,214.05 660.5,216.39 660.7,218.45 660.9,220.28 661.1,221.89 661.3,223.31 661.5,224.56 661.7,225.67 661.9,226.64 662.1,227.5 662.3,228.26 662.5,228.93 662.7,229.53 662.9,230.05 663.1,230.51 663.3,230.92 663.5,231.28 663.7,231.59 663.9,231.87 664.1,232.12 664.3,232.34 664.5,232.53 664.7,232.7 664.9,232.85 665.1,232.98 665.3,233.1 665.5,233.2 665.7,233.29 665.9,193.37 666.1,192.25 666.3,191.18 666.5,190.14 666.7,189.15 666.9,188.2 667.1,187.28 667.3,186.4 667.5,185.55 667.7,184.74 667.9,183.96 668.1,183.21 668.3,182.49 668.5,181.8 668.7,181.13 668.9,180.49 669.1,179.88 669.3,179.29 669.5,178.72 669.7,178.18 669.9,177.65 670.1,177.15 670.3,176.67 670.5,176.2 670.7,175.76 670.9,175.33 671.1,174.92 671.3,174.52 671.5,174.14 671.7,173.78 671.9,173.42 672.1,173.09 672.3,172.76 672.5,172.45 672.7,172.15 672.9,171.87 673.1,171.59 673.3,171.33 673.5,171.07 673.7,170.83 673.9,170.59 674.1,170.36 674.3,170.15 674.5,169.94 674.7,169.74 674.9,169.55 675.1,169.36 675.3,169.18 675.5,169.01 675.7,168.85 675.9,168.69 676.1,168.54 676.3,168.39 676.5,168.25 676.7,168.12 676.9,167.99 677.1,167.87 677.3,167.75 677.5,167.63 677.7,167.52 677.9,167.42 678.1,167.32 678.3,167.22 678.5,167.12 678.7,167.03 678.9,166.95 679.1,166.86 679.3,166.78 679.5,166.71 679.7,166.63 679.9,166.56 680.1,166.5 680.3,166.43 680.5,166.37 680.7,166.31 680.9,166.25 681.1,166.19 681.3,166.14 681.3,202.22 681.1,202.23 680.9,202.24 680.7,202.25 680.5,202.27 680.3,202.28 680.1,202.3 679.9,202.31 679.7,202.33 679.5,202.35 679.3,202.37 679.1,202.39 678.9,202.41 678.7,202.44 678.5,202.46 678.3,202.49 678.1,202.52 677.9,202.55 677.7,202.58 677.5,202.61 677.3,202.65 677.1,202.68 676.9,202.72 676.7,202.77 676.5,202.81 676.3,202.86 676.1,202.91 675.9,202.96 675.7,203.02 675.5,203.07 675.3,203.14 675.1,203.2 674.9,203.27 674.7,203.35 674.5,203.43 674.3,203.51 674.1,203.6 673.9,203.69 673.7,203.79 673.5,203.89 673.3,204 673.1,204.12 672.9,204.24 672.7,204.37 672.5,204.51 672.3,204.66 672.1,204.82 671.9,204.98 671.7,205.16 671.5,205.34 671.3,205.54 671.1,205.74 670.9,205.96 670.7,206.2 670.5,206.44 670.3,206.7 670.1,206.98 669.9,207.27 669.7,207.58 669.5,207.91 669.3,208.25 669.1,208.62 668.9,209.01 668.7,209.42 668.5,209.85 668.3,210.32 668.1,210.8 667.9,211.32 667.7,211.87 667.5,212.45 667.3,213.06 667.1,213.71 666.9,214.4 666.7,215.13 666.5,215.9 666.3,216.71 666.1,217.58 665.9,218.5 665.7,235.73 665.5,235.63 665.3,235.52 665.1,235.41 664.9,235.28 664.7,235.13 664.5,234.97 664.3,234.79 664.1,234.59 663.9,234.37 663.7,234.12 663.5,233.85 663.3,233.55 663.1,233.21 662.9,232.84 662.7,232.42 662.5,231.96 662.3,231.44 662.1,230.87 661.9,230.24 661.7,229.53 661.5,228.75 661.3,227.88 661.1,226.92 660.9,225.84 660.7,224.65 660.5,223.32 660.3,221.85 660.1,220.22 659.9,218.4 659.7,216.38 659.5,214.14 659.3,211.65 659.1,208.88 658.9,205.8 658.7,202.39 658.5,198.59 658.3,194.38 658.1,194.67 657.9,194.97 657.7,195.27 657.5,195.43 657.3,195.44 657.1,195.45 656.9,195.47 656.7,195.48 656.5,195.5 656.3,195.52 656.1,195.53 655.9,195.55 655.7,195.57 655.5,195.6 655.3,195.62 655.1,195.64 654.9,195.67 654.7,195.7 654.5,195.73 654.3,195.76 654.1,195.79 653.9,195.82 653.7,195.86 653.5,195.9 653.3,195.94 653.1,195.98 652.9,196.03 652.7,196.08 652.5,196.13 652.3,196.19 652.1,196.24 651.9,196.3 651.7,196.37 651.5,196.44 651.3,196.51 651.1,196.59 650.9,196.67 650.7,196.75 650.5,196.85 650.3,196.94 650.1,197.04 649.9,197.15 649.7,197.27 649.5,197.39 649.3,197.52 649.1,197.65 648.9,197.8 648.7,197.95 648.5,198.11 648.3,198.28 648.1,198.46 647.9,198.66 647.7,198.86 647.5,199.07 647.3,199.3 647.1,199.54 646.9,199.8 646.7,200.07 646.5,200.35 646.3,200.66 646.1,200.98 645.9,201.32 645.7,201.68 645.5,202.06 645.3,202.46 645.1,202.89 644.9,203.34 644.7,203.82 644.5,204.32 644.3,204.86 644.1,205.43 643.9,206.03 643.7,206.66 643.5,207.34 643.3,208.05 643.1,208.81 642.9,209.61 642.7,235.67 642.5,235.57 642.3,235.45 642.1,235.33 641.9,235.19 641.7,235.03 641.5,234.86 641.3,234.67 641.1,234.45 640.9,234.22 640.7,233.96 640.5,233.66 640.3,233.34 640.1,232.98 639.9,232.58 639.7,232.13 639.5,231.64 639.3,231.09 639.1,230.48 638.9,229.8 638.7,229.05 638.5,228.21 638.3,227.28 638.1,226.25 637.9,225.1 637.7,223.83 637.5,222.41 637.3,220.84 637.1,219.09 636.9,217.15 636.7,214.99 636.5,212.6 636.3,209.94 636.1,206.98 635.9,203.69 635.7,200.04 635.5,195.98 635.3,196.28 635.1,196.58 634.9,196.88 634.7,197.03 634.5,197.05 634.3,197.06 634.1,197.08 633.9,197.09 633.7,197.11 633.5,197.12 633.3,197.14 633.1,197.16 632.9,197.18 632.7,197.21 632.5,197.23 632.3,197.25 632.1,197.28 631.9,197.31 631.7,197.34 631.5,197.37 631.3,197.4 631.1,197.43 630.9,197.47 630.7,197.51 630.5,197.55 630.3,197.59 630.1,197.64 629.9,197.69 629.7,197.74 629.5,197.8 629.3,197.85 629.1,197.91 628.9,197.98 628.7,198.05 628.5,198.12 628.3,198.2 628.1,198.28 627.9,198.37 627.7,198.46 627.5,198.55 627.3,198.66 627.1,198.77 626.9,198.88 626.7,199 626.5,199.13 626.3,199.27 626.1,199.41 625.9,199.57 625.7,199.73 625.5,199.9 625.3,200.08 625.1,200.27 624.9,200.48 624.7,200.69 624.5,200.92 624.3,201.16 624.1,201.42 623.9,201.69 623.7,201.98 623.5,202.28 623.3,202.6 623.1,202.94 622.9,203.3 622.7,203.68 622.5,204.09 622.3,204.52 622.1,204.97 621.9,205.45 621.7,205.96 621.5,206.49 621.3,207.06 621.1,207.67 620.9,208.31 620.7,208.98 620.5,209.7 620.3,210.45 620.1,235.65 619.9,235.55 619.7,235.43 619.5,235.3 619.3,235.16 619.1,235 618.9,234.83 618.7,234.63 618.5,234.42 618.3,234.18 618.1,233.91 617.9,233.61 617.7,233.28 617.5,232.92 617.3,232.51 617.1,232.06 616.9,231.55 616.7,230.99 616.5,230.37 616.3,229.68 616.1,228.92 615.9,228.07 615.7,227.12 615.5,226.07 615.3,224.9 615.1,223.61 614.9,222.17 614.7,220.57 614.5,218.79 614.3,216.81 614.1,214.62 613.9,212.18 613.7,209.47 613.5,206.46 613.3,203.11 613.1,199.4 612.9,197.54 612.7,197.83 612.5,198.13 612.3,198.43 612.1,198.44 611.9,198.45 611.7,198.46 611.5,198.48 611.3,198.49 611.1,198.5 610.9,198.52 610.7,198.53 610.5,198.55 610.3,198.57 610.1,198.59 609.9,198.61 609.7,198.63 609.5,198.65 609.3,198.68 609.1,198.7 608.9,198.73 608.7,198.76 608.5,198.79 608.3,198.82 608.1,198.85 607.9,198.89 607.7,198.93 607.5,198.97 607.3,199.01 607.1,199.05 606.9,199.1 606.7,199.15 606.5,199.21 606.3,199.26 606.1,199.32 605.9,199.38 605.7,199.45 605.5,199.52 605.3,199.6 605.1,199.68 604.9,199.76 604.7,199.85 604.5,199.95 604.3,200.05 604.1,200.15 603.9,200.26 603.7,200.38 603.5,200.51 603.3,200.64 603.1,200.78 602.9,200.93 602.7,201.09 602.5,201.26 602.3,201.43 602.1,201.62 601.9,201.82 601.7,202.03 601.5,202.25 601.3,202.49 601.1,202.74 600.9,203 600.7,203.28 600.5,203.58 600.3,203.89 600.1,204.22 599.9,204.57 599.7,204.95 599.5,205.34 599.3,205.76 599.1,206.2 598.9,206.67 598.7,207.16 598.5,207.69 598.3,208.24 598.1,208.83 597.9,209.45 597.7,210.11 597.5,236.03 597.3,235.97 597.1,235.9 596.9,235.83 596.7,235.74 596.5,235.65 596.3,235.55 596.1,235.43 595.9,235.3 595.7,235.16 595.5,235 595.3,234.83 595.1,234.63 594.9,234.42 594.7,234.18 594.5,233.91 594.3,233.61 594.1,233.28 593.9,232.92 593.7,232.51 593.5,232.06 593.3,231.55 593.1,230.99 592.9,230.37 592.7,229.68 592.5,228.92 592.3,228.07 592.1,227.12 591.9,226.07 591.7,224.9 591.5,223.61 591.3,222.17 591.1,220.57 590.9,218.79 590.7,216.81 590.5,214.62 590.3,212.18 590.1,209.47 589.9,206.46 589.7,203.12 589.5,199.4 589.3,199.7 589.1,200 588.9,200.3 588.7,200.46 588.5,200.47 588.3,200.49 588.1,200.51 587.9,200.52 587.7,200.54 587.5,200.56 587.3,200.58 587.1,200.61 586.9,200.63 586.7,200.66 586.5,200.68 586.3,200.71 586.1,200.74 585.9,200.77 585.7,200.81 585.5,200.84 585.3,200.88 585.1,200.92 584.9,200.96 584.7,201.01 584.5,201.05 584.3,201.1 584.1,201.16 583.9,201.21 583.7,201.27 583.5,201.34 583.3,201.4 583.1,201.47 582.9,201.55 582.7,201.63 582.5,201.71 582.3,201.8 582.1,201.9 581.9,202 581.7,202.1 581.5,202.21 581.3,202.33 581.1,202.46 580.9,202.59 580.7,202.73 580.5,202.88 580.3,203.04 580.1,203.2 579.9,203.38 579.7,203.57 579.5,203.76 579.3,203.97 579.1,204.19 578.9,204.43 578.7,204.68 578.5,204.94 578.3,205.22 578.1,205.52 577.9,205.83 577.7,206.16 577.5,206.51 577.3,206.88 577.1,207.27 576.9,207.69 576.7,208.13 576.5,208.6 576.3,209.09 576.1,209.61 575.9,210.17 575.7,236.09 575.5,236.03 575.3,235.97 575.1,235.9 574.9,235.83 574.7,235.74 574.5,235.65 574.3,235.54 574.1,235.43 573.9,235.3 573.7,235.16 573.5,235 573.3,234.82 573.1,234.63 572.9,234.41 572.7,234.17 572.5,233.9 572.3,233.6 572.1,233.27 571.9,232.91 571.7,232.5 571.5,232.04 571.3,231.54 571.1,230.98 570.9,230.36 570.7,229.66 570.5,228.9 570.3,228.04 570.1,227.09 569.9,226.04 569.7,224.87 569.5,223.57 569.3,222.13 569.1,220.52 568.9,218.74 568.7,216.76 568.5,214.56 568.3,212.11 568.1,209.39 567.9,206.38 567.7,203.02 567.5,201.37 567.3,201.68 567.1,202 566.9,202.32 566.7,202.36 566.5,202.4 566.3,202.44 566.1,202.48 565.9,202.53 565.7,202.57 565.5,202.62 565.3,202.68 565.1,202.73 564.9,202.79 564.7,202.86 564.5,202.93 564.3,203 564.1,203.07 563.9,203.15 563.7,203.24 563.5,203.33 563.3,203.42 563.1,203.52 562.9,203.63 562.7,203.74 562.5,203.86 562.3,203.99 562.1,204.12 561.9,204.26 561.7,204.41 561.5,204.57 561.3,204.74 561.1,204.91 560.9,205.1 560.7,205.3 560.5,205.51 560.3,205.74 560.1,205.97 559.9,206.22 559.7,206.49 559.5,206.77 559.3,207.07 559.1,207.38 558.9,207.71 558.7,208.07 558.5,208.44 558.3,208.84 558.1,209.25 557.9,209.7 557.7,210.17 557.5,210.66 557.3,211.19 557.1,211.75 556.9,212.34 556.7,212.96 556.5,213.62 556.3,214.32 556.1,215.07 555.9,215.85 555.7,216.68 555.5,217.56 555.3,218.5" fill="#aeb7d7" stroke="none" stroke-width="0.5" />
<g stroke="#a0aad0" stroke-width="0.25">
<line x1="555.3" y1="194.38" x2="555.3" y2="218.5"/>
<line x1="556.3" y1="188.52" x2="556.3" y2="214.32"/>
<line x1="557.3" y1="183.72" x2="557.3" y2="211.19"/>
<line x1="558.3" y1="179.8" x2="558.3" y2="208.84"/>
<line x1="559.3" y1="176.58" x2="559.3" y2="207.07"/>
<line x1="560.3" y1="173.95" x2="560.3" y2="205.74"/>
<line x1="561.3" y1="171.8" x2="561.3" y2="204.74"/>
<line x1="562.3" y1="170.03" x2="562.3" y2="203.99"/>
<line x1="563.3" y1="168.59" x2="563.3" y2="203.42"/>
<line x1="564.3" y1="167.41" x2="564.3" y2="203"/>
<line x1="565.3" y1="166.44" x2="565.3" y2="202.68"/>
<line x1="566.3" y1="165.65" x2="566.3" y2="202.44"/>
<line x1="567.3" y1="164.08" x2="567.3" y2="201.68"/>
<line x1="568.3" y1="189.33" x2="568.3" y2="212.11"/>
<line x1="569.3" y1="210.08" x2="569.3" y2="222.13"/>
<line x1="570.3" y1="221.18" x2="570.3" y2="228.04"/>
<line x1="571.3" y1="227.13" x2="571.3" y2="231.54"/>
<line x1="572.3" y1="230.31" x2="572.3" y2="233.6"/>
<line x1="573.3" y1="232.01" x2="573.3" y2="234.82"/>
<line x1="574.3" y1="232.92" x2="574.3" y2="235.54"/>
<line x1="575.3" y1="233.41" x2="575.3" y2="235.97"/>
<line x1="576.3" y1="189.98" x2="576.3" y2="209.09"/>
<line x1="577.3" y1="184.13" x2="577.3" y2="206.88"/>
<line x1="578.3" y1="179.34" x2="578.3" y2="205.22"/>
<line x1="579.3" y1="175.41" x2="579.3" y2="203.97"/>
<line x1="580.3" y1="172.2" x2="580.3" y2="203.04"/>
<line x1="581.3" y1="169.57" x2="581.3" y2="202.33"/>
<line x1="582.3" y1="167.42" x2="582.3" y2="201.8"/>
<line x1="583.3" y1="165.66" x2="583.3" y2="201.4"/>
<line x1="584.3" y1="164.22" x2="584.3" y2="201.1"/>
<line x1="585.3" y1="163.04" x2="585.3" y2="200.88"/>
<line x1="586.3" y1="162.07" x2="586.3" y2="200.71"/>
<line x1="587.3" y1="161.28" x2="587.3" y2="200.58"/>
<line x1="588.3" y1="160.63" x2="588.3" y2="200.49"/>
<line x1="589.3" y1="157.23" x2="589.3" y2="199.7"/>
<line x1="590.3" y1="189.11" x2="590.3" y2="212.18"/>
<line x1="591.3" y1="209.96" x2="591.3" y2="222.17"/>
<line x1="592.3" y1="221.12" x2="592.3" y2="228.07"/>
<line x1="593.3" y1="227.09" x2="593.3" y2="231.55"/>
<line x1="594.3" y1="230.29" x2="594.3" y2="233.61"/>
<line x1="595.3" y1="232" x2="595.3" y2="234.83"/>
<line x1="596.3" y1="232.92" x2="596.3" y2="235.55"/>
<line x1="597.3" y1="233.41" x2="597.3" y2="235.97"/>
<line x1="598.3" y1="188.21" x2="598.3" y2="208.24"/>
<line x1="599.3" y1="183.2" x2="599.3" y2="205.76"/>
<line x1="600.3" y1="179.09" x2="600.3" y2="203.89"/>
<line x1="601.3" y1="175.73" x2="601.3" y2="202.49"/>
<line x1="602.3" y1="172.98" x2="602.3" y2="201.43"/>
<line x1="603.3" y1="170.73" x2="603.3" y2="200.64"/>
<line x1="604.3" y1="168.88" x2="604.3" y2="200.05"/>
<line x1="605.3" y1="167.37" x2="605.3" y2="199.6"/>
<line x1="606.3" y1="166.14" x2="606.3" y2="199.26"/>
<line x1="607.3" y1="165.12" x2="607.3" y2="199.01"/>
<line x1="608.3" y1="164.29" x2="608.3" y2="198.82"/>
<line x1="609.3" y1="163.62" x2="609.3" y2="198.68"/>
<line x1="610.3" y1="163.06" x2="610.3" y2="198.57"/>
<line x1="611.3" y1="162.61" x2="611.3" y2="198.49"/>
<line x1="612.3" y1="162.23" x2="612.3" y2="198.43"/>
<line x1="613.3" y1="170.94" x2="613.3" y2="203.11"/>
<line x1="614.3" y1="202.04" x2="614.3" y2="216.81"/>
<line x1="615.3" y1="216.88" x2="615.3" y2="224.9"/>
<line x1="616.3" y1="224.82" x2="616.3" y2="229.68"/>
<line x1="617.3" y1="229.08" x2="617.3" y2="232.51"/>
<line x1="618.3" y1="231.35" x2="618.3" y2="234.18"/>
<line x1="619.3" y1="232.57" x2="619.3" y2="235.16"/>
<line x1="620.3" y1="192.36" x2="620.3" y2="210.45"/>
<line x1="621.3" y1="186.85" x2="621.3" y2="207.06"/>
<line x1="622.3" y1="182.34" x2="622.3" y2="204.52"/>
<line x1="623.3" y1="178.65" x2="623.3" y2="202.6"/>
<line x1="624.3" y1="175.63" x2="624.3" y2="201.16"/>
<line x1="625.3" y1="173.15" x2="625.3" y2="200.08"/>
<line x1="626.3" y1="171.12" x2="626.3" y2="199.27"/>
<line x1="627.3" y1="169.46" x2="627.3" y2="198.66"/>
<line x1="628.3" y1="168.1" x2="628.3" y2="198.2"/>
<line x1="629.3" y1="166.99" x2="629.3" y2="197.85"/>
<line x1="630.3" y1="166.08" x2="630.3" y2="197.59"/>
<line x1="631.3" y1="165.34" x2="631.3" y2="197.4"/>
<line x1="632.3" y1="164.72" x2="632.3" y2="197.25"/>
<line x1="633.3" y1="164.22" x2="633.3" y2="197.14"/>
<line x1="634.3" y1="163.82" x2="634.3" y2="197.06"/>
<line x1="635.3" y1="154.87" x2="635.3" y2="196.28"/>
<line x1="636.3" y1="191.18" x2="636.3" y2="209.94"/>
<line x1="637.3" y1="211.07" x2="637.3" y2="220.84"/>
<line x1="638.3" y1="221.71" x2="638.3" y2="227.28"/>
<line x1="639.3" y1="227.41" x2="639.3" y2="231.09"/>
<line x1="640.3" y1="230.46" x2="640.3" y2="233.34"/>
<line x1="641.3" y1="232.09" x2="641.3" y2="234.67"/>
<line x1="642.3" y1="232.97" x2="642.3" y2="235.45"/>
<line x1="643.3" y1="189.06" x2="643.3" y2="208.05"/>
<line x1="644.3" y1="184.36" x2="644.3" y2="204.86"/>
<line x1="645.3" y1="180.51" x2="645.3" y2="202.46"/>
<line x1="646.3" y1="177.36" x2="646.3" y2="200.66"/>
<line x1="647.3" y1="174.78" x2="647.3" y2="199.3"/>
<line x1="648.3" y1="172.67" x2="648.3" y2="198.28"/>
<line x1="649.3" y1="170.94" x2="649.3" y2="197.52"/>
<line x1="650.3" y1="169.53" x2="650.3" y2="196.94"/>
<line x1="651.3" y1="168.37" x2="651.3" y2="196.51"/>
<line x1="652.3" y1="167.42" x2="652.3" y2="196.19"/>
<line x1="653.3" y1="166.64" x2="653.3" y2="195.94"/>
<line x1="654.3" y1="166.01" x2="654.3" y2="195.76"/>
<line x1="655.3" y1="165.49" x2="655.3" y2="195.62"/>
<line x1="656.3" y1="165.06" x2="656.3" y2="195.52"/>
<line x1="657.3" y1="164.71" x2="657.3" y2="195.44"/>
<line x1="658.3" y1="150.76" x2="658.3" y2="194.38"/>
<line x1="659.3" y1="196.75" x2="659.3" y2="211.65"/>
<line x1="660.3" y1="214.05" x2="660.3" y2="221.85"/>
<line x1="661.3" y1="223.31" x2="661.3" y2="227.88"/>
<line x1="662.3" y1="228.26" x2="662.3" y2="231.44"/>
<line x1="663.3" y1="230.92" x2="663.3" y2="233.55"/>
<line x1="664.3" y1="232.34" x2="664.3" y2="234.79"/>
<line x1="665.3" y1="233.1" x2="665.3" y2="235.52"/>
<line x1="666.3" y1="191.18" x2="666.3" y2="216.71"/>
<line x1="667.3" y1="186.4" x2="667.3" y2="213.06"/>
<line x1="668.3" y1="182.49" x2="668.3" y2="210.32"/>
<line x1="669.3" y1="179.29" x2="669.3" y2="208.25"/>
<line x1="670.3" y1="176.67" x2="670.3" y2="206.7"/>
<line x1="671.3" y1="174.52" x2="671.3" y2="205.54"/>
<line x1="672.3" y1="172.76" x2="672.3" y2="204.66"/>
<line x1="673.3" y1="171.33" x2="673.3" y2="204"/>
<line x1="674.3" y1="170.15" x2="674.3" y2="203.51"/>
<line x1="675.3" y1="169.18" x2="675.3" y2="203.14"/>
<line x1="676.3" y1="168.39" x2="676.3" y2="202.86"/>
<line x1="677.3" y1="167.75" x2="677.3" y2="202.65"/>
<line x1="678.3" y1="167.22" x2="678.3" y2="202.49"/>
<line x1="679.3" y1="166.78" x2="679.3" y2="202.37"/>
<line x1="680.3" y1="166.43" x2="680.3" y2="202.28"/>
<line x1="681.3" y1="166.14" x2="681.3" y2="202.22"/>
</g>
<polyline points="555.3,194.38 555.5,193.11 555.7,191.89 555.9,190.72 556.1,189.6 556.3,188.52 556.5,187.48 556.7,186.49 556.9,185.53 557.1,184.61 557.3,183.72 557.5,182.87 557.7,182.06 557.9,181.28 558.1,180.52 558.3,179.8 558.5,179.1 558.7,178.44 558.9,177.79 559.1,177.18 559.3,176.58 559.5,176.02 559.7,175.47 559.9,174.94 560.1,174.44 560.3,173.95 560.5,173.49 560.7,173.04 560.9,172.61 561.1,172.2 561.3,171.8 561.5,171.42 561.7,171.05 561.9,170.7 562.1,170.36 562.3,170.03 562.5,169.72 562.7,169.42 562.9,169.13 563.1,168.86 563.3,168.59 563.5,168.33 563.7,168.09 563.9,167.85 564.1,167.63 564.3,167.41 564.5,167.2 564.7,167 564.9,166.8 565.1,166.62 565.3,166.44 565.5,166.27 565.7,166.1 565.9,165.95 566.1,165.79 566.3,165.65 566.5,165.51 566.7,165.37 566.9,165.24 567.1,164.66 567.3,164.08 567.5,163.51 567.7,167.73 567.9,176.01 568.1,183.39 568.3,189.33 568.5,194.57 568.7,199.2 568.9,203.29 569.1,206.89 569.3,210.08 569.5,212.88 569.7,215.36 569.9,217.55 570.1,219.48 570.3,221.18 570.5,222.68 570.7,224.01 570.9,225.18 571.1,226.21 571.3,227.13 571.5,227.93 571.7,228.64 571.9,229.27 572.1,229.82 572.3,230.31 572.5,230.74 572.7,231.12 572.9,231.45 573.1,231.75 573.3,232.01 573.5,232.24 573.7,232.44 573.9,232.62 574.1,232.78 574.3,232.92 574.5,233.05 574.7,233.15 574.9,233.25 575.1,233.34 575.3,233.41 575.5,233.48 575.7,233.53 575.9,192.66 576.1,191.29 576.3,189.98 576.5,188.71 576.7,187.49 576.9,186.33 577.1,185.2 577.3,184.13 577.5,183.09 577.7,182.09 577.9,181.14 578.1,180.22 578.3,179.34 578.5,178.49 578.7,177.67 578.9,176.89 579.1,176.14 579.3,175.41 579.5,174.72 579.7,174.05 579.9,173.41 580.1,172.79 580.3,172.2 580.5,171.63 580.7,171.09 580.9,170.56 581.1,170.06 581.3,169.57 581.5,169.11 581.7,168.66 581.9,168.23 582.1,167.82 582.3,167.42 582.5,167.04 582.7,166.67 582.9,166.32 583.1,165.98 583.3,165.66 583.5,165.35 583.7,165.05 583.9,164.76 584.1,164.48 584.3,164.22 584.5,163.96 584.7,163.72 584.9,163.48 585.1,163.25 585.3,163.04 585.5,162.83 585.7,162.63 585.9,162.43 586.1,162.25 586.3,162.07 586.5,161.9 586.7,161.73 586.9,161.57 587.1,161.42 587.3,161.28 587.5,161.14 587.7,161 587.9,160.87 588.1,160.75 588.3,160.63 588.5,160.51 588.7,160.4 588.9,159.72 589.1,158.47 589.3,157.23 589.5,155.98 589.7,166.28 589.9,175.56 590.1,183.13 590.3,189.11 590.5,194.38 590.7,199.03 590.9,203.14 591.1,206.76 591.3,209.96 591.5,212.78 591.7,215.27 591.9,217.47 592.1,219.41 592.3,221.12 592.5,222.63 592.7,223.96 592.9,225.14 593.1,226.18 593.3,227.09 593.5,227.9 593.7,228.61 593.9,229.24 594.1,229.8 594.3,230.29 594.5,230.72 594.7,231.1 594.9,231.44 595.1,231.74 595.3,232 595.5,232.23 595.7,232.44 595.9,232.62 596.1,232.78 596.3,232.92 596.5,233.04 596.7,233.15 596.9,233.25 597.1,233.33 597.3,233.41 597.5,233.47 597.7,191.74 597.9,190.51 598.1,189.34 598.3,188.21 598.5,187.12 598.7,186.08 598.9,185.08 599.1,184.12 599.3,183.2 599.5,182.31 599.7,181.45 599.9,180.63 600.1,179.85 600.3,179.09 600.5,178.36 600.7,177.67 600.9,176.99 601.1,176.35 601.3,175.73 601.5,175.14 601.7,174.56 601.9,174.01 602.1,173.49 602.3,172.98 602.5,172.49 602.7,172.02 602.9,171.57 603.1,171.14 603.3,170.73 603.5,170.33 603.7,169.94 603.9,169.58 604.1,169.22 604.3,168.88 604.5,168.56 604.7,168.24 604.9,167.94 605.1,167.65 605.3,167.37 605.5,167.1 605.7,166.85 605.9,166.6 606.1,166.36 606.3,166.14 606.5,165.92 606.7,165.71 606.9,165.5 607.1,165.31 607.3,165.12 607.5,164.94 607.7,164.77 607.9,164.61 608.1,164.45 608.3,164.29 608.5,164.15 608.7,164.01 608.9,163.87 609.1,163.74 609.3,163.62 609.5,163.5 609.7,163.38 609.9,163.27 610.1,163.16 610.3,163.06 610.5,162.96 610.7,162.87 610.9,162.78 611.1,162.69 611.3,162.61 611.5,162.53 611.7,162.45 611.9,162.37 612.1,162.3 612.3,162.23 612.5,159.76 612.7,157.28 612.9,154.81 613.1,159.62 613.3,170.94 613.5,181.33 613.7,187.51 613.9,192.97 614.1,197.79 614.3,202.04 614.5,205.79 614.7,209.1 614.9,212.03 615.1,214.6 615.3,216.88 615.5,218.89 615.7,220.66 615.9,222.23 616.1,223.61 616.3,224.82 616.5,225.9 616.7,226.85 616.9,227.68 617.1,228.42 617.3,229.08 617.5,229.65 617.7,230.16 617.9,230.61 618.1,231 618.3,231.35 618.5,231.66 618.7,231.93 618.9,232.17 619.1,232.38 619.3,232.57 619.5,232.73 619.7,232.88 619.9,233.01 620.1,233.12 620.3,192.36 620.5,191.17 620.7,190.03 620.9,188.93 621.1,187.87 621.3,186.85 621.5,185.88 621.7,184.94 621.9,184.04 622.1,183.17 622.3,182.34 622.5,181.54 622.7,180.78 622.9,180.04 623.1,179.33 623.3,178.65 623.5,178 623.7,177.37 623.9,176.76 624.1,176.18 624.3,175.63 624.5,175.09 624.7,174.58 624.9,174.08 625.1,173.61 625.3,173.15 625.5,172.71 625.7,172.29 625.9,171.89 626.1,171.5 626.3,171.12 626.5,170.76 626.7,170.42 626.9,170.09 627.1,169.77 627.3,169.46 627.5,169.17 627.7,168.89 627.9,168.62 628.1,168.35 628.3,168.1 628.5,167.86 628.7,167.63 628.9,167.41 629.1,167.2 629.3,166.99 629.5,166.79 629.7,166.61 629.9,166.42 630.1,166.25 630.3,166.08 630.5,165.92 630.7,165.76 630.9,165.62 631.1,165.47 631.3,165.34 631.5,165.2 631.7,165.08 631.9,164.95 632.1,164.84 632.3,164.72 632.5,164.62 632.7,164.51 632.9,164.41 633.1,164.32 633.3,164.22 633.5,164.14 633.7,164.05 633.9,163.97 634.1,163.89 634.3,163.82 634.5,163.74 634.7,163.67 634.9,161.88 635.1,158.37 635.3,154.87 635.5,151.36 635.7,164.47 635.9,176.61 636.1,185.48 636.3,191.18 636.5,196.21 636.7,200.65 636.9,204.56 637.1,208.02 637.3,211.07 637.5,213.76 637.7,216.13 637.9,218.23 638.1,220.08 638.3,221.71 638.5,223.15 638.7,224.42 638.9,225.55 639.1,226.54 639.3,227.41 639.5,228.18 639.7,228.86 639.9,229.46 640.1,229.99 640.3,230.46 640.5,230.87 640.7,231.24 640.9,231.56 641.1,231.84 641.3,232.09 641.5,232.31 641.7,232.51 641.9,232.68 642.1,232.83 642.3,232.97 642.5,233.08 642.7,233.19 642.9,191.22 643.1,190.12 643.3,189.06 643.5,188.04 643.7,187.07 643.9,186.13 644.1,185.23 644.3,184.36 644.5,183.53 644.7,182.73 644.9,181.96 645.1,181.22 645.3,180.51 645.5,179.83 645.7,179.18 645.9,178.55 646.1,177.94 646.3,177.36 646.5,176.81 646.7,176.27 646.9,175.75 647.1,175.26 647.3,174.78 647.5,174.33 647.7,173.89 647.9,173.47 648.1,173.06 648.3,172.67 648.5,172.3 648.7,171.94 648.9,171.59 649.1,171.26 649.3,170.94 649.5,170.64 649.7,170.34 649.9,170.06 650.1,169.79 650.3,169.53 650.5,169.28 650.7,169.04 650.9,168.81 651.1,168.58 651.3,168.37 651.5,168.16 651.7,167.97 651.9,167.78 652.1,167.6 652.3,167.42 652.5,167.25 652.7,167.09 652.9,166.94 653.1,166.79 653.3,166.64 653.5,166.51 653.7,166.37 653.9,166.25 654.1,166.13 654.3,166.01 654.5,165.9 654.7,165.79 654.9,165.68 655.1,165.58 655.3,165.49 655.5,165.39 655.7,165.31 655.9,165.22 656.1,165.14 656.3,165.06 656.5,164.99 656.7,164.91 656.9,164.84 657.1,164.78 657.3,164.71 657.5,164.65 657.7,162.64 657.9,158.68 658.1,154.72 658.3,150.76 658.5,164.4 658.7,177.08 658.9,186.17 659.1,191.79 659.3,196.75 659.5,201.12 659.7,204.98 659.9,208.39 660.1,211.39 660.3,214.05 660.5,216.39 660.7,218.45 660.9,220.28 661.1,221.89 661.3,223.31 661.5,224.56 661.7,225.67 661.9,226.64 662.1,227.5 662.3,228.26 662.5,228.93 662.7,229.53 662.9,230.05 663.1,230.51 663.3,230.92 663.5,231.28 663.7,231.59 663.9,231.87 664.1,232.12 664.3,232.34 664.5,232.53 664.7,232.7 664.9,232.85 665.1,232.98 665.3,233.1 665.5,233.2 665.7,233.29 665.9,193.37 666.1,192.25 666.3,191.18 666.5,190.14 666.7,189.15 666.9,188.2 667.1,187.28 667.3,186.4 667.5,185.55 667.7,184.74 667.9,183.96 668.1,183.21 668.3,182.49 668.5,181.8 668.7,181.13 668.9,180.49 669.1,179.88 669.3,179.29 669.5,178.72 669.7,178.18 669.9,177.65 670.1,177.15 670.3,176.67 670.5,176.2 670.7,175.76 670.9,175.33 671.1,174.92 671.3,174.52 671.5,174.14 671.7,173.78 671.9,173.42 672.1,173.09 672.3,172.76 672.5,172.45 672.7,172.15 672.9,171.87 673.1,171.59 673.3,171.33 673.5,171.07 673.7,170.83 673.9,170.59 674.1,170.36 674.3,170.15 674.5,169.94 674.7,169.74 674.9,169.55 675.1,169.36 675.3,169.18 675.5,169.01 675.7,168.85 675.9,168.69 676.1,168.54 676.3,168.39 676.5,168.25 676.7,168.12 676.9,167.99 677.1,167.87 677.3,167.75 677.5,167.63 677.7,167.52 677.9,167.42 678.1,167.32 678.3,167.22 678.5,167.12 678.7,167.03 678.9,166.95 679.1,166.86 679.3,166.78 679.5,166.71 679.7,166.63 679.9,166.56 680.1,166.5 680.3,166.43 680.5,166.37 680.7,166.31 680.9,166.25 681.1,166.19 681.3,166.14" fill="none" stroke="#ea7f68" stroke-width="0.7" stroke-linejoin="round" stroke-linecap="round" />
<polyline points="555.3,218.5 555.5,217.56 555.7,216.68 555.9,215.85 556.1,215.07 556.3,214.32 556.5,213.62 556.7,212.96 556.9,212.34 557.1,211.75 557.3,211.19 557.5,210.66 557.7,210.17 557.9,209.7 558.1,209.25 558.3,208.84 558.5,208.44 558.7,208.07 558.9,207.71 559.1,207.38 559.3,207.07 559.5,206.77 559.7,206.49 559.9,206.22 560.1,205.97 560.3,205.74 560.5,205.51 560.7,205.3 560.9,205.1 561.1,204.91 561.3,204.74 561.5,204.57 561.7,204.41 561.9,204.26 562.1,204.12 562.3,203.99 562.5,203.86 562.7,203.74 562.9,203.63 563.1,203.52 563.3,203.42 563.5,203.33 563.7,203.24 563.9,203.15 564.1,203.07 564.3,203 564.5,202.93 564.7,202.86 564.9,202.79 565.1,202.73 565.3,202.68 565.5,202.62 565.7,202.57 565.9,202.53 566.1,202.48 566.3,202.44 566.5,202.4 566.7,202.36 566.9,202.32 567.1,202 567.3,201.68 567.5,201.37 567.7,203.02 567.9,206.38 568.1,209.39 568.3,212.11 568.5,214.56 568.7,216.76 568.9,218.74 569.1,220.52 569.3,222.13 569.5,223.57 569.7,224.87 569.9,226.04 570.1,227.09 570.3,228.04 570.5,228.9 570.7,229.66 570.9,230.36 571.1,230.98 571.3,231.54 571.5,232.04 571.7,232.5 571.9,232.91 572.1,233.27 572.3,233.6 572.5,233.9 572.7,234.17 572.9,234.41 573.1,234.63 573.3,234.82 573.5,235 573.7,235.16 573.9,235.3 574.1,235.43 574.3,235.54 574.5,235.65 574.7,235.74 574.9,235.83 575.1,235.9 575.3,235.97 575.5,236.03 575.7,236.09 575.9,210.17 576.1,209.61 576.3,209.09 576.5,208.6 576.7,208.13 576.9,207.69 577.1,207.27 577.3,206.88 577.5,206.51 577.7,206.16 577.9,205.83 578.1,205.52 578.3,205.22 578.5,204.94 578.7,204.68 578.9,204.43 579.1,204.19 579.3,203.97 579.5,203.76 579.7,203.57 579.9,203.38 580.1,203.2 580.3,203.04 580.5,202.88 580.7,202.73 580.9,202.59 581.1,202.46 581.3,202.33 581.5,202.21 581.7,202.1 581.9,202 582.1,201.9 582.3,201.8 582.5,201.71 582.7,201.63 582.9,201.55 583.1,201.47 583.3,201.4 583.5,201.34 583.7,201.27 583.9,201.21 584.1,201.16 584.3,201.1 584.5,201.05 584.7,201.01 584.9,200.96 585.1,200.92 585.3,200.88 585.5,200.84 585.7,200.81 585.9,200.77 586.1,200.74 586.3,200.71 586.5,200.68 586.7,200.66 586.9,200.63 587.1,200.61 587.3,200.58 587.5,200.56 587.7,200.54 587.9,200.52 588.1,200.51 588.3,200.49 588.5,200.47 588.7,200.46 588.9,200.3 589.1,200 589.3,199.7 589.5,199.4 589.7,203.12 589.9,206.46 590.1,209.47 590.3,212.18 590.5,214.62 590.7,216.81 590.9,218.79 591.1,220.57 591.3,222.17 591.5,223.61 591.7,224.9 591.9,226.07 592.1,227.12 592.3,228.07 592.5,228.92 592.7,229.68 592.9,230.37 593.1,230.99 593.3,231.55 593.5,232.06 593.7,232.51 593.9,232.92 594.1,233.28 594.3,233.61 594.5,233.91 594.7,234.18 594.9,234.42 595.1,234.63 595.3,234.83 595.5,235 595.7,235.16 595.9,235.3 596.1,235.43 596.3,235.55 596.5,235.65 596.7,235.74 596.9,235.83 597.1,235.9 597.3,235.97 597.5,236.03 597.7,210.11 597.9,209.45 598.1,208.83 598.3,208.24 598.5,207.69 598.7,207.16 598.9,206.67 599.1,206.2 599.3,205.76 599.5,205.34 599.7,204.95 599.9,204.57 600.1,204.22 600.3,203.89 600.5,203.58 600.7,203.28 600.9,203 601.1,202.74 601.3,202.49 601.5,202.25 601.7,202.03 601.9,201.82 602.1,201.62 602.3,201.43 602.5,201.26 602.7,201.09 602.9,200.93 603.1,200.78 603.3,200.64 603.5,200.51 603.7,200.38 603.9,200.26 604.1,200.15 604.3,200.05 604.5,199.95 604.7,199.85 604.9,199.76 605.1,199.68 605.3,199.6 605.5,199.52 605.7,199.45 605.9,199.38 606.1,199.32 606.3,199.26 606.5,199.21 606.7,199.15 606.9,199.1 607.1,199.05 607.3,199.01 607.5,198.97 607.7,198.93 607.9,198.89 608.1,198.85 608.3,198.82 608.5,198.79 608.7,198.76 608.9,198.73 609.1,198.7 609.3,198.68 609.5,198.65 609.7,198.63 609.9,198.61 610.1,198.59 610.3,198.57 610.5,198.55 610.7,198.53 610.9,198.52 611.1,198.5 611.3,198.49 611.5,198.48 611.7,198.46 611.9,198.45 612.1,198.44 612.3,198.43 612.5,198.13 612.7,197.83 612.9,197.54 613.1,199.4 613.3,203.11 613.5,206.46 613.7,209.47 613.9,212.18 614.1,214.62 614.3,216.81 614.5,218.79 614.7,220.57 614.9,222.17 615.1,223.61 615.3,224.9 615.5,226.07 615.7,227.12 615.9,228.07 616.1,228.92 616.3,229.68 616.5,230.37 616.7,230.99 616.9,231.55 617.1,232.06 617.3,232.51 617.5,232.92 617.7,233.28 617.9,233.61 618.1,233.91 618.3,234.18 618.5,234.42 618.7,234.63 618.9,234.83 619.1,235 619.3,235.16 619.5,235.3 619.7,235.43 619.9,235.55 620.1,235.65 620.3,210.45 620.5,209.7 620.7,208.98 620.9,208.31 621.1,207.67 621.3,207.06 621.5,206.49 621.7,205.96 621.9,205.45 622.1,204.97 622.3,204.52 622.5,204.09 622.7,203.68 622.9,203.3 623.1,202.94 623.3,202.6 623.5,202.28 623.7,201.98 623.9,201.69 624.1,201.42 624.3,201.16 624.5,200.92 624.7,200.69 624.9,200.48 625.1,200.27 625.3,200.08 625.5,199.9 625.7,199.73 625.9,199.57 626.1,199.41 626.3,199.27 626.5,199.13 626.7,199 626.9,198.88 627.1,198.77 627.3,198.66 627.5,198.55 627.7,198.46 627.9,198.37 628.1,198.28 628.3,198.2 628.5,198.12 628.7,198.05 628.9,197.98 629.1,197.91 629.3,197.85 629.5,197.8 629.7,197.74 629.9,197.69 630.1,197.64 630.3,197.59 630.5,197.55 630.7,197.51 630.9,197.47 631.1,197.43 631.3,197.4 631.5,197.37 631.7,197.34 631.9,197.31 632.1,197.28 632.3,197.25 632.5,197.23 632.7,197.21 632.9,197.18 633.1,197.16 633.3,197.14 633.5,197.12 633.7,197.11 633.9,197.09 634.1,197.08 634.3,197.06 634.5,197.05 634.7,197.03 634.9,196.88 635.1,196.58 635.3,196.28 635.5,195.98 635.7,200.04 635.9,203.69 636.1,206.98 636.3,209.94 636.5,212.6 636.7,214.99 636.9,217.15 637.1,219.09 637.3,220.84 637.5,222.41 637.7,223.83 637.9,225.1 638.1,226.25 638.3,227.28 638.5,228.21 638.7,229.05 638.9,229.8 639.1,230.48 639.3,231.09 639.5,231.64 639.7,232.13 639.9,232.58 640.1,232.98 640.3,233.34 640.5,233.66 640.7,233.96 640.9,234.22 641.1,234.45 641.3,234.67 641.5,234.86 641.7,235.03 641.9,235.19 642.1,235.33 642.3,235.45 642.5,235.57 642.7,235.67 642.9,209.61 643.1,208.81 643.3,208.05 643.5,207.34 643.7,206.66 643.9,206.03 644.1,205.43 644.3,204.86 644.5,204.32 644.7,203.82 644.9,203.34 645.1,202.89 645.3,202.46 645.5,202.06 645.7,201.68 645.9,201.32 646.1,200.98 646.3,200.66 646.5,200.35 646.7,200.07 646.9,199.8 647.1,199.54 647.3,199.3 647.5,199.07 647.7,198.86 647.9,198.66 648.1,198.46 648.3,198.28 648.5,198.11 648.7,197.95 648.9,197.8 649.1,197.65 649.3,197.52 649.5,197.39 649.7,197.27 649.9,197.15 650.1,197.04 650.3,196.94 650.5,196.85 650.7,196.75 650.9,196.67 651.1,196.59 651.3,196.51 651.5,196.44 651.7,196.37 651.9,196.3 652.1,196.24 652.3,196.19 652.5,196.13 652.7,196.08 652.9,196.03 653.1,195.98 653.3,195.94 653.5,195.9 653.7,195.86 653.9,195.82 654.1,195.79 654.3,195.76 654.5,195.73 654.7,195.7 654.9,195.67 655.1,195.64 655.3,195.62 655.5,195.6 655.7,195.57 655.9,195.55 656.1,195.53 656.3,195.52 656.5,195.5 656.7,195.48 656.9,195.47 657.1,195.45 657.3,195.44 657.5,195.43 657.7,195.27 657.9,194.97 658.1,194.67 658.3,194.38 658.5,198.59 658.7,202.39 658.9,205.8 659.1,208.88 659.3,211.65 659.5,214.14 659.7,216.38 659.9,218.4 660.1,220.22 660.3,221.85 660.5,223.32 660.7,224.65 660.9,225.84 661.1,226.92 661.3,227.88 661.5,228.75 661.7,229.53 661.9,230.24 662.1,230.87 662.3,231.44 662.5,231.96 662.7,232.42 662.9,232.84 663.1,233.21 663.3,233.55 663.5,233.85 663.7,234.12 663.9,234.37 664.1,234.59 664.3,234.79 664.5,234.97 664.7,235.13 664.9,235.28 665.1,235.41 665.3,235.52 665.5,235.63 665.7,235.73 665.9,218.5 666.1,217.58 666.3,216.71 666.5,215.9 666.7,215.13 666.9,214.4 667.1,213.71 667.3,213.06 667.5,212.45 667.7,211.87 667.9,211.32 668.1,210.8 668.3,210.32 668.5,209.85 668.7,209.42 668.9,209.01 669.1,208.62 669.3,208.25 669.5,207.91 669.7,207.58 669.9,207.27 670.1,206.98 670.3,206.7 670.5,206.44 670.7,206.2 670.9,205.96 671.1,205.74 671.3,205.54 671.5,205.34 671.7,205.16 671.9,204.98 672.1,204.82 672.3,204.66 672.5,204.51 672.7,204.37 672.9,204.24 673.1,204.12 673.3,204 673.5,203.89 673.7,203.79 673.9,203.69 674.1,203.6 674.3,203.51 674.5,203.43 674.7,203.35 674.9,203.27 675.1,203.2 675.3,203.14 675.5,203.07 675.7,203.02 675.9,202.96 676.1,202.91 676.3,202.86 676.5,202.81 676.7,202.77 676.9,202.72 677.1,202.68 677.3,202.65 677.5,202.61 677.7,202.58 677.9,202.55 678.1,202.52 678.3,202.49 678.5,202.46 678.7,202.44 678.9,202.41 679.1,202.39 679.3,202.37 679.5,202.35 679.7,202.33 679.9,202.31 680.1,202.3 680.3,202.28 680.5,202.27 680.7,202.25 680.9,202.24 681.1,202.23 681.3,202.22" fill="none" stroke="#2c86cc" stroke-width="1.15" stroke-linejoin="round" stroke-linecap="round" />
<rect x="561.7" y="160.2" width="20.5" height="76.7" fill="none" stroke="#f2b070" stroke-width="0.45" stroke-dasharray="1,0.7"/>
<rect x="555.3" y="138.6" width="126.1" height="101" fill="none" stroke="#555" stroke-width="0.45"/>
<line x1="555.3" y1="239.6" x2="556.7" y2="239.6" stroke="#444" stroke-width="0.4" />
<line x1="681.4" y1="239.6" x2="680" y2="239.6" stroke="#444" stroke-width="0.4" />
<line x1="555.3" y1="219.5" x2="556.7" y2="219.5" stroke="#444" stroke-width="0.4" />
<line x1="681.4" y1="219.5" x2="680" y2="219.5" stroke="#444" stroke-width="0.4" />
<line x1="555.3" y1="199.4" x2="556.7" y2="199.4" stroke="#444" stroke-width="0.4" />
<line x1="681.4" y1="199.4" x2="680" y2="199.4" stroke="#444" stroke-width="0.4" />
<line x1="555.3" y1="179.3" x2="556.7" y2="179.3" stroke="#444" stroke-width="0.4" />
<line x1="681.4" y1="179.3" x2="680" y2="179.3" stroke="#444" stroke-width="0.4" />
<line x1="555.3" y1="159.2" x2="556.7" y2="159.2" stroke="#444" stroke-width="0.4" />
<line x1="681.4" y1="159.2" x2="680" y2="159.2" stroke="#444" stroke-width="0.4" />
<text x="550.6" y="242.19" font-size="7.2" fill="#222" text-anchor="end">0</text>
<text x="550.6" y="201.99" font-size="7.2" fill="#222" text-anchor="end">2</text>
<text x="550.6" y="161.79" font-size="7.2" fill="#222" text-anchor="end">4</text>
<line x1="556" y1="239.6" x2="556" y2="238.2" stroke="#444" stroke-width="0.4" />
<line x1="556" y1="138.6" x2="556" y2="140" stroke="#444" stroke-width="0.4" />
<text x="556" y="250.32" font-size="7" fill="#222" text-anchor="middle">0</text>
<line x1="593.41" y1="239.6" x2="593.41" y2="238.2" stroke="#444" stroke-width="0.4" />
<line x1="593.41" y1="138.6" x2="593.41" y2="140" stroke="#444" stroke-width="0.4" />
<text x="593.41" y="250.32" font-size="7" fill="#222" text-anchor="middle">300</text>
<line x1="630.82" y1="239.6" x2="630.82" y2="238.2" stroke="#444" stroke-width="0.4" />
<line x1="630.82" y1="138.6" x2="630.82" y2="140" stroke="#444" stroke-width="0.4" />
<text x="630.82" y="250.32" font-size="7" fill="#222" text-anchor="middle">600</text>
<line x1="668.23" y1="239.6" x2="668.23" y2="238.2" stroke="#444" stroke-width="0.4" />
<line x1="668.23" y1="138.6" x2="668.23" y2="140" stroke="#444" stroke-width="0.4" />
<text x="668.23" y="250.32" font-size="7" fill="#222" text-anchor="middle">900</text>
<text x="619" y="258.14" font-size="7.6" fill="#222" text-anchor="middle">Time (s)</text>
<text transform="translate(539.66,190.3) rotate(-90)" font-size="7.4" fill="#222" text-anchor="middle">Current (μA)</text>
<text x="564.6" y="146.52" font-size="7" fill="#222" textLength="13.2" lengthAdjust="spacingAndGlyphs">200</text>
<text x="587.5" y="146.52" font-size="7" fill="#222" textLength="12.3" lengthAdjust="spacingAndGlyphs">300</text>
<text x="610" y="146.52" font-size="7" fill="#222" textLength="13.2" lengthAdjust="spacingAndGlyphs">500</text>
<text x="633.5" y="146.52" font-size="7" fill="#222" textLength="12.5" lengthAdjust="spacingAndGlyphs">800</text>
<text x="654.8" y="146.52" font-size="7" fill="#222" textLength="15.2" lengthAdjust="spacingAndGlyphs">1000</text>
<text x="564.6" y="155.32" font-size="7" fill="#222" textLength="13.2" lengthAdjust="spacingAndGlyphs">ppm</text>
<text x="599.6" y="154.52" font-size="7" fill="#1b9fd0" textLength="13.5" lengthAdjust="spacingAndGlyphs">“on”</text>
<text x="621.5" y="237.92" font-size="7" fill="#1b9fd0" textLength="13.5" lengthAdjust="spacingAndGlyphs">“off”</text>
<text x="369.1" y="266.97" font-size="14" fill="#231815" font-weight="bold">k</text>
<g stroke="#a4acd6" stroke-width="0.62">
<line x1="394.6" y1="269.69" x2="394.6" y2="316.08"/>
<line x1="396.5" y1="268.69" x2="396.5" y2="315.6"/>
<line x1="398.4" y1="269.05" x2="398.4" y2="315.69"/>
<line x1="400.3" y1="270.59" x2="400.3" y2="316.56"/>
<line x1="402.2" y1="272.82" x2="402.2" y2="318.1"/>
<line x1="404.1" y1="275.65" x2="404.1" y2="320.06"/>
<line x1="406" y1="279.14" x2="406" y2="322.17"/>
<line x1="407.9" y1="283.1" x2="407.9" y2="324.29"/>
<line x1="409.8" y1="287.24" x2="409.8" y2="326.4"/>
<line x1="411.7" y1="291.4" x2="411.7" y2="328.5"/>
<line x1="413.6" y1="295.52" x2="413.6" y2="330.6"/>
<line x1="415.5" y1="299.52" x2="415.5" y2="332.68"/>
<line x1="417.4" y1="303.47" x2="417.4" y2="334.66"/>
<line x1="419.3" y1="307.36" x2="419.3" y2="336.54"/>
<line x1="421.2" y1="311.18" x2="421.2" y2="338.45"/>
<line x1="423.1" y1="315.01" x2="423.1" y2="340.48"/>
<line x1="425" y1="318.88" x2="425" y2="342.5"/>
<line x1="426.9" y1="322.63" x2="426.9" y2="344.31"/>
<line x1="428.8" y1="326.01" x2="428.8" y2="345.81"/>
<line x1="430.7" y1="328.75" x2="430.7" y2="347.06"/>
<line x1="432.6" y1="330.82" x2="432.6" y2="348.1"/>
<line x1="434.5" y1="332.48" x2="434.5" y2="349.01"/>
<line x1="436.4" y1="334" x2="436.4" y2="349.82"/>
<line x1="438.3" y1="335.48" x2="438.3" y2="350.55"/>
<line x1="440.2" y1="336.94" x2="440.2" y2="351.21"/>
<line x1="442.1" y1="338.29" x2="442.1" y2="351.81"/>
<line x1="444" y1="339.46" x2="444" y2="352.35"/>
<line x1="445.9" y1="340.42" x2="445.9" y2="352.84"/>
<line x1="447.8" y1="341.24" x2="447.8" y2="353.27"/>
<line x1="449.7" y1="342" x2="449.7" y2="353.65"/>
<line x1="451.6" y1="342.72" x2="451.6" y2="353.98"/>
<line x1="453.5" y1="343.41" x2="453.5" y2="354.3"/>
<line x1="455.4" y1="344.08" x2="455.4" y2="354.63"/>
<line x1="457.3" y1="344.73" x2="457.3" y2="354.97"/>
<line x1="459.2" y1="345.37" x2="459.2" y2="355.32"/>
<line x1="461.1" y1="345.99" x2="461.1" y2="355.66"/>
<line x1="463" y1="346.57" x2="463" y2="355.98"/>
<line x1="464.9" y1="347.08" x2="464.9" y2="356.26"/>
<line x1="466.8" y1="347.54" x2="466.8" y2="356.52"/>
<line x1="468.7" y1="347.92" x2="468.7" y2="356.75"/>
<line x1="470.6" y1="348.23" x2="470.6" y2="356.96"/>
<line x1="472.5" y1="348.47" x2="472.5" y2="357.13"/>
<line x1="474.4" y1="348.65" x2="474.4" y2="357.23"/>
<line x1="476.3" y1="348.75" x2="476.3" y2="356.43"/>
<line x1="478.2" y1="342.21" x2="478.2" y2="353.62"/>
<line x1="480.1" y1="332.79" x2="480.1" y2="349.51"/>
<line x1="482" y1="325.35" x2="482" y2="345.77"/>
<line x1="483.9" y1="320.16" x2="483.9" y2="342.84"/>
<line x1="485.8" y1="316.39" x2="485.8" y2="340.54"/>
<line x1="487.7" y1="313.24" x2="487.7" y2="338.55"/>
<line x1="489.6" y1="310.39" x2="489.6" y2="336.69"/>
<line x1="491.5" y1="307.57" x2="491.5" y2="335.04"/>
<line x1="493.4" y1="304.7" x2="493.4" y2="333.77"/>
<line x1="495.3" y1="301.96" x2="495.3" y2="332.8"/>
<line x1="497.2" y1="299.45" x2="497.2" y2="331.94"/>
<line x1="499.1" y1="297.14" x2="499.1" y2="331.06"/>
<line x1="501" y1="295.05" x2="501" y2="330.14"/>
<line x1="502.9" y1="293.18" x2="502.9" y2="329.23"/>
<line x1="504.8" y1="291.5" x2="504.8" y2="328.37"/>
<line x1="506.7" y1="289.96" x2="506.7" y2="327.6"/>
<line x1="508.6" y1="288.55" x2="508.6" y2="326.87"/>
<line x1="510.5" y1="287.29" x2="510.5" y2="326.16"/>
<line x1="512.4" y1="286.17" x2="512.4" y2="325.42"/>
<line x1="514.3" y1="285.16" x2="514.3" y2="324.69"/>
<line x1="516.2" y1="284.25" x2="516.2" y2="324"/>
<line x1="518.1" y1="283.45" x2="518.1" y2="323.41"/>
</g>
<line x1="393.6" y1="267.3" x2="519.9" y2="267.3" stroke="#f0a0b0" stroke-width="0.5" stroke-dasharray="1.6,1"/>
<line x1="393.6" y1="357.6" x2="519.9" y2="357.6" stroke="#35b8c8" stroke-width="0.6" stroke-dasharray="1.4,1"/>
<polyline points="393.24,270.85 393.6,270.54 393.95,270.23 394.3,269.94 394.65,269.65 395,269.39 395.35,269.16 395.7,268.97 396.05,268.82 396.41,268.71 396.76,268.66 397.11,268.65 397.46,268.7 397.81,268.79 398.16,268.93 398.51,269.11 398.86,269.34 399.22,269.6 399.57,269.89 399.92,270.21 400.27,270.55 400.62,270.92 400.97,271.31 401.32,271.72 401.67,272.15 402.03,272.59 402.38,273.06 402.73,273.54 403.08,274.05 403.43,274.58 403.78,275.13 404.13,275.7 404.48,276.3 404.84,276.93 405.19,277.57 405.54,278.23 405.89,278.92 406.24,279.62 406.59,280.34 406.94,281.07 407.29,281.81 407.65,282.56 408,283.31 408.35,284.07 408.7,284.84 409.05,285.6 409.4,286.37 409.75,287.14 410.1,287.91 410.46,288.68 410.81,289.45 411.16,290.22 411.51,290.98 411.86,291.75 412.21,292.52 412.56,293.28 412.91,294.04 413.27,294.8 413.62,295.55 413.97,296.3 414.32,297.04 414.67,297.78 415.02,298.52 415.37,299.26 415.72,299.99 416.08,300.72 416.43,301.45 416.78,302.18 417.13,302.91 417.48,303.63 417.83,304.36 418.18,305.08 418.53,305.8 418.89,306.51 419.24,307.23 419.59,307.94 419.94,308.64 420.29,309.35 420.64,310.06 420.99,310.76 421.34,311.47 421.7,312.17 422.05,312.88 422.4,313.59 422.75,314.3 423.1,315.02 423.45,315.73 423.8,316.45 424.15,317.16 424.51,317.88 424.86,318.59 425.21,319.3 425.56,320 425.91,320.7 426.26,321.4 426.61,322.08 426.96,322.75 427.32,323.41 427.67,324.06 428.02,324.69 428.37,325.3 428.72,325.88 429.07,326.45 429.42,326.99 429.77,327.51 430.13,328 430.48,328.47 430.83,328.91 431.18,329.33 431.53,329.72 431.88,330.1 432.23,330.46 432.58,330.8 432.94,331.13 433.29,331.45 433.64,331.76 433.99,332.06 434.34,332.35 434.69,332.64 435.04,332.92 435.39,333.21 435.75,333.49 436.1,333.76 436.45,334.04 436.8,334.32 437.15,334.59 437.5,334.87 437.85,335.14 438.2,335.41 438.56,335.68 438.91,335.95 439.26,336.22 439.61,336.49 439.96,336.76 440.31,337.02 440.66,337.28 441.01,337.53 441.37,337.79 441.72,338.03 442.07,338.27 442.42,338.5 442.77,338.73 443.12,338.95 443.47,339.16 443.82,339.36 444.18,339.56 444.53,339.74 444.88,339.92 445.23,340.1 445.58,340.27 445.93,340.43 446.28,340.59 446.63,340.75 446.99,340.9 447.34,341.05 447.69,341.19 448.04,341.34 448.39,341.48 448.74,341.62 449.09,341.76 449.44,341.9 449.8,342.03 450.15,342.17 450.5,342.3 450.85,342.44 451.2,342.57 451.55,342.7 451.9,342.83 452.25,342.96 452.61,343.09 452.96,343.22 453.31,343.34 453.66,343.47 454.01,343.59 454.36,343.72 454.71,343.84 455.06,343.96 455.42,344.09 455.77,344.21 456.12,344.33 456.47,344.45 456.82,344.57 457.17,344.69 457.52,344.81 457.87,344.93 458.23,345.05 458.58,345.16 458.93,345.28 459.28,345.4 459.63,345.51 459.98,345.63 460.33,345.74 460.68,345.86 461.04,345.97 461.39,346.08 461.74,346.19 462.09,346.3 462.44,346.4 462.79,346.51 463.14,346.61 463.49,346.71 463.85,346.81 464.2,346.9 464.55,346.99 464.9,347.08 465.25,347.17 465.6,347.26 465.95,347.34 466.3,347.43 466.66,347.5 467.01,347.58 467.36,347.66 467.71,347.73 468.06,347.8 468.41,347.87 468.76,347.93 469.11,347.99 469.47,348.05 469.82,348.11 470.17,348.17 470.52,348.22 470.87,348.27 471.22,348.32 471.57,348.36 471.92,348.41 472.28,348.45 472.63,348.49 472.98,348.53 473.33,348.56 473.68,348.59 474.03,348.62 474.38,348.65 474.73,348.67 475.09,348.69 475.44,348.71 475.79,348.73 476.14,348.74 476.49,348.41 476.84,346.86 477.19,345.99 477.54,344.87 477.9,343.53 478.25,341.99 478.6,340.3 478.95,338.52 479.3,336.72 479.65,334.95 480,333.25 480.35,331.63 480.71,330.12 481.06,328.71 481.41,327.38 481.76,326.15 482.11,324.99 482.46,323.91 482.81,322.9 483.16,321.95 483.52,321.07 483.87,320.24 484.22,319.46 484.57,318.72 484.92,318.02 485.27,317.35 485.62,316.71 485.97,316.09 486.33,315.48 486.68,314.89 487.03,314.31 487.38,313.75 487.73,313.2 488.08,312.66 488.43,312.12 488.78,311.6 489.14,311.08 489.49,310.56 489.84,310.04 490.19,309.53 490.54,309.01 490.89,308.49 491.24,307.96 491.59,307.43 491.95,306.9 492.3,306.37 492.65,305.83 493,305.3 493.35,304.77 493.7,304.25 494.05,303.73 494.4,303.22 494.76,302.72 495.11,302.23 495.46,301.74 495.81,301.27 496.16,300.8 496.51,300.34 496.86,299.88 497.21,299.43 497.57,298.99 497.92,298.55 498.27,298.12 498.62,297.7 498.97,297.29 499.32,296.88 499.67,296.48 500.02,296.09 500.38,295.71 500.73,295.34 501.08,294.97 501.43,294.61 501.78,294.26 502.13,293.92 502.48,293.58 502.83,293.25 503.19,292.92 503.54,292.6 503.89,292.29 504.24,291.98 504.59,291.67 504.94,291.38 505.29,291.08 505.64,290.8 506,290.51 506.35,290.24 506.7,289.96 507.05,289.69 507.4,289.43 507.75,289.16 508.1,288.91 508.45,288.65 508.81,288.41 509.16,288.16 509.51,287.93 509.86,287.7 510.21,287.47 510.56,287.25 510.91,287.03 511.26,286.82 511.62,286.62 511.97,286.41 512.32,286.22 512.67,286.02 513.02,285.83 513.37,285.64 513.72,285.46 514.07,285.28 514.43,285.1 514.78,284.92 515.13,284.75 515.48,284.58 515.83,284.42 516.18,284.26 516.53,284.1 516.88,283.95 517.24,283.8 517.59,283.65 517.94,283.51 518.29,283.38 518.64,283.24 518.99,283.12 519.34,283 519.69,282.88" fill="none" stroke="#ea7f68" stroke-width="0.8" stroke-linejoin="round" stroke-linecap="round" />
<polyline points="393.24,316.57 393.6,316.44 393.95,316.32 394.3,316.19 394.65,316.07 395,315.95 395.35,315.84 395.7,315.75 396.05,315.67 396.41,315.61 396.76,315.57 397.11,315.55 397.46,315.55 397.81,315.58 398.16,315.64 398.51,315.72 398.86,315.83 399.22,315.97 399.57,316.13 399.92,316.32 400.27,316.54 400.62,316.77 400.97,317.03 401.32,317.32 401.67,317.62 402.03,317.93 402.38,318.27 402.73,318.61 403.08,318.97 403.43,319.34 403.78,319.71 404.13,320.09 404.48,320.48 404.84,320.87 405.19,321.26 405.54,321.65 405.89,322.05 406.24,322.44 406.59,322.83 406.94,323.23 407.29,323.62 407.65,324.01 408,324.4 408.35,324.79 408.7,325.18 409.05,325.57 409.4,325.95 409.75,326.34 410.1,326.73 410.46,327.12 410.81,327.51 411.16,327.9 411.51,328.29 411.86,328.68 412.21,329.06 412.56,329.45 412.91,329.84 413.27,330.23 413.62,330.62 413.97,331.01 414.32,331.39 414.67,331.78 415.02,332.16 415.37,332.54 415.72,332.92 416.08,333.29 416.43,333.66 416.78,334.02 417.13,334.38 417.48,334.74 417.83,335.09 418.18,335.44 418.53,335.79 418.89,336.13 419.24,336.48 419.59,336.82 419.94,337.17 420.29,337.52 420.64,337.88 420.99,338.23 421.34,338.6 421.7,338.97 422.05,339.34 422.4,339.72 422.75,340.09 423.1,340.48 423.45,340.86 423.8,341.24 424.15,341.62 424.51,341.99 424.86,342.35 425.21,342.71 425.56,343.06 425.91,343.4 426.26,343.73 426.61,344.05 426.96,344.36 427.32,344.66 427.67,344.95 428.02,345.23 428.37,345.5 428.72,345.76 429.07,346.01 429.42,346.25 429.77,346.48 430.13,346.71 430.48,346.92 430.83,347.13 431.18,347.34 431.53,347.54 431.88,347.73 432.23,347.91 432.58,348.1 432.94,348.27 433.29,348.45 433.64,348.62 433.99,348.78 434.34,348.94 434.69,349.1 435.04,349.25 435.39,349.41 435.75,349.55 436.1,349.7 436.45,349.84 436.8,349.98 437.15,350.12 437.5,350.25 437.85,350.38 438.2,350.51 438.56,350.64 438.91,350.76 439.26,350.89 439.61,351.01 439.96,351.13 440.31,351.24 440.66,351.36 441.01,351.47 441.37,351.58 441.72,351.69 442.07,351.8 442.42,351.9 442.77,352 443.12,352.11 443.47,352.21 443.82,352.3 444.18,352.4 444.53,352.49 444.88,352.58 445.23,352.67 445.58,352.76 445.93,352.85 446.28,352.93 446.63,353.01 446.99,353.09 447.34,353.17 447.69,353.25 448.04,353.32 448.39,353.39 448.74,353.46 449.09,353.53 449.44,353.6 449.8,353.66 450.15,353.73 450.5,353.79 450.85,353.85 451.2,353.91 451.55,353.97 451.9,354.03 452.25,354.09 452.61,354.15 452.96,354.21 453.31,354.27 453.66,354.33 454.01,354.39 454.36,354.45 454.71,354.51 455.06,354.57 455.42,354.63 455.77,354.69 456.12,354.75 456.47,354.82 456.82,354.88 457.17,354.94 457.52,355.01 457.87,355.07 458.23,355.14 458.58,355.2 458.93,355.27 459.28,355.33 459.63,355.4 459.98,355.46 460.33,355.53 460.68,355.59 461.04,355.65 461.39,355.71 461.74,355.77 462.09,355.83 462.44,355.89 462.79,355.95 463.14,356 463.49,356.06 463.85,356.11 464.2,356.16 464.55,356.21 464.9,356.26 465.25,356.31 465.6,356.36 465.95,356.41 466.3,356.45 466.66,356.5 467.01,356.54 467.36,356.59 467.71,356.63 468.06,356.68 468.41,356.72 468.76,356.76 469.11,356.8 469.47,356.84 469.82,356.88 470.17,356.92 470.52,356.95 470.87,356.99 471.22,357.02 471.57,357.05 471.92,357.08 472.28,357.11 472.63,357.13 472.98,357.16 473.33,357.18 473.68,357.2 474.03,357.22 474.38,357.23 474.73,357.24 475.09,357.26 475.44,357.26 475.79,357.14 476.14,356.56 476.49,356.25 476.84,355.85 477.19,355.37 477.54,354.82 477.9,354.2 478.25,353.52 478.6,352.8 478.95,352.05 479.3,351.28 479.65,350.5 480,349.72 480.35,348.97 480.71,348.23 481.06,347.53 481.41,346.85 481.76,346.2 482.11,345.58 482.46,344.99 482.81,344.42 483.16,343.88 483.52,343.37 483.87,342.89 484.22,342.42 484.57,341.98 484.92,341.55 485.27,341.14 485.62,340.74 485.97,340.35 486.33,339.97 486.68,339.6 487.03,339.23 487.38,338.88 487.73,338.52 488.08,338.17 488.43,337.82 488.78,337.47 489.14,337.13 489.49,336.8 489.84,336.47 490.19,336.14 490.54,335.83 490.89,335.53 491.24,335.24 491.59,334.97 491.95,334.71 492.3,334.46 492.65,334.23 493,334.01 493.35,333.8 493.7,333.6 494.05,333.41 494.4,333.23 494.76,333.06 495.11,332.89 495.46,332.72 495.81,332.56 496.16,332.4 496.51,332.25 496.86,332.09 497.21,331.93 497.57,331.77 497.92,331.61 498.27,331.45 498.62,331.29 498.97,331.12 499.32,330.95 499.67,330.78 500.02,330.61 500.38,330.44 500.73,330.27 501.08,330.1 501.43,329.93 501.78,329.76 502.13,329.59 502.48,329.42 502.83,329.26 503.19,329.1 503.54,328.93 503.89,328.77 504.24,328.62 504.59,328.46 504.94,328.31 505.29,328.17 505.64,328.02 506,327.88 506.35,327.74 506.7,327.6 507.05,327.46 507.4,327.33 507.75,327.19 508.1,327.06 508.45,326.93 508.81,326.8 509.16,326.66 509.51,326.53 509.86,326.4 510.21,326.27 510.56,326.14 510.91,326 511.26,325.87 511.62,325.73 511.97,325.59 512.32,325.46 512.67,325.32 513.02,325.18 513.37,325.04 513.72,324.91 514.07,324.77 514.43,324.64 514.78,324.51 515.13,324.38 515.48,324.25 515.83,324.13 516.18,324.01 516.53,323.89 516.88,323.77 517.24,323.66 517.59,323.56 517.94,323.46 518.29,323.36 518.64,323.27 518.99,323.18 519.34,323.1 519.69,323.02" fill="none" stroke="#2f8fd0" stroke-width="1.1" stroke-linejoin="round" stroke-linecap="round" />
<rect x="393.6" y="261.4" width="126.3" height="100.2" fill="none" stroke="#555" stroke-width="0.45"/>
<line x1="393.6" y1="361.3" x2="395" y2="361.3" stroke="#444" stroke-width="0.4" />
<line x1="519.9" y1="361.3" x2="518.5" y2="361.3" stroke="#444" stroke-width="0.4" />
<text x="388.8" y="363.82" font-size="7" fill="#222" text-anchor="end">0</text>
<line x1="393.6" y1="336.3" x2="395" y2="336.3" stroke="#444" stroke-width="0.4" />
<line x1="519.9" y1="336.3" x2="518.5" y2="336.3" stroke="#444" stroke-width="0.4" />
<text x="388.8" y="338.82" font-size="7" fill="#222" text-anchor="end">1</text>
<line x1="393.6" y1="311.3" x2="395" y2="311.3" stroke="#444" stroke-width="0.4" />
<line x1="519.9" y1="311.3" x2="518.5" y2="311.3" stroke="#444" stroke-width="0.4" />
<text x="388.8" y="313.82" font-size="7" fill="#222" text-anchor="end">2</text>
<line x1="393.6" y1="286.3" x2="395" y2="286.3" stroke="#444" stroke-width="0.4" />
<line x1="519.9" y1="286.3" x2="518.5" y2="286.3" stroke="#444" stroke-width="0.4" />
<text x="388.8" y="288.82" font-size="7" fill="#222" text-anchor="end">3</text>
<line x1="393.6" y1="261.3" x2="395" y2="261.3" stroke="#444" stroke-width="0.4" />
<line x1="519.9" y1="261.3" x2="518.5" y2="261.3" stroke="#444" stroke-width="0.4" />
<text x="388.8" y="263.82" font-size="7" fill="#222" text-anchor="end">4</text>
<line x1="414.6" y1="361.6" x2="414.6" y2="360.2" stroke="#444" stroke-width="0.4" />
<line x1="414.6" y1="261.4" x2="414.6" y2="262.8" stroke="#444" stroke-width="0.4" />
<text x="414.6" y="373.02" font-size="7" fill="#222" text-anchor="middle">100</text>
<line x1="442.7" y1="361.6" x2="442.7" y2="360.2" stroke="#444" stroke-width="0.4" />
<line x1="442.7" y1="261.4" x2="442.7" y2="262.8" stroke="#444" stroke-width="0.4" />
<text x="442.7" y="373.02" font-size="7" fill="#222" text-anchor="middle">120</text>
<line x1="470.8" y1="361.6" x2="470.8" y2="360.2" stroke="#444" stroke-width="0.4" />
<line x1="470.8" y1="261.4" x2="470.8" y2="262.8" stroke="#444" stroke-width="0.4" />
<text x="470.8" y="373.02" font-size="7" fill="#222" text-anchor="middle">140</text>
<line x1="498.9" y1="361.6" x2="498.9" y2="360.2" stroke="#444" stroke-width="0.4" />
<line x1="498.9" y1="261.4" x2="498.9" y2="262.8" stroke="#444" stroke-width="0.4" />
<text x="498.9" y="373.02" font-size="7" fill="#222" text-anchor="middle">160</text>
<text x="456.6" y="382.86" font-size="7.4" fill="#222" text-anchor="middle">Time (s)</text>
<text transform="translate(376.16,311.1) rotate(-90)" font-size="7.4" fill="#222" text-anchor="middle">Current (μA)</text>
<line x1="421.5" y1="296.2" x2="494.4" y2="296.2" stroke="#b8b8b8" stroke-width="0.7" />
<line x1="434.9" y1="305.8" x2="470.3" y2="305.8" stroke="#b8b8b8" stroke-width="0.7" />
<polyline points="433.3,296.2 433.3,278.3 447,278.3 447,296.2" fill="none" stroke="#e8202c" stroke-width="0.9" stroke-linejoin="round" stroke-linecap="round" />
<line x1="433.3" y1="287.5" x2="433.3" y2="296.2" stroke="#5a2a2a" stroke-width="0.9" />
<line x1="447" y1="287.5" x2="447" y2="296.2" stroke="#5a2a2a" stroke-width="0.9" />
<line x1="433.3" y1="291" x2="433.3" y2="296.2" stroke="#222" stroke-width="0.9" />
<line x1="447" y1="291" x2="447" y2="296.2" stroke="#222" stroke-width="0.9" />
<polyline points="470.3,296.2 470.3,278.3 483.6,278.3 483.6,296.2" fill="none" stroke="#e8202c" stroke-width="0.9" stroke-linejoin="round" stroke-linecap="round" />
<line x1="470.3" y1="287.5" x2="470.3" y2="296.2" stroke="#5a2a2a" stroke-width="0.9" />
<line x1="483.6" y1="287.5" x2="483.6" y2="296.2" stroke="#5a2a2a" stroke-width="0.9" />
<line x1="470.3" y1="291" x2="470.3" y2="296.2" stroke="#222" stroke-width="0.9" />
<line x1="483.6" y1="291" x2="483.6" y2="296.2" stroke="#222" stroke-width="0.9" />
<polyline points="447,285.6 470.3,285.6" fill="none" stroke="#222" stroke-width="0.7" stroke-linejoin="round" stroke-linecap="round" />
<text x="433.7" y="276.39" font-size="5.8" fill="#222" textLength="13.3" lengthAdjust="spacingAndGlyphs">3.5 V</text>
<text x="434.5" y="281.72" font-size="3.4" fill="#e8202c" textLength="8" lengthAdjust="spacingAndGlyphs">50%</text>
<text x="454.3" y="283.79" font-size="5.8" fill="#222" textLength="10.3" lengthAdjust="spacingAndGlyphs">77%</text>
<text x="456" y="293.49" font-size="5.8" fill="#222" textLength="9" lengthAdjust="spacingAndGlyphs">3 V</text>
<text x="425" y="293.39" font-size="5.8" fill="#222">V<tspan dy="1" font-size="3.5">H</tspan></text>
<text x="421" y="301.69" font-size="5.8" fill="#e8202c" textLength="13.8" lengthAdjust="spacingAndGlyphs">temp.</text>
<text x="449.7" y="302.79" font-size="5.8" fill="#e8202c" textLength="17.2" lengthAdjust="spacingAndGlyphs">350 °C</text>
<text x="447.5" y="311.99" font-size="5.8" fill="#222" textLength="12.5" lengthAdjust="spacingAndGlyphs">1.3 s</text>
<text x="436.9" y="329.29" font-size="5.8" fill="#e8604a" textLength="32.8" lengthAdjust="spacingAndGlyphs">Higher temp.</text>
<line x1="448.7" y1="331" x2="444.1" y2="339.4" stroke="#e8604a" stroke-width="0.55" />
<text x="401.3" y="346.69" font-size="5.8" fill="#2f8fd0" textLength="16.4" lengthAdjust="spacingAndGlyphs">Lower</text>
<text x="403.2" y="354.19" font-size="5.8" fill="#2f8fd0" textLength="14.4" lengthAdjust="spacingAndGlyphs">temp.</text>
<line x1="418.7" y1="348.6" x2="424.9" y2="342.9" stroke="#2f8fd0" stroke-width="0.6" />
<text x="513.6" y="273.18" font-size="5.5" fill="#f0a0b0">I<tspan dy="1" font-size="3.5">0</tspan></text>
<text x="514.6" y="353.58" font-size="5.5" fill="#35b8c8">I<tspan dy="1" font-size="3.5">0</tspan></text>
<text x="530.7" y="267.5" font-size="14" fill="#231815" font-weight="bold">l</text>
<rect x="554.0" y="261.4" width="127.4" height="100.6" fill="none" stroke="#555" stroke-width="0.45"/>
<line x1="554" y1="361.8" x2="555.4" y2="361.8" stroke="#444" stroke-width="0.4" />
<line x1="681.4" y1="361.8" x2="680" y2="361.8" stroke="#444" stroke-width="0.4" />
<text x="551.8" y="364.32" font-size="7" fill="#222" text-anchor="end">0</text>
<line x1="554" y1="336.7" x2="555.4" y2="336.7" stroke="#444" stroke-width="0.4" />
<line x1="681.4" y1="336.7" x2="680" y2="336.7" stroke="#444" stroke-width="0.4" />
<text x="551.8" y="339.22" font-size="7" fill="#222" text-anchor="end">10</text>
<line x1="554" y1="311.6" x2="555.4" y2="311.6" stroke="#444" stroke-width="0.4" />
<line x1="681.4" y1="311.6" x2="680" y2="311.6" stroke="#444" stroke-width="0.4" />
<text x="551.8" y="314.12" font-size="7" fill="#222" text-anchor="end">20</text>
<line x1="554" y1="286.5" x2="555.4" y2="286.5" stroke="#444" stroke-width="0.4" />
<line x1="681.4" y1="286.5" x2="680" y2="286.5" stroke="#444" stroke-width="0.4" />
<text x="551.8" y="289.02" font-size="7" fill="#222" text-anchor="end">30</text>
<line x1="554" y1="261.4" x2="555.4" y2="261.4" stroke="#444" stroke-width="0.4" />
<line x1="681.4" y1="261.4" x2="680" y2="261.4" stroke="#444" stroke-width="0.4" />
<text x="551.8" y="263.92" font-size="7" fill="#222" text-anchor="end">40</text>
<line x1="568.7" y1="362" x2="568.7" y2="360.6" stroke="#444" stroke-width="0.4" />
<line x1="568.7" y1="261.4" x2="568.7" y2="262.8" stroke="#444" stroke-width="0.4" />
<text x="568.7" y="372.32" font-size="7" fill="#222" text-anchor="middle">200</text>
<line x1="593.82" y1="362" x2="593.82" y2="360.6" stroke="#444" stroke-width="0.4" />
<line x1="593.82" y1="261.4" x2="593.82" y2="262.8" stroke="#444" stroke-width="0.4" />
<text x="593.82" y="372.32" font-size="7" fill="#222" text-anchor="middle">400</text>
<line x1="618.94" y1="362" x2="618.94" y2="360.6" stroke="#444" stroke-width="0.4" />
<line x1="618.94" y1="261.4" x2="618.94" y2="262.8" stroke="#444" stroke-width="0.4" />
<text x="618.94" y="372.32" font-size="7" fill="#222" text-anchor="middle">600</text>
<line x1="644.06" y1="362" x2="644.06" y2="360.6" stroke="#444" stroke-width="0.4" />
<line x1="644.06" y1="261.4" x2="644.06" y2="262.8" stroke="#444" stroke-width="0.4" />
<text x="644.06" y="372.32" font-size="7" fill="#222" text-anchor="middle">800</text>
<line x1="669.18" y1="362" x2="669.18" y2="360.6" stroke="#444" stroke-width="0.4" />
<line x1="669.18" y1="261.4" x2="669.18" y2="262.8" stroke="#444" stroke-width="0.4" />
<text x="669.18" y="372.32" font-size="7" fill="#222" text-anchor="middle">1000</text>
<text x="618.8" y="382.52" font-size="7" fill="#222" text-anchor="middle" textLength="66.8" lengthAdjust="spacingAndGlyphs">Concentration (ppm)</text>
<text transform="translate(536.82,311) rotate(-90)" font-size="7" fill="#222" text-anchor="middle">Response</text>
<line x1="568.7" y1="311.15" x2="669.18" y2="280.83" stroke="#a8b0de" stroke-width="0.5" stroke-dasharray="1.6,1"/>
<line x1="568.7" y1="339.94" x2="669.18" y2="328.49" stroke="#e8705c" stroke-width="0.5" stroke-dasharray="1.6,1"/>
<polygon points="568.7,312.71 570,315.01 567.4,315.01" fill="#c8cdec" stroke="#98a2d8" stroke-width="0.4" />
<polygon points="581.26,302.67 582.56,304.97 579.96,304.97" fill="#c8cdec" stroke="#98a2d8" stroke-width="0.4" />
<polygon points="606.38,297.15 607.68,299.45 605.08,299.45" fill="#c8cdec" stroke="#98a2d8" stroke-width="0.4" />
<polygon points="644.06,287.61 645.36,289.91 642.76,289.91" fill="#c8cdec" stroke="#98a2d8" stroke-width="0.4" />
<polygon points="669.18,280.08 670.48,282.38 667.88,282.38" fill="#c8cdec" stroke="#98a2d8" stroke-width="0.4" />
<rect x="567.6" y="340.62" width="2.2" height="2.2" fill="#ee8a78" stroke="#d85a48" stroke-width="0.4"/>
<rect x="580.16" y="337.61" width="2.2" height="2.2" fill="#ee8a78" stroke="#d85a48" stroke-width="0.4"/>
<rect x="605.28" y="333.84" width="2.2" height="2.2" fill="#ee8a78" stroke="#d85a48" stroke-width="0.4"/>
<rect x="642.96" y="329.58" width="2.2" height="2.2" fill="#ee8a78" stroke="#d85a48" stroke-width="0.4"/>
<rect x="668.08" y="328.82" width="2.2" height="2.2" fill="#ee8a78" stroke="#d85a48" stroke-width="0.4"/>
<text x="601" y="309.86" font-size="7.4" fill="#a3acdc" textLength="65.2" lengthAdjust="spacingAndGlyphs">y = 0.0151x + 17.16</text>
<text x="601" y="319.46" font-size="7.4" fill="#a3acdc" textLength="29.7" lengthAdjust="spacingAndGlyphs">R<tspan dy="-2.2" font-size="4">2</tspan><tspan dy="2.2"> = 0.97</tspan></text>
<text x="601.3" y="343.46" font-size="7.4" fill="#e8705c" textLength="60" lengthAdjust="spacingAndGlyphs">y = 0.0057x + 7.57</text>
<text x="601.3" y="355.46" font-size="7.4" fill="#e8705c" textLength="30.1" lengthAdjust="spacingAndGlyphs">R<tspan dy="-2.2" font-size="4">2</tspan><tspan dy="2.2"> = 0.94</tspan></text>
<rect x="557" y="263" width="36.6" height="17.2" fill="#ffffff" stroke="#bbbbbb" stroke-width="0.4"/>
<rect x="564.6" y="266.7" width="1.8" height="1.8" fill="#e66a58" />
<polygon points="565.5,274.8 566.6,276.8 564.4,276.8" fill="#a2abdc" stroke="none" stroke-width="0.5" />
<text x="570.8" y="270.12" font-size="7" fill="#222" textLength="10.7" lengthAdjust="spacingAndGlyphs">DC</text>
<text x="570.8" y="278.52" font-size="7" fill="#222" textLength="18.2" lengthAdjust="spacingAndGlyphs">Pulse</text>
<text x="599.8" y="269.42" font-size="7" fill="#222" textLength="51.5" lengthAdjust="spacingAndGlyphs">Response = <tspan fill="#ea7088">I</tspan><tspan dy="1" font-size="4" fill="#ea7088">g</tspan><tspan dy="-1">/</tspan><tspan fill="#2ab0d8">I</tspan><tspan dy="1" font-size="4" fill="#2ab0d8">0</tspan></text>
</svg></body></html>
